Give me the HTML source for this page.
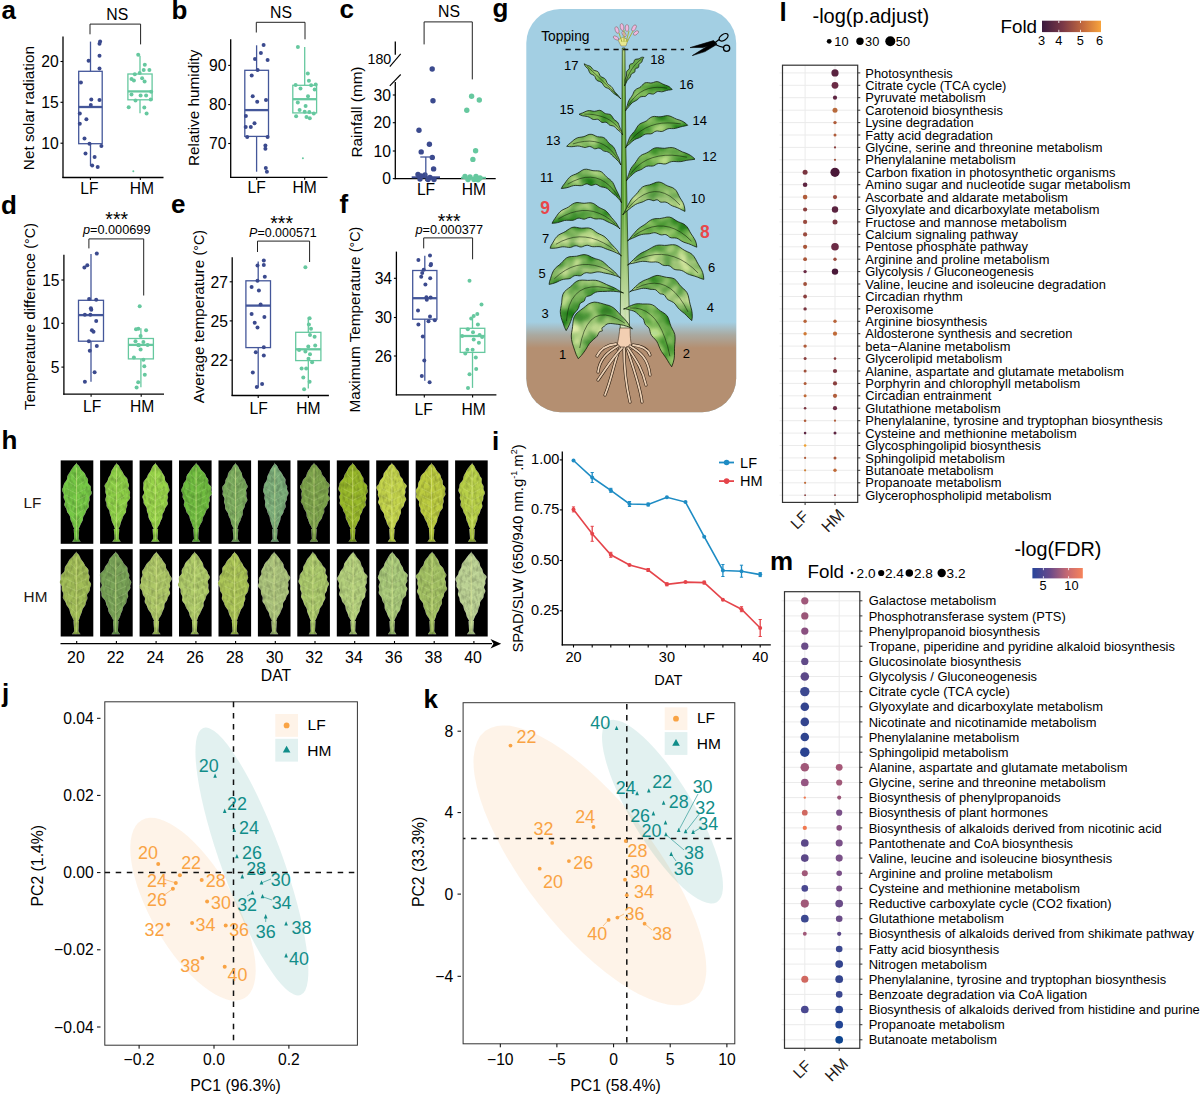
<!DOCTYPE html><html><head><meta charset="utf-8"><title>Figure</title><style>html,body{margin:0;padding:0;background:#fff;}body{width:1200px;height:1095px;overflow:hidden;}svg{display:block;font-family:"Liberation Sans", sans-serif;}</style></head><body><svg width="1200" height="1095" viewBox="0 0 1200 1095" font-family='"Liberation Sans", sans-serif'>
<rect width="1200" height="1095" fill="#fff"/>
<text x="1.5" y="18.5" font-size="26" text-anchor="start" font-weight="bold" fill="#000" >a</text>
<line x1="63.0" y1="36.5" x2="63.0" y2="178.1" stroke="#000" stroke-width="1.3" />
<line x1="62.4" y1="177.5" x2="163.5" y2="177.5" stroke="#000" stroke-width="1.3" />
<line x1="60.5" y1="61.5" x2="63.0" y2="61.5" stroke="#000" stroke-width="1.1" />
<text x="58.7" y="67.2" font-size="15.7" text-anchor="end" fill="#000" >20</text>
<line x1="60.5" y1="102.3" x2="63.0" y2="102.3" stroke="#000" stroke-width="1.1" />
<text x="58.7" y="108.0" font-size="15.7" text-anchor="end" fill="#000" >15</text>
<line x1="60.5" y1="143.2" x2="63.0" y2="143.2" stroke="#000" stroke-width="1.1" />
<text x="58.7" y="148.9" font-size="15.7" text-anchor="end" fill="#000" >10</text>
<line x1="90.4" y1="177.5" x2="90.4" y2="180.0" stroke="#000" stroke-width="1.1" />
<text x="89.4" y="193.8" font-size="15.6" text-anchor="middle" fill="#000" >LF</text>
<line x1="140.3" y1="177.5" x2="140.3" y2="180.0" stroke="#000" stroke-width="1.1" />
<text x="141.8" y="193.8" font-size="15.6" text-anchor="middle" fill="#000" >HM</text>
<text transform="translate(34.2,108.1) rotate(-90)" font-size="15.3" text-anchor="middle" fill="#000">Net solar radiation</text>
<line x1="90.5" y1="41.6" x2="90.5" y2="71.3" stroke="#44579a" stroke-width="1.3" />
<line x1="90.5" y1="143.7" x2="90.5" y2="166.0" stroke="#44579a" stroke-width="1.3" />
<rect x="78.7" y="71.3" width="23.5" height="72.4" fill="none" stroke="#44579a" stroke-width="1.3"/>
<line x1="78.7" y1="107.0" x2="102.2" y2="107.0" stroke="#44579a" stroke-width="2.3" />
<line x1="140.0" y1="55.7" x2="140.0" y2="74.0" stroke="#66c89f" stroke-width="1.3" />
<line x1="140.0" y1="99.8" x2="140.0" y2="113.2" stroke="#66c89f" stroke-width="1.3" />
<rect x="127.9" y="74.0" width="24.2" height="25.8" fill="none" stroke="#66c89f" stroke-width="1.3"/>
<line x1="127.9" y1="91.4" x2="152.1" y2="91.4" stroke="#66c89f" stroke-width="2.3" />
<circle cx="100.1" cy="41.6" r="2.00" fill="#3b4a8e" />
<circle cx="99.5" cy="43.8" r="2.00" fill="#3b4a8e" />
<circle cx="99.5" cy="55.7" r="2.00" fill="#3b4a8e" />
<circle cx="88.6" cy="60.8" r="2.00" fill="#3b4a8e" />
<circle cx="99.5" cy="68.5" r="2.00" fill="#3b4a8e" />
<circle cx="80.9" cy="82.5" r="2.00" fill="#3b4a8e" />
<circle cx="91.3" cy="99.5" r="2.00" fill="#3b4a8e" />
<circle cx="99.5" cy="100.1" r="2.00" fill="#3b4a8e" />
<circle cx="90.8" cy="105.0" r="2.00" fill="#3b4a8e" />
<circle cx="79.8" cy="113.6" r="2.00" fill="#3b4a8e" />
<circle cx="86.4" cy="119.2" r="2.00" fill="#3b4a8e" />
<circle cx="79.8" cy="123.8" r="2.00" fill="#3b4a8e" />
<circle cx="84.5" cy="138.4" r="2.00" fill="#3b4a8e" />
<circle cx="89.5" cy="143.7" r="2.00" fill="#3b4a8e" />
<circle cx="101.4" cy="146.1" r="2.00" fill="#3b4a8e" />
<circle cx="85.5" cy="153.4" r="2.00" fill="#3b4a8e" />
<circle cx="94.6" cy="157.0" r="2.00" fill="#3b4a8e" />
<circle cx="92.2" cy="165.6" r="2.00" fill="#3b4a8e" />
<circle cx="97.7" cy="167.1" r="2.00" fill="#3b4a8e" />
<circle cx="138.2" cy="54.8" r="2.00" fill="#66c89f" />
<circle cx="144.8" cy="64.8" r="2.00" fill="#66c89f" />
<circle cx="143.7" cy="69.9" r="2.00" fill="#66c89f" />
<circle cx="149.4" cy="69.9" r="2.00" fill="#66c89f" />
<circle cx="139.7" cy="73.0" r="2.00" fill="#66c89f" />
<circle cx="134.8" cy="74.3" r="2.00" fill="#66c89f" />
<circle cx="131.5" cy="78.9" r="2.00" fill="#66c89f" />
<circle cx="133.9" cy="80.4" r="2.00" fill="#66c89f" />
<circle cx="142.1" cy="78.2" r="2.00" fill="#66c89f" />
<circle cx="144.6" cy="81.6" r="2.00" fill="#66c89f" />
<circle cx="131.5" cy="94.4" r="2.00" fill="#66c89f" />
<circle cx="140.6" cy="95.5" r="2.00" fill="#66c89f" />
<circle cx="146.1" cy="95.5" r="2.00" fill="#66c89f" />
<circle cx="151.2" cy="91.7" r="2.00" fill="#66c89f" />
<circle cx="150.7" cy="99.5" r="2.00" fill="#66c89f" />
<circle cx="135.5" cy="100.4" r="2.00" fill="#66c89f" />
<circle cx="128.7" cy="107.2" r="2.00" fill="#66c89f" />
<circle cx="144.3" cy="107.4" r="2.00" fill="#66c89f" />
<circle cx="146.6" cy="113.6" r="2.00" fill="#66c89f" />
<circle cx="133.3" cy="171.3" r="1.00" fill="#66c89f" />
<path d="M90.0,34.3 V24.1 H140.6 V44.4" fill="none" stroke="#222" stroke-width="1.0"/>
<text x="117.3" y="19.6" font-size="15.8" text-anchor="middle" fill="#000" >NS</text>
<text x="171.5" y="18.5" font-size="26" text-anchor="start" font-weight="bold" fill="#000" >b</text>
<line x1="230.7" y1="39.3" x2="230.7" y2="177.9" stroke="#000" stroke-width="1.3" />
<line x1="230.1" y1="177.3" x2="327.5" y2="177.3" stroke="#000" stroke-width="1.3" />
<line x1="228.2" y1="65.4" x2="230.7" y2="65.4" stroke="#000" stroke-width="1.1" />
<text x="226.4" y="71.1" font-size="15.7" text-anchor="end" fill="#000" >90</text>
<line x1="228.2" y1="104.6" x2="230.7" y2="104.6" stroke="#000" stroke-width="1.1" />
<text x="226.4" y="110.3" font-size="15.7" text-anchor="end" fill="#000" >80</text>
<line x1="228.2" y1="143.5" x2="230.7" y2="143.5" stroke="#000" stroke-width="1.1" />
<text x="226.4" y="149.2" font-size="15.7" text-anchor="end" fill="#000" >70</text>
<line x1="256.7" y1="177.3" x2="256.7" y2="179.8" stroke="#000" stroke-width="1.1" />
<text x="256.7" y="193.4" font-size="15.6" text-anchor="middle" fill="#000" >LF</text>
<line x1="304.7" y1="177.3" x2="304.7" y2="179.8" stroke="#000" stroke-width="1.1" />
<text x="304.7" y="193.4" font-size="15.6" text-anchor="middle" fill="#000" >HM</text>
<text transform="translate(198.6,107.8) rotate(-90)" font-size="15.3" text-anchor="middle" fill="#000">Relative humidity</text>
<line x1="256.6" y1="45.3" x2="256.6" y2="70.3" stroke="#44579a" stroke-width="1.3" />
<line x1="256.6" y1="136.4" x2="256.6" y2="171.7" stroke="#44579a" stroke-width="1.3" />
<rect x="244.8" y="70.3" width="23.7" height="66.1" fill="none" stroke="#44579a" stroke-width="1.3"/>
<line x1="244.8" y1="110.1" x2="268.5" y2="110.1" stroke="#44579a" stroke-width="2.3" />
<line x1="304.7" y1="47.1" x2="304.7" y2="85.3" stroke="#66c89f" stroke-width="1.3" />
<rect x="292.8" y="85.3" width="23.8" height="27.6" fill="none" stroke="#66c89f" stroke-width="1.3"/>
<line x1="292.8" y1="99.2" x2="316.6" y2="99.2" stroke="#66c89f" stroke-width="2.3" />
<circle cx="263.6" cy="45.1" r="2.00" fill="#3b4a8e" />
<circle cx="260.9" cy="53.0" r="2.00" fill="#3b4a8e" />
<circle cx="255.0" cy="59.0" r="2.00" fill="#3b4a8e" />
<circle cx="267.6" cy="59.9" r="2.00" fill="#3b4a8e" />
<circle cx="257.6" cy="69.9" r="2.00" fill="#3b4a8e" />
<circle cx="251.7" cy="75.4" r="2.00" fill="#3b4a8e" />
<circle cx="252.7" cy="96.2" r="2.00" fill="#3b4a8e" />
<circle cx="257.2" cy="101.7" r="2.00" fill="#3b4a8e" />
<circle cx="266.0" cy="99.9" r="2.00" fill="#3b4a8e" />
<circle cx="245.9" cy="116.0" r="2.00" fill="#3b4a8e" />
<circle cx="254.5" cy="123.3" r="2.00" fill="#3b4a8e" />
<circle cx="245.7" cy="126.9" r="2.00" fill="#3b4a8e" />
<circle cx="250.8" cy="126.9" r="2.00" fill="#3b4a8e" />
<circle cx="247.2" cy="137.0" r="2.00" fill="#3b4a8e" />
<circle cx="267.6" cy="137.0" r="2.00" fill="#3b4a8e" />
<circle cx="265.4" cy="145.5" r="2.00" fill="#3b4a8e" />
<circle cx="265.4" cy="148.8" r="2.00" fill="#3b4a8e" />
<circle cx="265.8" cy="168.0" r="2.00" fill="#3b4a8e" />
<circle cx="266.9" cy="171.7" r="2.00" fill="#3b4a8e" />
<circle cx="297.9" cy="47.1" r="2.00" fill="#66c89f" />
<circle cx="307.8" cy="73.6" r="2.00" fill="#66c89f" />
<circle cx="308.9" cy="80.7" r="2.00" fill="#66c89f" />
<circle cx="295.6" cy="84.9" r="2.00" fill="#66c89f" />
<circle cx="300.5" cy="88.6" r="2.00" fill="#66c89f" />
<circle cx="311.1" cy="85.3" r="2.00" fill="#66c89f" />
<circle cx="315.7" cy="84.4" r="2.00" fill="#66c89f" />
<circle cx="314.7" cy="89.5" r="2.00" fill="#66c89f" />
<circle cx="308.0" cy="96.2" r="2.00" fill="#66c89f" />
<circle cx="297.8" cy="102.6" r="2.00" fill="#66c89f" />
<circle cx="305.6" cy="105.9" r="2.00" fill="#66c89f" />
<circle cx="299.6" cy="110.1" r="2.00" fill="#66c89f" />
<circle cx="304.7" cy="111.8" r="2.00" fill="#66c89f" />
<circle cx="309.3" cy="112.1" r="2.00" fill="#66c89f" />
<circle cx="313.8" cy="113.6" r="2.00" fill="#66c89f" />
<circle cx="296.1" cy="116.3" r="2.00" fill="#66c89f" />
<circle cx="306.5" cy="116.9" r="2.00" fill="#66c89f" />
<circle cx="309.8" cy="118.3" r="2.00" fill="#66c89f" />
<circle cx="302.9" cy="158.3" r="1.00" fill="#66c89f" />
<path d="M256.3,32.5 V22.3 H305.0 V39.3" fill="none" stroke="#222" stroke-width="1.0"/>
<text x="281.0" y="17.5" font-size="15.8" text-anchor="middle" fill="#000" >NS</text>
<text x="339.5" y="17.5" font-size="26" text-anchor="start" font-weight="bold" fill="#000" >c</text>
<line x1="395.3" y1="41.6" x2="395.3" y2="54.8" stroke="#000" stroke-width="1.3" />
<line x1="395.3" y1="82.0" x2="395.3" y2="179.2" stroke="#000" stroke-width="1.3" />
<line x1="389.8" y1="66.7" x2="400.7" y2="53.9" stroke="#000" stroke-width="1.1" />
<line x1="389.8" y1="85.8" x2="400.7" y2="74.5" stroke="#000" stroke-width="1.1" />
<line x1="394.7" y1="178.6" x2="495.7" y2="178.6" stroke="#000" stroke-width="1.3" />
<text x="391.2" y="64.2" font-size="14.2" text-anchor="end" fill="#000" >180</text>
<line x1="392.8" y1="95.0" x2="395.3" y2="95.0" stroke="#000" stroke-width="1.1" />
<text x="391.0" y="100.7" font-size="15.7" text-anchor="end" fill="#000" >30</text>
<line x1="392.8" y1="122.7" x2="395.3" y2="122.7" stroke="#000" stroke-width="1.1" />
<text x="391.0" y="128.4" font-size="15.7" text-anchor="end" fill="#000" >20</text>
<line x1="392.8" y1="151.0" x2="395.3" y2="151.0" stroke="#000" stroke-width="1.1" />
<text x="391.0" y="156.7" font-size="15.7" text-anchor="end" fill="#000" >10</text>
<line x1="392.8" y1="178.6" x2="395.3" y2="178.6" stroke="#000" stroke-width="1.1" />
<text x="391.0" y="184.3" font-size="15.7" text-anchor="end" fill="#000" >0</text>
<line x1="426.0" y1="178.6" x2="426.0" y2="181.1" stroke="#000" stroke-width="1.1" />
<text x="426.0" y="195.0" font-size="15.6" text-anchor="middle" fill="#000" >LF</text>
<line x1="473.8" y1="178.6" x2="473.8" y2="181.1" stroke="#000" stroke-width="1.1" />
<text x="473.8" y="195.0" font-size="15.6" text-anchor="middle" fill="#000" >HM</text>
<text transform="translate(361.5,112.0) rotate(-90)" font-size="15.3" text-anchor="middle" fill="#000">Rainfall (mm)</text>
<circle cx="432.2" cy="69.0" r="2.70" fill="#3b4a8e" />
<circle cx="433.0" cy="100.8" r="2.70" fill="#3b4a8e" />
<circle cx="419.0" cy="130.2" r="2.70" fill="#3b4a8e" />
<circle cx="429.4" cy="144.3" r="2.70" fill="#3b4a8e" />
<circle cx="421.2" cy="151.9" r="2.70" fill="#3b4a8e" />
<circle cx="432.3" cy="157.4" r="2.70" fill="#3b4a8e" />
<circle cx="433.6" cy="168.9" r="2.70" fill="#3b4a8e" />
<circle cx="418.0" cy="174.5" r="2.70" fill="#3b4a8e" />
<circle cx="421.0" cy="176.0" r="2.70" fill="#3b4a8e" />
<circle cx="425.0" cy="175.0" r="2.70" fill="#3b4a8e" />
<circle cx="430.0" cy="177.5" r="2.70" fill="#3b4a8e" />
<circle cx="420.0" cy="179.0" r="2.70" fill="#3b4a8e" />
<circle cx="428.0" cy="179.5" r="2.70" fill="#3b4a8e" />
<circle cx="434.0" cy="179.5" r="2.70" fill="#3b4a8e" />
<circle cx="471.6" cy="96.2" r="2.70" fill="#66c89f" />
<circle cx="479.3" cy="100.0" r="2.70" fill="#66c89f" />
<circle cx="466.8" cy="110.3" r="2.70" fill="#66c89f" />
<circle cx="475.6" cy="150.8" r="2.70" fill="#66c89f" />
<circle cx="472.9" cy="159.4" r="2.70" fill="#66c89f" />
<circle cx="465.0" cy="176.5" r="2.70" fill="#66c89f" />
<circle cx="470.0" cy="177.0" r="2.70" fill="#66c89f" />
<circle cx="476.0" cy="176.5" r="2.70" fill="#66c89f" />
<circle cx="480.0" cy="178.0" r="2.70" fill="#66c89f" />
<circle cx="468.0" cy="179.5" r="2.70" fill="#66c89f" />
<circle cx="474.0" cy="179.5" r="2.70" fill="#66c89f" />
<circle cx="478.0" cy="179.8" r="2.70" fill="#66c89f" />
<line x1="425.8" y1="157.0" x2="425.8" y2="178.0" stroke="#44579a" stroke-width="1.3" />
<line x1="420.3" y1="157.0" x2="431.2" y2="157.0" stroke="#44579a" stroke-width="1.3" />
<line x1="411.7" y1="177.3" x2="440.0" y2="177.3" stroke="#3b4a8e" stroke-width="2.0" />
<line x1="461.0" y1="177.8" x2="486.0" y2="177.8" stroke="#66c89f" stroke-width="2.0" />
<path d="M424.1,44.4 V21.9 H472.3 V79.4" fill="none" stroke="#222" stroke-width="1.0"/>
<text x="449.0" y="16.6" font-size="15.8" text-anchor="middle" fill="#000" >NS</text>
<text x="1.0" y="213.7" font-size="26" text-anchor="start" font-weight="bold" fill="#000" >d</text>
<line x1="63.9" y1="254.8" x2="63.9" y2="394.8" stroke="#000" stroke-width="1.3" />
<line x1="63.3" y1="394.2" x2="164.0" y2="394.2" stroke="#000" stroke-width="1.3" />
<line x1="61.4" y1="280.0" x2="63.9" y2="280.0" stroke="#000" stroke-width="1.1" />
<text x="59.6" y="285.7" font-size="15.7" text-anchor="end" fill="#000" >15</text>
<line x1="61.4" y1="323.3" x2="63.9" y2="323.3" stroke="#000" stroke-width="1.1" />
<text x="59.6" y="329.0" font-size="15.7" text-anchor="end" fill="#000" >10</text>
<line x1="61.4" y1="367.1" x2="63.9" y2="367.1" stroke="#000" stroke-width="1.1" />
<text x="59.6" y="372.8" font-size="15.7" text-anchor="end" fill="#000" >5</text>
<line x1="91.1" y1="394.2" x2="91.1" y2="396.7" stroke="#000" stroke-width="1.1" />
<text x="92.1" y="412.1" font-size="15.6" text-anchor="middle" fill="#000" >LF</text>
<line x1="141.2" y1="394.2" x2="141.2" y2="396.7" stroke="#000" stroke-width="1.1" />
<text x="142.2" y="412.1" font-size="15.6" text-anchor="middle" fill="#000" >HM</text>
<text transform="translate(35.2,316.5) rotate(-90)" font-size="15.3" text-anchor="middle">Temperature difference <tspan font-size="14.3">(°C)</tspan></text>
<line x1="91.0" y1="253.9" x2="91.0" y2="300.3" stroke="#44579a" stroke-width="1.3" />
<line x1="91.0" y1="341.2" x2="91.0" y2="381.7" stroke="#44579a" stroke-width="1.3" />
<rect x="78.5" y="300.3" width="25.0" height="40.9" fill="none" stroke="#44579a" stroke-width="1.3"/>
<line x1="78.5" y1="315.1" x2="103.5" y2="315.1" stroke="#44579a" stroke-width="2.3" />
<line x1="140.9" y1="328.2" x2="140.9" y2="338.5" stroke="#66c89f" stroke-width="1.3" />
<line x1="140.9" y1="358.9" x2="140.9" y2="387.2" stroke="#66c89f" stroke-width="1.3" />
<rect x="128.4" y="338.5" width="25.0" height="20.4" fill="none" stroke="#66c89f" stroke-width="1.3"/>
<line x1="128.4" y1="344.9" x2="153.4" y2="344.9" stroke="#66c89f" stroke-width="2.3" />
<circle cx="96.8" cy="253.6" r="2.00" fill="#3b4a8e" />
<circle cx="87.3" cy="265.2" r="2.00" fill="#3b4a8e" />
<circle cx="84.4" cy="267.4" r="2.00" fill="#3b4a8e" />
<circle cx="89.1" cy="299.0" r="2.00" fill="#3b4a8e" />
<circle cx="96.2" cy="299.8" r="2.00" fill="#3b4a8e" />
<circle cx="90.9" cy="308.3" r="2.00" fill="#3b4a8e" />
<circle cx="91.3" cy="309.8" r="2.00" fill="#3b4a8e" />
<circle cx="84.9" cy="314.7" r="2.00" fill="#3b4a8e" />
<circle cx="90.4" cy="314.7" r="2.00" fill="#3b4a8e" />
<circle cx="96.2" cy="321.1" r="2.00" fill="#3b4a8e" />
<circle cx="91.9" cy="330.2" r="2.00" fill="#3b4a8e" />
<circle cx="93.5" cy="331.7" r="2.00" fill="#3b4a8e" />
<circle cx="88.9" cy="341.2" r="2.00" fill="#3b4a8e" />
<circle cx="96.8" cy="346.1" r="2.00" fill="#3b4a8e" />
<circle cx="89.8" cy="350.7" r="2.00" fill="#3b4a8e" />
<circle cx="94.6" cy="372.2" r="2.00" fill="#3b4a8e" />
<circle cx="84.9" cy="381.7" r="2.00" fill="#3b4a8e" />
<circle cx="139.7" cy="306.3" r="2.00" fill="#66c89f" />
<circle cx="136.0" cy="329.2" r="2.00" fill="#66c89f" />
<circle cx="138.4" cy="328.8" r="2.00" fill="#66c89f" />
<circle cx="146.1" cy="330.2" r="2.00" fill="#66c89f" />
<circle cx="140.6" cy="336.1" r="2.00" fill="#66c89f" />
<circle cx="135.5" cy="341.2" r="2.00" fill="#66c89f" />
<circle cx="143.4" cy="342.1" r="2.00" fill="#66c89f" />
<circle cx="138.2" cy="344.9" r="2.00" fill="#66c89f" />
<circle cx="147.6" cy="344.9" r="2.00" fill="#66c89f" />
<circle cx="140.6" cy="349.4" r="2.00" fill="#66c89f" />
<circle cx="133.9" cy="357.6" r="2.00" fill="#66c89f" />
<circle cx="143.4" cy="359.8" r="2.00" fill="#66c89f" />
<circle cx="144.3" cy="366.2" r="2.00" fill="#66c89f" />
<circle cx="144.8" cy="374.8" r="2.00" fill="#66c89f" />
<circle cx="138.2" cy="382.3" r="2.00" fill="#66c89f" />
<circle cx="136.6" cy="387.6" r="2.00" fill="#66c89f" />
<circle cx="138.8" cy="345.2" r="2.00" fill="#66c89f" />
<path d="M88.9,248.4 V238.9 H143.7 V295.5" fill="none" stroke="#222" stroke-width="1.0"/>
<text x="116.7" y="225.6" font-size="19.5" text-anchor="middle" fill="#000" >***</text>
<text x="82.9" y="234.2" font-size="13.6" textLength="67.6" lengthAdjust="spacingAndGlyphs"><tspan font-style="italic">p</tspan>=0.000699</text>
<text x="171.0" y="213.1" font-size="26" text-anchor="start" font-weight="bold" fill="#000" >e</text>
<line x1="232.2" y1="257.2" x2="232.2" y2="396.1" stroke="#000" stroke-width="1.3" />
<line x1="231.6" y1="395.5" x2="328.9" y2="395.5" stroke="#000" stroke-width="1.3" />
<line x1="229.7" y1="281.8" x2="232.2" y2="281.8" stroke="#000" stroke-width="1.1" />
<text x="227.9" y="287.5" font-size="15.7" text-anchor="end" fill="#000" >27</text>
<line x1="229.7" y1="320.9" x2="232.2" y2="320.9" stroke="#000" stroke-width="1.1" />
<text x="227.9" y="326.6" font-size="15.7" text-anchor="end" fill="#000" >25</text>
<line x1="229.7" y1="360.2" x2="232.2" y2="360.2" stroke="#000" stroke-width="1.1" />
<text x="227.9" y="365.9" font-size="15.7" text-anchor="end" fill="#000" >22</text>
<line x1="258.2" y1="395.5" x2="258.2" y2="398.0" stroke="#000" stroke-width="1.1" />
<text x="258.7" y="413.6" font-size="15.6" text-anchor="middle" fill="#000" >LF</text>
<line x1="308.3" y1="395.5" x2="308.3" y2="398.0" stroke="#000" stroke-width="1.1" />
<text x="308.3" y="413.6" font-size="15.6" text-anchor="middle" fill="#000" >HM</text>
<text transform="translate(203.5,316.6) rotate(-90)" font-size="15.3" text-anchor="middle">Average temperature <tspan font-size="14.3">(°C)</tspan></text>
<line x1="258.2" y1="261.4" x2="258.2" y2="280.8" stroke="#44579a" stroke-width="1.3" />
<line x1="258.2" y1="347.6" x2="258.2" y2="387.5" stroke="#44579a" stroke-width="1.3" />
<rect x="245.9" y="280.8" width="24.6" height="66.8" fill="none" stroke="#44579a" stroke-width="1.3"/>
<line x1="245.9" y1="305.6" x2="270.5" y2="305.6" stroke="#44579a" stroke-width="2.3" />
<line x1="308.3" y1="317.1" x2="308.3" y2="332.3" stroke="#66c89f" stroke-width="1.3" />
<line x1="308.3" y1="360.6" x2="308.3" y2="388.6" stroke="#66c89f" stroke-width="1.3" />
<rect x="295.7" y="332.3" width="25.2" height="28.3" fill="none" stroke="#66c89f" stroke-width="1.3"/>
<line x1="295.7" y1="349.3" x2="320.9" y2="349.3" stroke="#66c89f" stroke-width="2.3" />
<circle cx="263.8" cy="260.4" r="2.00" fill="#3b4a8e" />
<circle cx="263.8" cy="265.0" r="2.00" fill="#3b4a8e" />
<circle cx="257.5" cy="265.6" r="2.00" fill="#3b4a8e" />
<circle cx="264.8" cy="276.8" r="2.00" fill="#3b4a8e" />
<circle cx="257.5" cy="280.8" r="2.00" fill="#3b4a8e" />
<circle cx="251.6" cy="287.1" r="2.00" fill="#3b4a8e" />
<circle cx="258.9" cy="290.4" r="2.00" fill="#3b4a8e" />
<circle cx="260.6" cy="304.5" r="2.00" fill="#3b4a8e" />
<circle cx="251.6" cy="314.0" r="2.00" fill="#3b4a8e" />
<circle cx="264.4" cy="317.1" r="2.00" fill="#3b4a8e" />
<circle cx="254.7" cy="322.8" r="2.00" fill="#3b4a8e" />
<circle cx="257.5" cy="327.6" r="2.00" fill="#3b4a8e" />
<circle cx="263.8" cy="347.2" r="2.00" fill="#3b4a8e" />
<circle cx="255.8" cy="352.2" r="2.00" fill="#3b4a8e" />
<circle cx="263.8" cy="355.4" r="2.00" fill="#3b4a8e" />
<circle cx="252.8" cy="372.4" r="2.00" fill="#3b4a8e" />
<circle cx="262.1" cy="383.9" r="2.00" fill="#3b4a8e" />
<circle cx="256.8" cy="387.1" r="2.00" fill="#3b4a8e" />
<circle cx="305.4" cy="267.3" r="2.00" fill="#66c89f" />
<circle cx="309.6" cy="318.2" r="2.00" fill="#66c89f" />
<circle cx="308.9" cy="324.5" r="2.00" fill="#66c89f" />
<circle cx="311.0" cy="328.7" r="2.00" fill="#66c89f" />
<circle cx="310.0" cy="335.0" r="2.00" fill="#66c89f" />
<circle cx="314.6" cy="336.7" r="2.00" fill="#66c89f" />
<circle cx="308.3" cy="346.5" r="2.00" fill="#66c89f" />
<circle cx="315.2" cy="345.5" r="2.00" fill="#66c89f" />
<circle cx="299.1" cy="350.1" r="2.00" fill="#66c89f" />
<circle cx="305.4" cy="351.4" r="2.00" fill="#66c89f" />
<circle cx="310.0" cy="354.3" r="2.00" fill="#66c89f" />
<circle cx="308.5" cy="358.7" r="2.00" fill="#66c89f" />
<circle cx="312.1" cy="362.3" r="2.00" fill="#66c89f" />
<circle cx="301.6" cy="368.6" r="2.00" fill="#66c89f" />
<circle cx="306.2" cy="368.6" r="2.00" fill="#66c89f" />
<circle cx="303.3" cy="377.6" r="2.00" fill="#66c89f" />
<circle cx="309.6" cy="381.8" r="2.00" fill="#66c89f" />
<circle cx="304.1" cy="389.2" r="2.00" fill="#66c89f" />
<path d="M257.5,252.0 V241.1 H309.6 V262.0" fill="none" stroke="#222" stroke-width="1.0"/>
<text x="281.6" y="229.9" font-size="19.5" text-anchor="middle" fill="#000" >***</text>
<text x="249.1" y="236.6" font-size="13.6" textLength="67.6" lengthAdjust="spacingAndGlyphs"><tspan font-style="italic">P</tspan>=0.000571</text>
<text x="339.5" y="213.1" font-size="26" text-anchor="start" font-weight="bold" fill="#000" >f</text>
<line x1="396.4" y1="251.6" x2="396.4" y2="395.5" stroke="#000" stroke-width="1.3" />
<line x1="395.8" y1="394.9" x2="496.4" y2="394.9" stroke="#000" stroke-width="1.3" />
<line x1="393.9" y1="278.3" x2="396.4" y2="278.3" stroke="#000" stroke-width="1.1" />
<text x="392.1" y="284.0" font-size="15.7" text-anchor="end" fill="#000" >34</text>
<line x1="393.9" y1="317.5" x2="396.4" y2="317.5" stroke="#000" stroke-width="1.1" />
<text x="392.1" y="323.2" font-size="15.7" text-anchor="end" fill="#000" >30</text>
<line x1="393.9" y1="356.0" x2="396.4" y2="356.0" stroke="#000" stroke-width="1.1" />
<text x="392.1" y="361.7" font-size="15.7" text-anchor="end" fill="#000" >26</text>
<line x1="424.3" y1="394.9" x2="424.3" y2="397.4" stroke="#000" stroke-width="1.1" />
<text x="423.6" y="414.7" font-size="15.6" text-anchor="middle" fill="#000" >LF</text>
<line x1="472.6" y1="394.9" x2="472.6" y2="397.4" stroke="#000" stroke-width="1.1" />
<text x="473.6" y="414.7" font-size="15.6" text-anchor="middle" fill="#000" >HM</text>
<text transform="translate(360.0,319.6) rotate(-90)" font-size="15.3" text-anchor="middle">Maximum Temperature <tspan font-size="14.3">(°C)</tspan></text>
<line x1="424.8" y1="255.8" x2="424.8" y2="270.5" stroke="#44579a" stroke-width="1.3" />
<line x1="424.8" y1="319.2" x2="424.8" y2="380.8" stroke="#44579a" stroke-width="1.3" />
<rect x="412.7" y="270.5" width="24.2" height="48.7" fill="none" stroke="#44579a" stroke-width="1.3"/>
<line x1="412.7" y1="298.2" x2="436.9" y2="298.2" stroke="#44579a" stroke-width="2.3" />
<line x1="472.5" y1="318.2" x2="472.5" y2="328.3" stroke="#66c89f" stroke-width="1.3" />
<line x1="472.5" y1="352.4" x2="472.5" y2="387.9" stroke="#66c89f" stroke-width="1.3" />
<rect x="460.2" y="328.3" width="24.6" height="24.1" fill="none" stroke="#66c89f" stroke-width="1.3"/>
<line x1="460.2" y1="336.0" x2="484.8" y2="336.0" stroke="#66c89f" stroke-width="2.3" />
<circle cx="430.0" cy="255.6" r="2.00" fill="#3b4a8e" />
<circle cx="418.4" cy="260.0" r="2.00" fill="#3b4a8e" />
<circle cx="431.0" cy="264.0" r="2.00" fill="#3b4a8e" />
<circle cx="430.6" cy="265.2" r="2.00" fill="#3b4a8e" />
<circle cx="423.7" cy="269.8" r="2.00" fill="#3b4a8e" />
<circle cx="422.2" cy="273.0" r="2.00" fill="#3b4a8e" />
<circle cx="421.2" cy="276.8" r="2.00" fill="#3b4a8e" />
<circle cx="430.2" cy="278.3" r="2.00" fill="#3b4a8e" />
<circle cx="425.4" cy="284.6" r="2.00" fill="#3b4a8e" />
<circle cx="426.4" cy="297.2" r="2.00" fill="#3b4a8e" />
<circle cx="430.6" cy="297.6" r="2.00" fill="#3b4a8e" />
<circle cx="426.8" cy="299.7" r="2.00" fill="#3b4a8e" />
<circle cx="418.0" cy="310.4" r="2.00" fill="#3b4a8e" />
<circle cx="430.0" cy="316.5" r="2.00" fill="#3b4a8e" />
<circle cx="428.5" cy="321.3" r="2.00" fill="#3b4a8e" />
<circle cx="434.8" cy="320.3" r="2.00" fill="#3b4a8e" />
<circle cx="418.4" cy="324.5" r="2.00" fill="#3b4a8e" />
<circle cx="422.8" cy="336.5" r="2.00" fill="#3b4a8e" />
<circle cx="424.3" cy="360.6" r="2.00" fill="#3b4a8e" />
<circle cx="421.8" cy="376.0" r="2.00" fill="#3b4a8e" />
<circle cx="429.6" cy="382.3" r="2.00" fill="#3b4a8e" />
<circle cx="469.5" cy="280.8" r="2.00" fill="#66c89f" />
<circle cx="481.5" cy="304.5" r="2.00" fill="#66c89f" />
<circle cx="477.3" cy="314.0" r="2.00" fill="#66c89f" />
<circle cx="473.7" cy="316.1" r="2.00" fill="#66c89f" />
<circle cx="471.2" cy="318.6" r="2.00" fill="#66c89f" />
<circle cx="477.9" cy="324.5" r="2.00" fill="#66c89f" />
<circle cx="467.8" cy="329.3" r="2.00" fill="#66c89f" />
<circle cx="473.0" cy="332.3" r="2.00" fill="#66c89f" />
<circle cx="479.6" cy="335.0" r="2.00" fill="#66c89f" />
<circle cx="462.1" cy="336.0" r="2.00" fill="#66c89f" />
<circle cx="482.1" cy="337.1" r="2.00" fill="#66c89f" />
<circle cx="473.7" cy="339.6" r="2.00" fill="#66c89f" />
<circle cx="478.9" cy="342.8" r="2.00" fill="#66c89f" />
<circle cx="467.4" cy="349.7" r="2.00" fill="#66c89f" />
<circle cx="472.6" cy="349.7" r="2.00" fill="#66c89f" />
<circle cx="465.3" cy="353.5" r="2.00" fill="#66c89f" />
<circle cx="475.8" cy="357.5" r="2.00" fill="#66c89f" />
<circle cx="476.2" cy="369.0" r="2.00" fill="#66c89f" />
<circle cx="469.5" cy="374.3" r="2.00" fill="#66c89f" />
<circle cx="468.0" cy="387.9" r="2.00" fill="#66c89f" />
<path d="M423.7,248.4 V237.9 H472.6 V259.3" fill="none" stroke="#222" stroke-width="1.0"/>
<text x="449.2" y="228.1" font-size="19.5" text-anchor="middle" fill="#000" >***</text>
<text x="415.4" y="234.1" font-size="13.6" textLength="67.6" lengthAdjust="spacingAndGlyphs"><tspan font-style="italic">p</tspan>=0.000377</text>
<text x="492.5" y="17.3" font-size="26" text-anchor="start" font-weight="bold" fill="#000" >g</text>
<defs><linearGradient id="soil" x1="0" y1="0" x2="0" y2="1"><stop offset="0" stop-color="#a3cfe3"/><stop offset="0.195" stop-color="#a3cfe3"/><stop offset="0.31" stop-color="#aaa9a0"/><stop offset="0.425" stop-color="#b48f71"/><stop offset="1" stop-color="#b48f71"/></linearGradient><linearGradient id="lg1" x1="0" y1="0" x2="1" y2="1"><stop offset="0" stop-color="#c8e39a"/><stop offset="0.45" stop-color="#2f8f24"/><stop offset="1" stop-color="#6cb64a"/></linearGradient><linearGradient id="lg2" x1="0" y1="1" x2="1" y2="0"><stop offset="0" stop-color="#22801c"/><stop offset="0.5" stop-color="#7cc254"/><stop offset="1" stop-color="#2c8a22"/></linearGradient><linearGradient id="lg3" x1="0" y1="0" x2="0" y2="1"><stop offset="0" stop-color="#4aa032"/><stop offset="0.5" stop-color="#c4de98"/><stop offset="1" stop-color="#3a9228"/></linearGradient><linearGradient id="stemg" x1="0" y1="0" x2="1" y2="0"><stop offset="0" stop-color="#4a8c28"/><stop offset="0.5" stop-color="#86bc52"/><stop offset="1" stop-color="#4a8c28"/></linearGradient><linearGradient id="stemlow" x1="0" y1="0" x2="0" y2="1"><stop offset="0" stop-color="#8cc060"/><stop offset="1" stop-color="#d8e8c0"/></linearGradient></defs>
<rect x="526.3" y="9.0" width="209.9" height="403.2" rx="34" ry="34" fill="#a3cfe3"/>
<clipPath id="gclip"><rect x="526.3" y="9.0" width="209.9" height="403.2" rx="34" ry="34"/></clipPath>
<g clip-path="url(#gclip)"><rect x="526" y="300" width="211" height="113" fill="url(#soil)"/></g>
<linearGradient id="stemv" x1="0" y1="0" x2="0" y2="1"><stop offset="0" stop-color="#b4d47c"/><stop offset="0.12" stop-color="#6aaa3a"/><stop offset="0.2" stop-color="#5aa032"/><stop offset="0.55" stop-color="#5ea436"/><stop offset="0.8" stop-color="#a8cc84"/><stop offset="1" stop-color="#dce8c6"/></linearGradient>
<path d="M622.3,48 L624.9,48 L625.9,150 L627.9,250 L629.6,330 L620.2,330 L620.9,250 L621.7,150 Z" fill="url(#stemv)" stroke="#1e3510" stroke-width="0.7"/>
<path d="M623.6,52 L623.9,150 L625.0,250 L625.2,325" fill="none" stroke="#b8dc90" stroke-width="0.9" opacity="0.6"/>
<filter id="pmot" x="-5%" y="-5%" width="110%" height="110%" color-interpolation-filters="sRGB"><feTurbulence type="fractalNoise" baseFrequency="0.065" numOctaves="2" seed="11" result="n"/><feColorMatrix in="n" type="matrix" values="1.77 0 0 0 -0.43  1.08 0 0 0 0.12  1.30 0 0 0 -0.32  0 0 0 0 1" result="c"/><feComposite in="c" in2="SourceGraphic" operator="arithmetic" k1="0" k2="0.5" k3="0.5" k4="0" result="mix"/><feComposite in="mix" in2="SourceGraphic" operator="in"/></filter>
<path d="M624.5,86.0 L624.9,84.9 L625.6,83.9 L626.1,83.0 L626.5,81.9 L627.0,80.9 L627.5,80.0 L628.2,79.2 L629.1,78.4 L629.9,77.7 L630.4,76.8 L630.7,75.8 L630.9,74.9 L631.4,74.0 L632.2,73.4 L633.3,72.9 L634.3,72.5 L634.8,71.8 L635.0,70.8 L635.0,69.8 L635.3,68.9 L636.1,68.3 L637.1,68.1 L638.1,67.8 L638.6,67.2 L638.8,66.2 L638.9,65.1 L639.1,64.1 L639.7,63.5 L640.5,63.1 L641.2,62.7 L641.8,62.1 L642.1,61.1 L642.4,60.1 L642.8,59.1 L643.3,58.3 L643.8,57.4 L643.8,57.4 L642.6,57.2 L641.6,57.3 L640.7,57.7 L639.9,58.2 L639.1,58.7 L638.1,59.0 L636.9,59.1 L635.7,59.3 L634.8,59.7 L634.3,60.6 L634.0,61.7 L633.5,62.6 L632.8,63.3 L631.7,63.7 L630.5,64.1 L629.7,64.8 L629.4,65.8 L629.4,67.1 L629.4,68.2 L628.9,69.2 L628.1,69.9 L627.3,70.6 L626.7,71.5 L626.5,72.6 L626.5,73.8 L626.6,75.0 L626.4,76.1 L626.0,77.1 L625.5,78.1 L625.2,79.1 L625.0,80.2 L625.0,81.4 L625.0,82.6 L624.9,83.7 L624.7,84.9 L624.5,86.0Z" fill="url(#lg2)" filter="url(#pmot)"/>
<path d="M624.5,86.0 L624.9,84.9 L625.6,83.9 L626.1,83.0 L626.5,81.9 L627.0,80.9 L627.5,80.0 L628.2,79.2 L629.1,78.4 L629.9,77.7 L630.4,76.8 L630.7,75.8 L630.9,74.9 L631.4,74.0 L632.2,73.4 L633.3,72.9 L634.3,72.5 L634.8,71.8 L635.0,70.8 L635.0,69.8 L635.3,68.9 L636.1,68.3 L637.1,68.1 L638.1,67.8 L638.6,67.2 L638.8,66.2 L638.9,65.1 L639.1,64.1 L639.7,63.5 L640.5,63.1 L641.2,62.7 L641.8,62.1 L642.1,61.1 L642.4,60.1 L642.8,59.1 L643.3,58.3 L643.8,57.4 L643.8,57.4 L642.6,57.2 L641.6,57.3 L640.7,57.7 L639.9,58.2 L639.1,58.7 L638.1,59.0 L636.9,59.1 L635.7,59.3 L634.8,59.7 L634.3,60.6 L634.0,61.7 L633.5,62.6 L632.8,63.3 L631.7,63.7 L630.5,64.1 L629.7,64.8 L629.4,65.8 L629.4,67.1 L629.4,68.2 L628.9,69.2 L628.1,69.9 L627.3,70.6 L626.7,71.5 L626.5,72.6 L626.5,73.8 L626.6,75.0 L626.4,76.1 L626.0,77.1 L625.5,78.1 L625.2,79.1 L625.0,80.2 L625.0,81.4 L625.0,82.6 L624.9,83.7 L624.7,84.9 L624.5,86.0Z" fill="none" stroke="#0f1c08" stroke-width="0.8" stroke-linejoin="round"/>
<path d="M625.5,82.7 L626.6,79.7 L627.8,76.7 L629.1,73.9 L630.5,71.3 L632.1,68.8 L633.7,66.5 L635.5,64.4 L637.4,62.4 L639.4,60.6 L641.6,58.9" fill="none" stroke="#0f1c08" stroke-width="0.55"/>
<path d="M621.0,99.0 L619.9,97.8 L618.9,96.4 L617.9,95.2 L616.8,94.0 L615.7,92.9 L614.7,91.7 L613.8,90.3 L613.0,88.9 L612.2,87.6 L611.1,86.4 L609.9,85.5 L608.6,84.7 L607.6,83.6 L606.8,82.3 L606.2,80.8 L605.5,79.4 L604.5,78.4 L603.2,77.7 L601.8,77.1 L600.6,76.4 L599.8,75.2 L599.2,73.8 L598.6,72.5 L597.7,71.5 L596.4,71.0 L594.9,70.6 L593.6,70.0 L592.6,69.2 L591.9,68.1 L591.1,67.1 L590.2,66.3 L588.9,65.8 L587.6,65.4 L586.4,64.9 L585.3,64.3 L584.2,63.8 L584.2,63.8 L584.7,65.1 L585.3,66.2 L586.1,67.1 L587.0,67.9 L587.9,68.8 L588.6,69.9 L589.0,71.2 L589.6,72.5 L590.3,73.6 L591.5,74.3 L592.8,74.8 L594.0,75.4 L594.9,76.5 L595.4,77.8 L596.0,79.2 L596.8,80.3 L598.1,81.0 L599.6,81.5 L601.0,82.1 L602.1,83.0 L602.9,84.2 L603.7,85.5 L604.6,86.7 L605.9,87.5 L607.4,88.1 L608.8,88.8 L610.1,89.7 L611.1,90.8 L612.2,92.0 L613.3,93.1 L614.5,94.0 L615.9,94.9 L617.3,95.8 L618.5,96.8 L619.8,97.9 L621.0,99.0Z" fill="url(#lg2)" filter="url(#pmot)"/>
<path d="M621.0,99.0 L619.9,97.8 L618.9,96.4 L617.9,95.2 L616.8,94.0 L615.7,92.9 L614.7,91.7 L613.8,90.3 L613.0,88.9 L612.2,87.6 L611.1,86.4 L609.9,85.5 L608.6,84.7 L607.6,83.6 L606.8,82.3 L606.2,80.8 L605.5,79.4 L604.5,78.4 L603.2,77.7 L601.8,77.1 L600.6,76.4 L599.8,75.2 L599.2,73.8 L598.6,72.5 L597.7,71.5 L596.4,71.0 L594.9,70.6 L593.6,70.0 L592.6,69.2 L591.9,68.1 L591.1,67.1 L590.2,66.3 L588.9,65.8 L587.6,65.4 L586.4,64.9 L585.3,64.3 L584.2,63.8 L584.2,63.8 L584.7,65.1 L585.3,66.2 L586.1,67.1 L587.0,67.9 L587.9,68.8 L588.6,69.9 L589.0,71.2 L589.6,72.5 L590.3,73.6 L591.5,74.3 L592.8,74.8 L594.0,75.4 L594.9,76.5 L595.4,77.8 L596.0,79.2 L596.8,80.3 L598.1,81.0 L599.6,81.5 L601.0,82.1 L602.1,83.0 L602.9,84.2 L603.7,85.5 L604.6,86.7 L605.9,87.5 L607.4,88.1 L608.8,88.8 L610.1,89.7 L611.1,90.8 L612.2,92.0 L613.3,93.1 L614.5,94.0 L615.9,94.9 L617.3,95.8 L618.5,96.8 L619.8,97.9 L621.0,99.0Z" fill="none" stroke="#0f1c08" stroke-width="0.8" stroke-linejoin="round"/>
<path d="M617.5,95.5 L614.1,92.2 L610.8,88.9 L607.6,85.8 L604.4,82.7 L601.3,79.7 L598.3,76.8 L595.3,74.0 L592.4,71.3 L589.6,68.7 L586.9,66.2" fill="none" stroke="#0f1c08" stroke-width="0.55"/>
<path d="M625.4,111.0 L626.4,109.4 L627.7,108.0 L628.9,106.6 L629.9,105.3 L631.0,104.0 L632.2,102.8 L633.6,101.9 L635.0,101.1 L636.4,100.4 L637.6,99.6 L638.5,98.6 L639.5,97.6 L640.6,96.9 L641.9,96.6 L643.4,96.5 L644.8,96.5 L645.9,96.1 L646.8,95.3 L647.6,94.3 L648.7,93.7 L649.9,93.6 L651.2,93.9 L652.5,94.1 L653.6,94.0 L654.8,93.3 L656.0,92.3 L657.3,91.6 L658.7,91.5 L660.1,91.6 L661.5,91.8 L663.1,91.6 L664.7,91.1 L666.5,90.5 L668.3,90.1 L670.2,89.9 L672.2,89.5 L672.2,89.5 L670.7,87.9 L669.1,86.6 L667.4,85.8 L665.7,85.2 L664.0,84.6 L662.3,83.8 L660.6,82.9 L658.9,82.0 L657.1,81.6 L655.3,81.8 L653.6,82.4 L652.0,82.9 L650.3,83.0 L648.5,82.7 L646.6,82.6 L644.9,82.9 L643.4,83.9 L642.2,85.3 L641.0,86.6 L639.6,87.6 L638.1,88.3 L636.5,89.0 L635.2,90.0 L634.1,91.4 L633.4,93.1 L632.7,94.7 L631.8,96.2 L630.8,97.6 L629.8,98.9 L628.9,100.4 L628.2,102.1 L627.7,103.9 L627.2,105.7 L626.6,107.4 L626.1,109.3 L625.4,111.0Z" fill="url(#lg2)" filter="url(#pmot)"/>
<path d="M625.4,111.0 L626.4,109.4 L627.7,108.0 L628.9,106.6 L629.9,105.3 L631.0,104.0 L632.2,102.8 L633.6,101.9 L635.0,101.1 L636.4,100.4 L637.6,99.6 L638.5,98.6 L639.5,97.6 L640.6,96.9 L641.9,96.6 L643.4,96.5 L644.8,96.5 L645.9,96.1 L646.8,95.3 L647.6,94.3 L648.7,93.7 L649.9,93.6 L651.2,93.9 L652.5,94.1 L653.6,94.0 L654.8,93.3 L656.0,92.3 L657.3,91.6 L658.7,91.5 L660.1,91.6 L661.5,91.8 L663.1,91.6 L664.7,91.1 L666.5,90.5 L668.3,90.1 L670.2,89.9 L672.2,89.5 L672.2,89.5 L670.7,87.9 L669.1,86.6 L667.4,85.8 L665.7,85.2 L664.0,84.6 L662.3,83.8 L660.6,82.9 L658.9,82.0 L657.1,81.6 L655.3,81.8 L653.6,82.4 L652.0,82.9 L650.3,83.0 L648.5,82.7 L646.6,82.6 L644.9,82.9 L643.4,83.9 L642.2,85.3 L641.0,86.6 L639.6,87.6 L638.1,88.3 L636.5,89.0 L635.2,90.0 L634.1,91.4 L633.4,93.1 L632.7,94.7 L631.8,96.2 L630.8,97.6 L629.8,98.9 L628.9,100.4 L628.2,102.1 L627.7,103.9 L627.2,105.7 L626.6,107.4 L626.1,109.3 L625.4,111.0Z" fill="none" stroke="#0f1c08" stroke-width="0.8" stroke-linejoin="round"/>
<path d="M628.0,106.1 L630.8,101.8 L633.8,98.0 L637.1,94.8 L640.6,92.2 L644.4,90.1 L648.4,88.6 L652.7,87.7 L657.2,87.3 L662.0,87.5 L667.0,88.2" fill="none" stroke="#0f1c08" stroke-width="0.55"/>
<path d="M622.7,135.0 L622.2,133.7 L621.9,132.2 L621.5,130.9 L620.9,129.6 L620.3,128.4 L619.7,127.2 L619.2,125.8 L618.7,124.4 L618.1,123.0 L617.2,121.8 L616.1,121.0 L614.9,120.2 L613.9,119.3 L613.0,118.0 L612.2,116.6 L611.2,115.3 L610.0,114.4 L608.4,114.1 L606.8,113.9 L605.3,113.6 L604.0,112.8 L602.7,111.7 L601.3,110.8 L599.8,110.3 L598.1,110.5 L596.3,111.0 L594.6,111.3 L593.0,111.2 L591.3,110.8 L589.6,110.6 L587.9,110.7 L586.1,111.3 L584.3,112.1 L582.6,112.9 L580.8,113.5 L579.0,114.3 L579.0,114.3 L580.9,115.2 L582.6,115.8 L584.4,116.1 L586.0,116.3 L587.6,116.6 L589.2,117.2 L590.7,118.1 L592.0,119.0 L593.4,119.5 L594.8,119.5 L596.2,119.3 L597.6,119.3 L598.9,119.9 L599.9,120.8 L600.9,121.8 L601.9,122.4 L603.2,122.5 L604.6,122.3 L605.9,122.2 L607.0,122.7 L607.9,123.5 L608.7,124.4 L609.6,125.1 L610.7,125.5 L612.0,125.7 L613.3,126.0 L614.4,126.6 L615.3,127.4 L616.1,128.3 L617.0,129.2 L618.0,130.0 L619.1,130.8 L620.1,131.7 L621.1,132.7 L622.0,133.8 L622.7,135.0Z" fill="url(#lg2)" filter="url(#pmot)"/>
<path d="M622.7,135.0 L622.2,133.7 L621.9,132.2 L621.5,130.9 L620.9,129.6 L620.3,128.4 L619.7,127.2 L619.2,125.8 L618.7,124.4 L618.1,123.0 L617.2,121.8 L616.1,121.0 L614.9,120.2 L613.9,119.3 L613.0,118.0 L612.2,116.6 L611.2,115.3 L610.0,114.4 L608.4,114.1 L606.8,113.9 L605.3,113.6 L604.0,112.8 L602.7,111.7 L601.3,110.8 L599.8,110.3 L598.1,110.5 L596.3,111.0 L594.6,111.3 L593.0,111.2 L591.3,110.8 L589.6,110.6 L587.9,110.7 L586.1,111.3 L584.3,112.1 L582.6,112.9 L580.8,113.5 L579.0,114.3 L579.0,114.3 L580.9,115.2 L582.6,115.8 L584.4,116.1 L586.0,116.3 L587.6,116.6 L589.2,117.2 L590.7,118.1 L592.0,119.0 L593.4,119.5 L594.8,119.5 L596.2,119.3 L597.6,119.3 L598.9,119.9 L599.9,120.8 L600.9,121.8 L601.9,122.4 L603.2,122.5 L604.6,122.3 L605.9,122.2 L607.0,122.7 L607.9,123.5 L608.7,124.4 L609.6,125.1 L610.7,125.5 L612.0,125.7 L613.3,126.0 L614.4,126.6 L615.3,127.4 L616.1,128.3 L617.0,129.2 L618.0,130.0 L619.1,130.8 L620.1,131.7 L621.1,132.7 L622.0,133.8 L622.7,135.0Z" fill="none" stroke="#0f1c08" stroke-width="0.8" stroke-linejoin="round"/>
<path d="M620.8,131.3 L618.5,128.0 L616.0,125.1 L613.1,122.5 L609.9,120.2 L606.4,118.3 L602.6,116.8 L598.5,115.6 L594.1,114.7 L589.4,114.2 L584.3,114.1" fill="none" stroke="#0f1c08" stroke-width="0.55"/>
<path d="M625.4,148.0 L626.7,146.3 L628.3,144.9 L629.9,143.6 L631.4,142.2 L632.8,141.0 L634.4,139.8 L636.1,138.9 L637.9,138.3 L639.6,137.6 L641.1,136.8 L642.5,135.8 L643.8,134.9 L645.3,134.2 L647.0,133.9 L648.8,133.9 L650.5,133.9 L652.0,133.5 L653.3,132.7 L654.6,131.7 L656.1,131.1 L657.7,131.0 L659.4,131.3 L661.1,131.5 L662.7,131.3 L664.4,130.5 L666.1,129.5 L667.9,128.8 L669.8,128.5 L671.7,128.6 L673.7,128.6 L675.7,128.3 L677.9,127.7 L680.2,127.0 L682.6,126.4 L685.1,125.9 L687.7,125.3 L687.7,125.3 L685.7,123.3 L683.5,121.8 L681.3,120.7 L679.0,119.9 L676.7,119.2 L674.5,118.2 L672.3,117.1 L670.0,116.1 L667.7,115.6 L665.4,115.8 L663.2,116.3 L661.0,116.7 L658.8,116.8 L656.6,116.6 L654.3,116.4 L652.1,116.8 L650.2,117.8 L648.4,119.2 L646.7,120.7 L644.9,121.7 L642.9,122.5 L641.0,123.3 L639.2,124.4 L637.8,126.0 L636.6,127.9 L635.5,129.8 L634.3,131.5 L632.9,133.0 L631.6,134.5 L630.4,136.2 L629.4,138.1 L628.6,140.1 L627.9,142.1 L627.1,144.1 L626.4,146.1 L625.4,148.0Z" fill="url(#lg2)" filter="url(#pmot)"/>
<path d="M625.4,148.0 L626.7,146.3 L628.3,144.9 L629.9,143.6 L631.4,142.2 L632.8,141.0 L634.4,139.8 L636.1,138.9 L637.9,138.3 L639.6,137.6 L641.1,136.8 L642.5,135.8 L643.8,134.9 L645.3,134.2 L647.0,133.9 L648.8,133.9 L650.5,133.9 L652.0,133.5 L653.3,132.7 L654.6,131.7 L656.1,131.1 L657.7,131.0 L659.4,131.3 L661.1,131.5 L662.7,131.3 L664.4,130.5 L666.1,129.5 L667.9,128.8 L669.8,128.5 L671.7,128.6 L673.7,128.6 L675.7,128.3 L677.9,127.7 L680.2,127.0 L682.6,126.4 L685.1,125.9 L687.7,125.3 L687.7,125.3 L685.7,123.3 L683.5,121.8 L681.3,120.7 L679.0,119.9 L676.7,119.2 L674.5,118.2 L672.3,117.1 L670.0,116.1 L667.7,115.6 L665.4,115.8 L663.2,116.3 L661.0,116.7 L658.8,116.8 L656.6,116.6 L654.3,116.4 L652.1,116.8 L650.2,117.8 L648.4,119.2 L646.7,120.7 L644.9,121.7 L642.9,122.5 L641.0,123.3 L639.2,124.4 L637.8,126.0 L636.6,127.9 L635.5,129.8 L634.3,131.5 L632.9,133.0 L631.6,134.5 L630.4,136.2 L629.4,138.1 L628.6,140.1 L627.9,142.1 L627.1,144.1 L626.4,146.1 L625.4,148.0Z" fill="none" stroke="#0f1c08" stroke-width="0.8" stroke-linejoin="round"/>
<path d="M628.8,142.8 L632.6,138.2 L636.6,134.2 L641.0,130.8 L645.7,128.0 L650.8,125.8 L656.1,124.2 L661.8,123.2 L667.8,122.9 L674.1,123.1 L680.7,123.9" fill="none" stroke="#0f1c08" stroke-width="0.55"/>
<path d="M620.8,165.0 L620.1,163.0 L619.6,160.9 L619.0,159.0 L618.2,157.1 L617.3,155.4 L616.5,153.6 L615.8,151.7 L615.1,149.8 L614.2,148.1 L613.1,146.5 L611.7,145.3 L610.2,144.2 L608.8,143.0 L607.6,141.5 L606.4,139.8 L605.0,138.4 L603.3,137.4 L601.4,137.0 L599.4,136.9 L597.5,136.7 L595.7,136.0 L593.9,135.1 L591.9,134.4 L589.9,134.3 L587.9,134.8 L585.9,135.8 L583.9,136.6 L581.9,137.0 L579.9,137.3 L577.8,137.7 L575.8,138.6 L573.9,139.9 L572.1,141.5 L570.3,143.0 L568.4,144.5 L566.7,146.3 L566.7,146.3 L569.3,146.6 L571.6,146.7 L573.8,146.5 L575.8,146.2 L577.7,146.0 L579.7,146.2 L581.6,146.7 L583.4,147.2 L585.1,147.5 L586.6,147.2 L588.1,146.7 L589.6,146.5 L591.0,146.8 L592.3,147.5 L593.5,148.3 L594.7,148.8 L596.0,148.7 L597.5,148.3 L598.9,148.1 L600.2,148.5 L601.3,149.2 L602.3,150.1 L603.4,150.8 L604.8,151.3 L606.4,151.5 L608.0,152.0 L609.4,152.8 L610.6,153.8 L611.7,155.0 L612.9,156.2 L614.3,157.4 L615.7,158.7 L617.1,160.0 L618.5,161.5 L619.8,163.2 L620.8,165.0Z" fill="url(#lg1)" filter="url(#pmot)"/>
<path d="M620.8,165.0 L620.1,163.0 L619.6,160.9 L619.0,159.0 L618.2,157.1 L617.3,155.4 L616.5,153.6 L615.8,151.7 L615.1,149.8 L614.2,148.1 L613.1,146.5 L611.7,145.3 L610.2,144.2 L608.8,143.0 L607.6,141.5 L606.4,139.8 L605.0,138.4 L603.3,137.4 L601.4,137.0 L599.4,136.9 L597.5,136.7 L595.7,136.0 L593.9,135.1 L591.9,134.4 L589.9,134.3 L587.9,134.8 L585.9,135.8 L583.9,136.6 L581.9,137.0 L579.9,137.3 L577.8,137.7 L575.8,138.6 L573.9,139.9 L572.1,141.5 L570.3,143.0 L568.4,144.5 L566.7,146.3 L566.7,146.3 L569.3,146.6 L571.6,146.7 L573.8,146.5 L575.8,146.2 L577.7,146.0 L579.7,146.2 L581.6,146.7 L583.4,147.2 L585.1,147.5 L586.6,147.2 L588.1,146.7 L589.6,146.5 L591.0,146.8 L592.3,147.5 L593.5,148.3 L594.7,148.8 L596.0,148.7 L597.5,148.3 L598.9,148.1 L600.2,148.5 L601.3,149.2 L602.3,150.1 L603.4,150.8 L604.8,151.3 L606.4,151.5 L608.0,152.0 L609.4,152.8 L610.6,153.8 L611.7,155.0 L612.9,156.2 L614.3,157.4 L615.7,158.7 L617.1,160.0 L618.5,161.5 L619.8,163.2 L620.8,165.0Z" fill="none" stroke="#0f1c08" stroke-width="0.8" stroke-linejoin="round"/>
<path d="M618.0,159.5 L614.9,154.8 L611.5,150.7 L607.8,147.4 L603.7,144.7 L599.4,142.8 L594.7,141.6 L589.7,141.1 L584.4,141.4 L578.8,142.3 L572.9,143.9" fill="none" stroke="#0f1c08" stroke-width="0.55"/>
<path d="M626.3,181.0 L627.5,179.1 L629.2,177.6 L630.8,176.1 L632.3,174.7 L633.8,173.3 L635.4,172.1 L637.1,171.1 L639.0,170.4 L640.8,169.7 L642.3,168.9 L643.7,167.9 L645.1,167.0 L646.7,166.3 L648.5,166.0 L650.4,166.1 L652.1,166.1 L653.7,165.8 L655.2,165.0 L656.7,164.1 L658.3,163.5 L660.1,163.4 L662.0,163.7 L663.8,164.0 L665.7,163.9 L667.6,163.2 L669.6,162.2 L671.7,161.6 L673.9,161.4 L676.1,161.6 L678.4,161.7 L680.9,161.6 L683.5,161.1 L686.2,160.4 L689.0,160.0 L691.9,159.7 L695.0,159.2 L695.0,159.2 L692.6,156.9 L690.2,155.2 L687.6,153.8 L685.0,152.8 L682.4,151.9 L679.9,150.7 L677.4,149.4 L674.8,148.2 L672.3,147.6 L669.7,147.6 L667.2,147.9 L664.7,148.3 L662.2,148.2 L659.7,147.9 L657.2,147.7 L654.8,148.0 L652.6,149.0 L650.6,150.4 L648.6,151.8 L646.6,152.9 L644.5,153.8 L642.4,154.6 L640.5,155.8 L638.9,157.5 L637.5,159.4 L636.3,161.4 L635.0,163.2 L633.6,164.9 L632.3,166.5 L631.0,168.4 L630.1,170.4 L629.3,172.5 L628.6,174.6 L627.8,176.8 L627.2,179.0 L626.3,181.0Z" fill="url(#lg2)" filter="url(#pmot)"/>
<path d="M626.3,181.0 L627.5,179.1 L629.2,177.6 L630.8,176.1 L632.3,174.7 L633.8,173.3 L635.4,172.1 L637.1,171.1 L639.0,170.4 L640.8,169.7 L642.3,168.9 L643.7,167.9 L645.1,167.0 L646.7,166.3 L648.5,166.0 L650.4,166.1 L652.1,166.1 L653.7,165.8 L655.2,165.0 L656.7,164.1 L658.3,163.5 L660.1,163.4 L662.0,163.7 L663.8,164.0 L665.7,163.9 L667.6,163.2 L669.6,162.2 L671.7,161.6 L673.9,161.4 L676.1,161.6 L678.4,161.7 L680.9,161.6 L683.5,161.1 L686.2,160.4 L689.0,160.0 L691.9,159.7 L695.0,159.2 L695.0,159.2 L692.6,156.9 L690.2,155.2 L687.6,153.8 L685.0,152.8 L682.4,151.9 L679.9,150.7 L677.4,149.4 L674.8,148.2 L672.3,147.6 L669.7,147.6 L667.2,147.9 L664.7,148.3 L662.2,148.2 L659.7,147.9 L657.2,147.7 L654.8,148.0 L652.6,149.0 L650.6,150.4 L648.6,151.8 L646.6,152.9 L644.5,153.8 L642.4,154.6 L640.5,155.8 L638.9,157.5 L637.5,159.4 L636.3,161.4 L635.0,163.2 L633.6,164.9 L632.3,166.5 L631.0,168.4 L630.1,170.4 L629.3,172.5 L628.6,174.6 L627.8,176.8 L627.2,179.0 L626.3,181.0Z" fill="none" stroke="#0f1c08" stroke-width="0.8" stroke-linejoin="round"/>
<path d="M629.6,175.3 L633.4,170.4 L637.6,166.1 L642.2,162.6 L647.3,159.7 L652.8,157.6 L658.8,156.1 L665.1,155.3 L672.0,155.2 L679.2,155.9 L686.9,157.2" fill="none" stroke="#0f1c08" stroke-width="0.55"/>
<path d="M621.7,203.0 L620.7,200.6 L620.0,198.0 L619.1,195.6 L618.1,193.4 L617.0,191.3 L615.9,189.2 L614.9,187.0 L614.0,184.8 L612.9,182.7 L611.5,181.0 L609.9,179.5 L608.2,178.3 L606.5,176.9 L605.0,175.3 L603.4,173.5 L601.7,172.0 L599.7,171.1 L597.5,170.8 L595.2,170.8 L593.0,170.7 L590.9,170.2 L588.7,169.6 L586.4,169.2 L584.1,169.4 L581.9,170.4 L579.9,171.8 L577.8,173.1 L575.8,174.1 L573.6,174.9 L571.4,175.9 L569.4,177.4 L567.6,179.4 L566.0,181.6 L564.4,183.8 L562.7,186.0 L561.3,188.5 L561.3,188.5 L564.3,188.2 L566.9,187.7 L569.3,187.0 L571.5,186.2 L573.6,185.6 L575.8,185.4 L577.9,185.5 L580.0,185.7 L581.7,185.6 L583.3,185.1 L584.7,184.4 L586.1,183.9 L587.6,184.0 L589.0,184.6 L590.3,185.2 L591.5,185.5 L592.7,185.2 L594.1,184.7 L595.5,184.3 L596.9,184.5 L598.1,185.2 L599.2,186.0 L600.5,186.6 L602.0,187.0 L603.8,187.3 L605.6,187.8 L607.3,188.6 L608.7,189.7 L610.2,191.1 L611.7,192.5 L613.4,193.9 L615.2,195.3 L616.9,197.0 L618.6,198.8 L620.3,200.7 L621.7,203.0Z" fill="url(#lg1)" filter="url(#pmot)"/>
<path d="M621.7,203.0 L620.7,200.6 L620.0,198.0 L619.1,195.6 L618.1,193.4 L617.0,191.3 L615.9,189.2 L614.9,187.0 L614.0,184.8 L612.9,182.7 L611.5,181.0 L609.9,179.5 L608.2,178.3 L606.5,176.9 L605.0,175.3 L603.4,173.5 L601.7,172.0 L599.7,171.1 L597.5,170.8 L595.2,170.8 L593.0,170.7 L590.9,170.2 L588.7,169.6 L586.4,169.2 L584.1,169.4 L581.9,170.4 L579.9,171.8 L577.8,173.1 L575.8,174.1 L573.6,174.9 L571.4,175.9 L569.4,177.4 L567.6,179.4 L566.0,181.6 L564.4,183.8 L562.7,186.0 L561.3,188.5 L561.3,188.5 L564.3,188.2 L566.9,187.7 L569.3,187.0 L571.5,186.2 L573.6,185.6 L575.8,185.4 L577.9,185.5 L580.0,185.7 L581.7,185.6 L583.3,185.1 L584.7,184.4 L586.1,183.9 L587.6,184.0 L589.0,184.6 L590.3,185.2 L591.5,185.5 L592.7,185.2 L594.1,184.7 L595.5,184.3 L596.9,184.5 L598.1,185.2 L599.2,186.0 L600.5,186.6 L602.0,187.0 L603.8,187.3 L605.6,187.8 L607.3,188.6 L608.7,189.7 L610.2,191.1 L611.7,192.5 L613.4,193.9 L615.2,195.3 L616.9,197.0 L618.6,198.8 L620.3,200.7 L621.7,203.0Z" fill="none" stroke="#0f1c08" stroke-width="0.8" stroke-linejoin="round"/>
<path d="M618.0,196.3 L614.0,190.7 L609.8,186.0 L605.3,182.3 L600.7,179.6 L595.8,177.9 L590.6,177.2 L585.2,177.4 L579.6,178.7 L573.7,181.0 L567.6,184.2" fill="none" stroke="#0f1c08" stroke-width="0.55"/>
<path d="M622.7,215.0 L624.7,212.7 L627.1,210.9 L629.3,209.1 L631.4,207.4 L633.4,205.9 L635.4,204.5 L637.6,203.5 L639.8,202.8 L641.9,202.2 L643.6,201.5 L645.2,200.6 L646.7,199.9 L648.2,199.5 L649.9,199.6 L651.4,200.1 L652.8,200.6 L653.9,200.7 L654.9,200.3 L656.0,199.9 L657.1,199.8 L658.2,200.2 L659.1,201.1 L660.0,201.9 L661.1,202.2 L662.5,202.2 L664.2,202.0 L665.9,202.2 L667.5,202.8 L669.0,203.8 L670.6,204.9 L672.4,205.9 L674.7,206.7 L677.2,207.6 L679.7,208.7 L682.2,210.1 L685.0,211.4 L685.0,211.4 L684.7,208.1 L684.0,205.2 L682.9,202.5 L681.5,200.2 L680.1,198.0 L678.8,195.6 L677.6,193.1 L676.3,190.8 L674.5,188.9 L672.4,187.6 L670.1,186.8 L667.8,186.0 L665.6,184.9 L663.5,183.6 L661.2,182.5 L658.8,182.0 L656.3,182.3 L653.9,183.2 L651.7,184.1 L649.4,184.9 L647.2,185.3 L644.9,185.9 L642.7,186.9 L640.8,188.5 L639.2,190.4 L637.7,192.5 L636.1,194.3 L634.4,196.1 L632.6,197.9 L631.0,199.9 L629.6,202.2 L628.3,204.6 L627.0,207.2 L625.6,209.7 L624.3,212.4 L622.7,215.0Z" fill="url(#lg3)" filter="url(#pmot)"/>
<path d="M622.7,215.0 L624.7,212.7 L627.1,210.9 L629.3,209.1 L631.4,207.4 L633.4,205.9 L635.4,204.5 L637.6,203.5 L639.8,202.8 L641.9,202.2 L643.6,201.5 L645.2,200.6 L646.7,199.9 L648.2,199.5 L649.9,199.6 L651.4,200.1 L652.8,200.6 L653.9,200.7 L654.9,200.3 L656.0,199.9 L657.1,199.8 L658.2,200.2 L659.1,201.1 L660.0,201.9 L661.1,202.2 L662.5,202.2 L664.2,202.0 L665.9,202.2 L667.5,202.8 L669.0,203.8 L670.6,204.9 L672.4,205.9 L674.7,206.7 L677.2,207.6 L679.7,208.7 L682.2,210.1 L685.0,211.4 L685.0,211.4 L684.7,208.1 L684.0,205.2 L682.9,202.5 L681.5,200.2 L680.1,198.0 L678.8,195.6 L677.6,193.1 L676.3,190.8 L674.5,188.9 L672.4,187.6 L670.1,186.8 L667.8,186.0 L665.6,184.9 L663.5,183.6 L661.2,182.5 L658.8,182.0 L656.3,182.3 L653.9,183.2 L651.7,184.1 L649.4,184.9 L647.2,185.3 L644.9,185.9 L642.7,186.9 L640.8,188.5 L639.2,190.4 L637.7,192.5 L636.1,194.3 L634.4,196.1 L632.6,197.9 L631.0,199.9 L629.6,202.2 L628.3,204.6 L627.0,207.2 L625.6,209.7 L624.3,212.4 L622.7,215.0Z" fill="none" stroke="#0f1c08" stroke-width="0.8" stroke-linejoin="round"/>
<path d="M628.1,208.1 L633.4,202.4 L638.7,197.9 L644.0,194.6 L649.2,192.5 L654.4,191.6 L659.6,191.9 L664.7,193.4 L669.9,196.1 L674.9,200.0 L680.0,205.1" fill="none" stroke="#0f1c08" stroke-width="0.55"/>
<path d="M620.0,229.0 L618.5,227.0 L617.3,224.8 L615.9,222.7 L614.4,220.9 L612.9,219.1 L611.3,217.3 L609.9,215.4 L608.5,213.5 L606.9,211.8 L605.1,210.3 L603.1,209.3 L601.1,208.4 L599.1,207.4 L597.2,206.1 L595.3,204.6 L593.2,203.4 L591.0,202.8 L588.7,202.8 L586.3,203.1 L584.1,203.3 L581.8,203.1 L579.4,202.7 L577.0,202.5 L574.7,203.0 L572.5,204.1 L570.4,205.6 L568.4,207.1 L566.3,208.2 L564.0,209.2 L561.9,210.3 L559.9,211.9 L558.1,213.9 L556.5,216.2 L554.9,218.5 L553.4,220.7 L552.0,223.3 L552.0,223.3 L555.0,223.1 L557.7,222.6 L560.1,221.9 L562.3,221.2 L564.5,220.5 L566.7,220.3 L569.0,220.3 L571.1,220.4 L573.1,220.3 L574.7,219.7 L576.3,218.9 L577.9,218.2 L579.6,218.2 L581.3,218.6 L582.9,219.1 L584.4,219.2 L585.8,218.7 L587.4,218.0 L589.0,217.5 L590.6,217.4 L592.1,217.9 L593.5,218.5 L595.1,218.9 L596.8,219.0 L598.7,218.8 L600.7,218.9 L602.6,219.3 L604.3,220.0 L606.1,221.0 L607.9,221.9 L609.9,222.8 L612.0,223.7 L614.1,224.7 L616.1,225.9 L618.2,227.3 L620.0,229.0Z" fill="url(#lg1)" filter="url(#pmot)"/>
<path d="M620.0,229.0 L618.5,227.0 L617.3,224.8 L615.9,222.7 L614.4,220.9 L612.9,219.1 L611.3,217.3 L609.9,215.4 L608.5,213.5 L606.9,211.8 L605.1,210.3 L603.1,209.3 L601.1,208.4 L599.1,207.4 L597.2,206.1 L595.3,204.6 L593.2,203.4 L591.0,202.8 L588.7,202.8 L586.3,203.1 L584.1,203.3 L581.8,203.1 L579.4,202.7 L577.0,202.5 L574.7,203.0 L572.5,204.1 L570.4,205.6 L568.4,207.1 L566.3,208.2 L564.0,209.2 L561.9,210.3 L559.9,211.9 L558.1,213.9 L556.5,216.2 L554.9,218.5 L553.4,220.7 L552.0,223.3 L552.0,223.3 L555.0,223.1 L557.7,222.6 L560.1,221.9 L562.3,221.2 L564.5,220.5 L566.7,220.3 L569.0,220.3 L571.1,220.4 L573.1,220.3 L574.7,219.7 L576.3,218.9 L577.9,218.2 L579.6,218.2 L581.3,218.6 L582.9,219.1 L584.4,219.2 L585.8,218.7 L587.4,218.0 L589.0,217.5 L590.6,217.4 L592.1,217.9 L593.5,218.5 L595.1,218.9 L596.8,219.0 L598.7,218.8 L600.7,218.9 L602.6,219.3 L604.3,220.0 L606.1,221.0 L607.9,221.9 L609.9,222.8 L612.0,223.7 L614.1,224.7 L616.1,225.9 L618.2,227.3 L620.0,229.0Z" fill="none" stroke="#0f1c08" stroke-width="0.8" stroke-linejoin="round"/>
<path d="M614.9,223.8 L609.8,219.4 L604.5,215.9 L599.1,213.3 L593.6,211.5 L588.0,210.6 L582.3,210.5 L576.4,211.4 L570.5,213.0 L564.4,215.6 L558.3,219.0" fill="none" stroke="#0f1c08" stroke-width="0.55"/>
<path d="M627.5,241.0 L629.7,239.4 L632.3,238.3 L634.7,237.3 L636.9,236.2 L639.1,235.3 L641.3,234.6 L643.6,234.2 L645.8,234.0 L647.9,233.9 L649.8,233.7 L651.6,233.2 L653.3,232.8 L655.0,232.7 L656.8,233.2 L658.4,233.9 L659.9,234.6 L661.4,234.9 L662.8,234.8 L664.3,234.5 L665.8,234.6 L667.1,235.2 L668.4,236.2 L669.6,237.2 L671.1,237.8 L672.8,237.9 L674.7,237.9 L676.7,238.2 L678.5,239.0 L680.1,240.1 L681.8,241.2 L683.8,242.2 L686.2,243.0 L688.8,243.8 L691.3,244.8 L693.9,246.0 L696.8,247.2 L696.8,247.2 L696.4,243.9 L695.5,241.0 L694.2,238.5 L692.7,236.2 L691.2,234.0 L689.8,231.6 L688.5,229.1 L687.0,226.8 L685.1,224.9 L682.9,223.6 L680.6,222.7 L678.3,221.8 L676.1,220.6 L674.0,219.2 L671.8,217.8 L669.4,217.1 L666.9,217.1 L664.3,217.7 L661.9,218.2 L659.5,218.6 L657.1,218.6 L654.8,218.7 L652.4,219.3 L650.2,220.4 L648.1,221.9 L646.2,223.5 L644.2,224.9 L642.1,226.2 L640.1,227.5 L638.1,229.0 L636.3,230.8 L634.6,232.8 L632.8,234.8 L631.1,236.9 L629.4,239.1 L627.5,241.0Z" fill="url(#lg2)" filter="url(#pmot)"/>
<path d="M627.5,241.0 L629.7,239.4 L632.3,238.3 L634.7,237.3 L636.9,236.2 L639.1,235.3 L641.3,234.6 L643.6,234.2 L645.8,234.0 L647.9,233.9 L649.8,233.7 L651.6,233.2 L653.3,232.8 L655.0,232.7 L656.8,233.2 L658.4,233.9 L659.9,234.6 L661.4,234.9 L662.8,234.8 L664.3,234.5 L665.8,234.6 L667.1,235.2 L668.4,236.2 L669.6,237.2 L671.1,237.8 L672.8,237.9 L674.7,237.9 L676.7,238.2 L678.5,239.0 L680.1,240.1 L681.8,241.2 L683.8,242.2 L686.2,243.0 L688.8,243.8 L691.3,244.8 L693.9,246.0 L696.8,247.2 L696.8,247.2 L696.4,243.9 L695.5,241.0 L694.2,238.5 L692.7,236.2 L691.2,234.0 L689.8,231.6 L688.5,229.1 L687.0,226.8 L685.1,224.9 L682.9,223.6 L680.6,222.7 L678.3,221.8 L676.1,220.6 L674.0,219.2 L671.8,217.8 L669.4,217.1 L666.9,217.1 L664.3,217.7 L661.9,218.2 L659.5,218.6 L657.1,218.6 L654.8,218.7 L652.4,219.3 L650.2,220.4 L648.1,221.9 L646.2,223.5 L644.2,224.9 L642.1,226.2 L640.1,227.5 L638.1,229.0 L636.3,230.8 L634.6,232.8 L632.8,234.8 L631.1,236.9 L629.4,239.1 L627.5,241.0Z" fill="none" stroke="#0f1c08" stroke-width="0.8" stroke-linejoin="round"/>
<path d="M633.7,236.0 L639.8,232.0 L645.9,229.0 L651.9,227.0 L657.8,226.0 L663.6,226.1 L669.3,227.1 L675.0,229.1 L680.5,232.1 L686.0,236.1 L691.5,241.2" fill="none" stroke="#0f1c08" stroke-width="0.55"/>
<path d="M621.5,256.0 L619.6,254.0 L618.1,251.6 L616.5,249.4 L614.7,247.5 L612.9,245.6 L611.1,243.7 L609.4,241.7 L607.7,239.7 L605.9,237.8 L604.0,236.3 L601.8,235.1 L599.6,234.1 L597.5,233.0 L595.4,231.6 L593.4,230.0 L591.2,228.7 L588.8,228.0 L586.4,227.9 L584.0,228.1 L581.6,228.2 L579.2,227.9 L576.7,227.4 L574.3,227.1 L571.8,227.5 L569.6,228.7 L567.4,230.1 L565.3,231.6 L563.2,232.7 L561.0,233.7 L558.9,234.8 L557.0,236.4 L555.3,238.5 L553.9,240.9 L552.5,243.2 L551.1,245.5 L550.1,248.2 L550.1,248.2 L553.1,248.3 L555.7,248.1 L558.0,247.7 L560.2,247.2 L562.2,246.8 L564.4,246.8 L566.5,247.1 L568.6,247.4 L570.4,247.4 L571.9,247.0 L573.5,246.3 L575.0,245.8 L576.6,245.8 L578.2,246.3 L579.8,246.9 L581.3,247.0 L582.8,246.6 L584.4,245.9 L586.1,245.4 L587.8,245.3 L589.5,245.8 L591.1,246.4 L592.8,246.7 L594.7,246.7 L596.8,246.6 L599.0,246.6 L601.2,246.9 L603.2,247.6 L605.2,248.5 L607.4,249.4 L609.7,250.2 L612.1,251.0 L614.5,252.0 L616.9,253.1 L619.3,254.3 L621.5,256.0Z" fill="url(#lg3)" filter="url(#pmot)"/>
<path d="M621.5,256.0 L619.6,254.0 L618.1,251.6 L616.5,249.4 L614.7,247.5 L612.9,245.6 L611.1,243.7 L609.4,241.7 L607.7,239.7 L605.9,237.8 L604.0,236.3 L601.8,235.1 L599.6,234.1 L597.5,233.0 L595.4,231.6 L593.4,230.0 L591.2,228.7 L588.8,228.0 L586.4,227.9 L584.0,228.1 L581.6,228.2 L579.2,227.9 L576.7,227.4 L574.3,227.1 L571.8,227.5 L569.6,228.7 L567.4,230.1 L565.3,231.6 L563.2,232.7 L561.0,233.7 L558.9,234.8 L557.0,236.4 L555.3,238.5 L553.9,240.9 L552.5,243.2 L551.1,245.5 L550.1,248.2 L550.1,248.2 L553.1,248.3 L555.7,248.1 L558.0,247.7 L560.2,247.2 L562.2,246.8 L564.4,246.8 L566.5,247.1 L568.6,247.4 L570.4,247.4 L571.9,247.0 L573.5,246.3 L575.0,245.8 L576.6,245.8 L578.2,246.3 L579.8,246.9 L581.3,247.0 L582.8,246.6 L584.4,245.9 L586.1,245.4 L587.8,245.3 L589.5,245.8 L591.1,246.4 L592.8,246.7 L594.7,246.7 L596.8,246.6 L599.0,246.6 L601.2,246.9 L603.2,247.6 L605.2,248.5 L607.4,249.4 L609.7,250.2 L612.1,251.0 L614.5,252.0 L616.9,253.1 L619.3,254.3 L621.5,256.0Z" fill="none" stroke="#0f1c08" stroke-width="0.8" stroke-linejoin="round"/>
<path d="M615.4,250.8 L609.4,246.3 L603.4,242.8 L597.3,240.0 L591.4,238.1 L585.4,237.1 L579.5,236.8 L573.5,237.4 L567.7,238.9 L561.8,241.1 L555.9,244.3" fill="none" stroke="#0f1c08" stroke-width="0.55"/>
<path d="M627.5,265.0 L630.0,263.8 L632.8,263.3 L635.4,262.7 L637.9,262.1 L640.3,261.6 L642.7,261.3 L645.1,261.4 L647.5,261.7 L649.7,262.0 L651.8,262.1 L653.8,262.0 L655.6,261.9 L657.5,262.2 L659.3,262.9 L661.0,264.0 L662.6,265.0 L664.2,265.5 L665.8,265.6 L667.5,265.5 L669.2,265.8 L670.7,266.6 L672.1,267.8 L673.5,268.9 L675.1,269.6 L677.0,269.9 L679.2,270.0 L681.3,270.4 L683.3,271.2 L685.2,272.4 L687.1,273.6 L689.4,274.6 L692.0,275.4 L694.8,276.2 L697.7,277.2 L700.5,278.4 L703.8,279.4 L703.8,279.4 L703.5,275.8 L702.7,272.6 L701.5,269.7 L700.0,267.1 L698.5,264.6 L697.0,262.0 L695.6,259.2 L694.0,256.6 L692.1,254.4 L689.8,252.8 L687.3,251.7 L684.8,250.5 L682.5,249.1 L680.2,247.4 L677.9,245.9 L675.3,244.9 L672.6,244.7 L669.7,244.9 L667.0,245.3 L664.4,245.4 L661.8,245.2 L659.1,245.1 L656.5,245.4 L654.0,246.4 L651.6,247.7 L649.2,249.1 L646.9,250.4 L644.5,251.5 L642.2,252.6 L639.9,254.0 L637.8,255.6 L635.7,257.5 L633.7,259.4 L631.7,261.3 L629.7,263.3 L627.5,265.0Z" fill="url(#lg3)" filter="url(#pmot)"/>
<path d="M627.5,265.0 L630.0,263.8 L632.8,263.3 L635.4,262.7 L637.9,262.1 L640.3,261.6 L642.7,261.3 L645.1,261.4 L647.5,261.7 L649.7,262.0 L651.8,262.1 L653.8,262.0 L655.6,261.9 L657.5,262.2 L659.3,262.9 L661.0,264.0 L662.6,265.0 L664.2,265.5 L665.8,265.6 L667.5,265.5 L669.2,265.8 L670.7,266.6 L672.1,267.8 L673.5,268.9 L675.1,269.6 L677.0,269.9 L679.2,270.0 L681.3,270.4 L683.3,271.2 L685.2,272.4 L687.1,273.6 L689.4,274.6 L692.0,275.4 L694.8,276.2 L697.7,277.2 L700.5,278.4 L703.8,279.4 L703.8,279.4 L703.5,275.8 L702.7,272.6 L701.5,269.7 L700.0,267.1 L698.5,264.6 L697.0,262.0 L695.6,259.2 L694.0,256.6 L692.1,254.4 L689.8,252.8 L687.3,251.7 L684.8,250.5 L682.5,249.1 L680.2,247.4 L677.9,245.9 L675.3,244.9 L672.6,244.7 L669.7,244.9 L667.0,245.3 L664.4,245.4 L661.8,245.2 L659.1,245.1 L656.5,245.4 L654.0,246.4 L651.6,247.7 L649.2,249.1 L646.9,250.4 L644.5,251.5 L642.2,252.6 L639.9,254.0 L637.8,255.6 L635.7,257.5 L633.7,259.4 L631.7,261.3 L629.7,263.3 L627.5,265.0Z" fill="none" stroke="#0f1c08" stroke-width="0.8" stroke-linejoin="round"/>
<path d="M634.5,261.0 L641.4,257.9 L648.2,255.8 L654.9,254.6 L661.4,254.4 L667.8,255.1 L674.1,256.8 L680.3,259.4 L686.4,263.0 L692.3,267.5 L698.1,273.0" fill="none" stroke="#0f1c08" stroke-width="0.55"/>
<path d="M620.5,278.0 L618.4,276.2 L616.6,274.0 L614.7,271.9 L612.7,270.2 L610.7,268.5 L608.7,266.9 L606.8,265.1 L604.8,263.3 L602.8,261.6 L600.6,260.4 L598.3,259.5 L595.9,258.9 L593.6,258.0 L591.3,257.0 L589.0,255.8 L586.5,254.9 L584.0,254.6 L581.5,254.9 L579.1,255.6 L576.7,256.2 L574.2,256.4 L571.6,256.5 L569.1,256.8 L566.7,257.8 L564.6,259.5 L562.8,261.5 L561.0,263.4 L559.1,265.1 L557.1,266.6 L555.2,268.4 L553.6,270.5 L552.4,273.0 L551.4,275.8 L550.5,278.6 L549.6,281.3 L549.1,284.4 L549.1,284.4 L552.3,283.7 L554.9,282.9 L557.3,281.9 L559.4,280.8 L561.5,279.9 L563.7,279.3 L566.0,279.0 L568.1,278.9 L570.0,278.5 L571.5,277.6 L572.8,276.6 L574.2,275.8 L575.8,275.5 L577.5,275.6 L579.1,275.8 L580.5,275.7 L581.9,275.0 L583.2,273.9 L584.7,273.1 L586.3,272.7 L587.9,272.8 L589.5,273.1 L591.2,273.1 L593.0,272.8 L595.0,272.3 L597.1,271.9 L599.2,271.9 L601.3,272.2 L603.4,272.8 L605.6,273.3 L608.0,273.7 L610.4,274.2 L613.0,274.9 L615.5,275.7 L618.1,276.6 L620.5,278.0Z" fill="url(#lg3)" filter="url(#pmot)"/>
<path d="M620.5,278.0 L618.4,276.2 L616.6,274.0 L614.7,271.9 L612.7,270.2 L610.7,268.5 L608.7,266.9 L606.8,265.1 L604.8,263.3 L602.8,261.6 L600.6,260.4 L598.3,259.5 L595.9,258.9 L593.6,258.0 L591.3,257.0 L589.0,255.8 L586.5,254.9 L584.0,254.6 L581.5,254.9 L579.1,255.6 L576.7,256.2 L574.2,256.4 L571.6,256.5 L569.1,256.8 L566.7,257.8 L564.6,259.5 L562.8,261.5 L561.0,263.4 L559.1,265.1 L557.1,266.6 L555.2,268.4 L553.6,270.5 L552.4,273.0 L551.4,275.8 L550.5,278.6 L549.6,281.3 L549.1,284.4 L549.1,284.4 L552.3,283.7 L554.9,282.9 L557.3,281.9 L559.4,280.8 L561.5,279.9 L563.7,279.3 L566.0,279.0 L568.1,278.9 L570.0,278.5 L571.5,277.6 L572.8,276.6 L574.2,275.8 L575.8,275.5 L577.5,275.6 L579.1,275.8 L580.5,275.7 L581.9,275.0 L583.2,273.9 L584.7,273.1 L586.3,272.7 L587.9,272.8 L589.5,273.1 L591.2,273.1 L593.0,272.8 L595.0,272.3 L597.1,271.9 L599.2,271.9 L601.3,272.2 L603.4,272.8 L605.6,273.3 L608.0,273.7 L610.4,274.2 L613.0,274.9 L615.5,275.7 L618.1,276.6 L620.5,278.0Z" fill="none" stroke="#0f1c08" stroke-width="0.8" stroke-linejoin="round"/>
<path d="M613.8,273.5 L607.3,269.8 L600.9,267.1 L594.6,265.4 L588.4,264.5 L582.4,264.6 L576.5,265.6 L570.8,267.5 L565.2,270.4 L559.7,274.1 L554.3,278.8" fill="none" stroke="#0f1c08" stroke-width="0.55"/>
<path d="M629.5,292.0 L631.9,290.8 L634.5,290.2 L636.9,289.6 L639.2,289.0 L641.4,288.5 L643.5,288.3 L645.7,288.4 L647.7,288.7 L649.6,289.2 L651.2,289.4 L652.8,289.4 L654.3,289.5 L655.8,289.9 L657.0,290.8 L658.2,292.0 L659.2,293.1 L660.2,293.8 L661.5,294.0 L662.9,294.2 L664.1,294.8 L665.2,295.9 L666.0,297.3 L666.9,298.7 L668.1,299.8 L669.8,300.6 L671.7,301.5 L673.6,302.6 L675.2,304.1 L676.6,306.0 L678.0,307.9 L679.9,309.8 L682.1,311.7 L684.5,313.6 L686.8,315.8 L689.1,318.2 L691.8,320.6 L691.8,320.6 L692.3,316.9 L692.2,313.4 L691.7,310.1 L690.9,307.1 L690.1,304.2 L689.4,301.2 L688.8,298.1 L688.1,295.2 L686.9,292.5 L685.2,290.3 L683.2,288.5 L681.2,286.7 L679.5,284.7 L677.9,282.5 L676.2,280.4 L674.2,278.8 L671.7,277.9 L669.0,277.6 L666.5,277.3 L664.1,276.8 L661.7,276.2 L659.4,275.6 L657.0,275.4 L654.5,276.0 L652.2,276.9 L649.9,278.1 L647.8,279.0 L645.6,279.8 L643.4,280.7 L641.3,281.9 L639.2,283.3 L637.3,285.0 L635.4,286.7 L633.5,288.5 L631.6,290.4 L629.5,292.0Z" fill="url(#lg3)" filter="url(#pmot)"/>
<path d="M629.5,292.0 L631.9,290.8 L634.5,290.2 L636.9,289.6 L639.2,289.0 L641.4,288.5 L643.5,288.3 L645.7,288.4 L647.7,288.7 L649.6,289.2 L651.2,289.4 L652.8,289.4 L654.3,289.5 L655.8,289.9 L657.0,290.8 L658.2,292.0 L659.2,293.1 L660.2,293.8 L661.5,294.0 L662.9,294.2 L664.1,294.8 L665.2,295.9 L666.0,297.3 L666.9,298.7 L668.1,299.8 L669.8,300.6 L671.7,301.5 L673.6,302.6 L675.2,304.1 L676.6,306.0 L678.0,307.9 L679.9,309.8 L682.1,311.7 L684.5,313.6 L686.8,315.8 L689.1,318.2 L691.8,320.6 L691.8,320.6 L692.3,316.9 L692.2,313.4 L691.7,310.1 L690.9,307.1 L690.1,304.2 L689.4,301.2 L688.8,298.1 L688.1,295.2 L686.9,292.5 L685.2,290.3 L683.2,288.5 L681.2,286.7 L679.5,284.7 L677.9,282.5 L676.2,280.4 L674.2,278.8 L671.7,277.9 L669.0,277.6 L666.5,277.3 L664.1,276.8 L661.7,276.2 L659.4,275.6 L657.0,275.4 L654.5,276.0 L652.2,276.9 L649.9,278.1 L647.8,279.0 L645.6,279.8 L643.4,280.7 L641.3,281.9 L639.2,283.3 L637.3,285.0 L635.4,286.7 L633.5,288.5 L631.6,290.4 L629.5,292.0Z" fill="none" stroke="#0f1c08" stroke-width="0.8" stroke-linejoin="round"/>
<path d="M636.1,288.1 L642.5,285.3 L648.6,283.7 L654.4,283.2 L660.0,283.8 L665.3,285.6 L670.4,288.6 L675.2,292.7 L679.7,298.0 L684.0,304.4 L688.0,311.9" fill="none" stroke="#0f1c08" stroke-width="0.55"/>
<path d="M623.5,293.0 L620.4,291.5 L617.5,289.7 L614.7,288.0 L611.8,286.7 L609.0,285.6 L606.3,284.4 L603.6,283.1 L600.9,281.9 L598.3,280.9 L595.6,280.3 L592.9,280.2 L590.3,280.3 L587.7,280.4 L585.0,280.2 L582.2,280.1 L579.4,280.3 L576.8,281.2 L574.6,282.8 L572.7,284.7 L570.7,286.6 L568.6,288.2 L566.4,289.9 L564.3,291.9 L562.9,294.3 L562.2,297.1 L561.9,300.0 L561.7,302.9 L561.2,305.7 L560.6,308.5 L560.3,311.4 L560.5,314.4 L561.2,317.6 L562.2,320.8 L563.4,324.0 L564.5,327.3 L566.2,330.6 L566.2,330.6 L568.1,327.3 L569.6,324.2 L570.7,321.4 L571.6,318.7 L572.6,316.2 L573.9,313.9 L575.5,312.0 L577.1,310.2 L578.2,308.6 L578.9,307.0 L579.3,305.4 L579.8,304.0 L580.8,302.9 L582.1,302.2 L583.3,301.7 L584.2,301.1 L584.7,300.1 L585.1,298.7 L585.7,297.5 L586.6,296.6 L587.9,296.2 L589.2,295.9 L590.6,295.4 L592.1,294.5 L593.7,293.3 L595.6,292.3 L597.7,291.7 L600.0,291.5 L602.4,291.5 L605.0,291.4 L607.7,291.3 L610.6,291.2 L613.7,291.3 L616.9,291.6 L620.2,292.0 L623.5,293.0Z" fill="url(#lg1)" filter="url(#pmot)"/>
<path d="M623.5,293.0 L620.4,291.5 L617.5,289.7 L614.7,288.0 L611.8,286.7 L609.0,285.6 L606.3,284.4 L603.6,283.1 L600.9,281.9 L598.3,280.9 L595.6,280.3 L592.9,280.2 L590.3,280.3 L587.7,280.4 L585.0,280.2 L582.2,280.1 L579.4,280.3 L576.8,281.2 L574.6,282.8 L572.7,284.7 L570.7,286.6 L568.6,288.2 L566.4,289.9 L564.3,291.9 L562.9,294.3 L562.2,297.1 L561.9,300.0 L561.7,302.9 L561.2,305.7 L560.6,308.5 L560.3,311.4 L560.5,314.4 L561.2,317.6 L562.2,320.8 L563.4,324.0 L564.5,327.3 L566.2,330.6 L566.2,330.6 L568.1,327.3 L569.6,324.2 L570.7,321.4 L571.6,318.7 L572.6,316.2 L573.9,313.9 L575.5,312.0 L577.1,310.2 L578.2,308.6 L578.9,307.0 L579.3,305.4 L579.8,304.0 L580.8,302.9 L582.1,302.2 L583.3,301.7 L584.2,301.1 L584.7,300.1 L585.1,298.7 L585.7,297.5 L586.6,296.6 L587.9,296.2 L589.2,295.9 L590.6,295.4 L592.1,294.5 L593.7,293.3 L595.6,292.3 L597.7,291.7 L600.0,291.5 L602.4,291.5 L605.0,291.4 L607.7,291.3 L610.6,291.2 L613.7,291.3 L616.9,291.6 L620.2,292.0 L623.5,293.0Z" fill="none" stroke="#0f1c08" stroke-width="0.8" stroke-linejoin="round"/>
<path d="M614.2,289.7 L605.7,287.7 L598.0,286.7 L591.1,287.0 L585.1,288.3 L579.9,290.9 L575.6,294.6 L572.0,299.5 L569.3,305.5 L567.5,312.7 L566.4,321.1" fill="none" stroke="#0f1c08" stroke-width="0.55"/>
<path d="M623.5,309.0 L625.7,308.8 L627.8,309.4 L629.9,310.0 L631.7,310.4 L633.5,311.0 L635.1,311.8 L636.6,312.8 L637.9,314.1 L639.0,315.3 L640.1,316.3 L641.2,317.1 L642.3,317.9 L643.3,318.9 L643.9,320.3 L644.3,322.0 L644.8,323.5 L645.5,324.8 L646.6,325.8 L647.9,326.8 L649.0,328.1 L649.7,329.8 L650.1,331.7 L650.6,333.7 L651.6,335.5 L653.1,337.3 L654.9,339.1 L656.6,341.1 L657.9,343.5 L658.9,346.0 L660.0,348.7 L661.4,351.4 L663.3,354.2 L665.4,357.1 L667.4,360.2 L669.3,363.4 L671.7,366.8 L671.7,366.8 L673.2,362.8 L674.1,359.0 L674.5,355.3 L674.5,351.7 L674.5,348.2 L674.7,344.8 L675.0,341.3 L675.1,337.9 L674.8,334.7 L673.8,331.8 L672.4,329.1 L671.1,326.5 L670.1,323.8 L669.3,321.0 L668.4,318.2 L667.1,315.8 L665.1,313.9 L662.7,312.3 L660.4,310.9 L658.4,309.4 L656.5,307.7 L654.6,306.1 L652.5,304.9 L650.0,304.2 L647.5,304.0 L645.0,304.0 L642.6,304.0 L640.4,303.8 L638.2,303.7 L636.0,303.9 L633.8,304.5 L631.7,305.3 L629.6,306.2 L627.6,307.2 L625.6,308.3 L623.5,309.0Z" fill="url(#lg2)" filter="url(#pmot)"/>
<path d="M623.5,309.0 L625.7,308.8 L627.8,309.4 L629.9,310.0 L631.7,310.4 L633.5,311.0 L635.1,311.8 L636.6,312.8 L637.9,314.1 L639.0,315.3 L640.1,316.3 L641.2,317.1 L642.3,317.9 L643.3,318.9 L643.9,320.3 L644.3,322.0 L644.8,323.5 L645.5,324.8 L646.6,325.8 L647.9,326.8 L649.0,328.1 L649.7,329.8 L650.1,331.7 L650.6,333.7 L651.6,335.5 L653.1,337.3 L654.9,339.1 L656.6,341.1 L657.9,343.5 L658.9,346.0 L660.0,348.7 L661.4,351.4 L663.3,354.2 L665.4,357.1 L667.4,360.2 L669.3,363.4 L671.7,366.8 L671.7,366.8 L673.2,362.8 L674.1,359.0 L674.5,355.3 L674.5,351.7 L674.5,348.2 L674.7,344.8 L675.0,341.3 L675.1,337.9 L674.8,334.7 L673.8,331.8 L672.4,329.1 L671.1,326.5 L670.1,323.8 L669.3,321.0 L668.4,318.2 L667.1,315.8 L665.1,313.9 L662.7,312.3 L660.4,310.9 L658.4,309.4 L656.5,307.7 L654.6,306.1 L652.5,304.9 L650.0,304.2 L647.5,304.0 L645.0,304.0 L642.6,304.0 L640.4,303.8 L638.2,303.7 L636.0,303.9 L633.8,304.5 L631.7,305.3 L629.6,306.2 L627.6,307.2 L625.6,308.3 L623.5,309.0Z" fill="none" stroke="#0f1c08" stroke-width="0.8" stroke-linejoin="round"/>
<path d="M629.7,308.0 L635.5,308.1 L641.0,309.2 L646.0,311.4 L650.6,314.7 L654.8,318.9 L658.6,324.3 L662.0,330.7 L665.0,338.1 L667.7,346.6 L669.9,356.2" fill="none" stroke="#0f1c08" stroke-width="0.55"/>
<path d="M632.5,329.0 L630.1,326.6 L628.3,323.7 L626.3,321.1 L624.3,318.8 L622.2,316.6 L620.1,314.5 L618.1,312.3 L616.1,310.1 L613.9,308.1 L611.5,306.6 L609.0,305.5 L606.3,304.8 L603.6,304.0 L600.7,303.2 L597.5,302.4 L594.3,302.1 L591.1,302.8 L588.2,304.2 L585.7,306.2 L583.3,308.1 L580.7,310.0 L578.2,311.9 L575.9,314.1 L574.2,316.8 L573.3,319.9 L572.9,323.2 L572.6,326.4 L572.2,329.6 L571.6,332.7 L571.3,336.0 L571.5,339.5 L572.3,343.2 L573.5,346.9 L574.8,350.8 L576.2,354.7 L578.3,358.7 L578.3,358.7 L581.5,355.3 L584.0,352.1 L586.0,349.1 L587.7,346.2 L589.4,343.6 L591.4,341.4 L593.5,339.4 L595.5,337.8 L597.0,336.3 L597.9,334.8 L598.5,333.3 L599.1,332.2 L600.0,331.4 L601.1,331.2 L602.0,331.1 L602.4,330.9 L602.3,330.3 L602.0,329.3 L601.9,328.4 L602.0,327.8 L602.4,327.5 L602.9,327.4 L603.5,326.9 L604.4,326.0 L605.6,325.0 L607.1,324.0 L608.9,323.6 L610.8,323.5 L612.9,323.7 L615.2,324.0 L617.8,324.3 L620.6,324.7 L623.5,325.3 L626.5,326.2 L629.7,327.2 L632.5,329.0Z" fill="url(#lg3)" filter="url(#pmot)"/>
<path d="M632.5,329.0 L630.1,326.6 L628.3,323.7 L626.3,321.1 L624.3,318.8 L622.2,316.6 L620.1,314.5 L618.1,312.3 L616.1,310.1 L613.9,308.1 L611.5,306.6 L609.0,305.5 L606.3,304.8 L603.6,304.0 L600.7,303.2 L597.5,302.4 L594.3,302.1 L591.1,302.8 L588.2,304.2 L585.7,306.2 L583.3,308.1 L580.7,310.0 L578.2,311.9 L575.9,314.1 L574.2,316.8 L573.3,319.9 L572.9,323.2 L572.6,326.4 L572.2,329.6 L571.6,332.7 L571.3,336.0 L571.5,339.5 L572.3,343.2 L573.5,346.9 L574.8,350.8 L576.2,354.7 L578.3,358.7 L578.3,358.7 L581.5,355.3 L584.0,352.1 L586.0,349.1 L587.7,346.2 L589.4,343.6 L591.4,341.4 L593.5,339.4 L595.5,337.8 L597.0,336.3 L597.9,334.8 L598.5,333.3 L599.1,332.2 L600.0,331.4 L601.1,331.2 L602.0,331.1 L602.4,330.9 L602.3,330.3 L602.0,329.3 L601.9,328.4 L602.0,327.8 L602.4,327.5 L602.9,327.4 L603.5,326.9 L604.4,326.0 L605.6,325.0 L607.1,324.0 L608.9,323.6 L610.8,323.5 L612.9,323.7 L615.2,324.0 L617.8,324.3 L620.6,324.7 L623.5,325.3 L626.5,326.2 L629.7,327.2 L632.5,329.0Z" fill="none" stroke="#0f1c08" stroke-width="0.8" stroke-linejoin="round"/>
<path d="M624.9,323.2 L617.8,319.0 L611.3,316.2 L605.4,315.0 L600.0,315.2 L595.2,316.9 L591.0,320.1 L587.3,324.9 L584.2,331.1 L581.7,338.8 L579.7,348.0" fill="none" stroke="#0f1c08" stroke-width="0.55"/>
<path d="M619.8,328 C619,338 617,346 616,349 L633,349 C631,345 630,339 630.2,328 Z" fill="#f2cfb2" stroke="#3a2a1a" stroke-width="0.6"/>
<path d="M618,346 C608,352 600,358 598,372" fill="none" stroke="#2a1c10" stroke-width="3.0" stroke-linecap="round"/>
<path d="M618,346 C608,352 600,358 598,372" fill="none" stroke="#ecd0b4" stroke-width="1.8" stroke-linecap="round"/>
<path d="M620,348 C614,362 612,378 605,395" fill="none" stroke="#2a1c10" stroke-width="3.0" stroke-linecap="round"/>
<path d="M620,348 C614,362 612,378 605,395" fill="none" stroke="#ecd0b4" stroke-width="1.8" stroke-linecap="round"/>
<path d="M624,348 C624,368 626,385 630,402" fill="none" stroke="#2a1c10" stroke-width="3.0" stroke-linecap="round"/>
<path d="M624,348 C624,368 626,385 630,402" fill="none" stroke="#ecd0b4" stroke-width="1.8" stroke-linecap="round"/>
<path d="M627,348 C632,365 640,385 642,402" fill="none" stroke="#2a1c10" stroke-width="3.0" stroke-linecap="round"/>
<path d="M627,348 C632,365 640,385 642,402" fill="none" stroke="#ecd0b4" stroke-width="1.8" stroke-linecap="round"/>
<path d="M630,346 C640,352 648,358 650,375" fill="none" stroke="#2a1c10" stroke-width="3.0" stroke-linecap="round"/>
<path d="M630,346 C640,352 648,358 650,375" fill="none" stroke="#ecd0b4" stroke-width="1.8" stroke-linecap="round"/>
<path d="M622,348 C612,358 604,372 598,380" fill="none" stroke="#2a1c10" stroke-width="3.0" stroke-linecap="round"/>
<path d="M622,348 C612,358 604,372 598,380" fill="none" stroke="#ecd0b4" stroke-width="1.8" stroke-linecap="round"/>
<path d="M628,348 C636,360 642,368 646,385" fill="none" stroke="#2a1c10" stroke-width="3.0" stroke-linecap="round"/>
<path d="M628,348 C636,360 642,368 646,385" fill="none" stroke="#ecd0b4" stroke-width="1.8" stroke-linecap="round"/>
<path d="M616,344 C606,345 600,350 597,356" fill="none" stroke="#2a1c10" stroke-width="3.0" stroke-linecap="round"/>
<path d="M616,344 C606,345 600,350 597,356" fill="none" stroke="#ecd0b4" stroke-width="1.8" stroke-linecap="round"/>
<path d="M633,345 C642,346 648,349 650,355" fill="none" stroke="#2a1c10" stroke-width="3.0" stroke-linecap="round"/>
<path d="M633,345 C642,346 648,349 650,355" fill="none" stroke="#ecd0b4" stroke-width="1.8" stroke-linecap="round"/>
<g stroke="#5a4a3a" stroke-width="0.4"><path d="M621,46 L618,40 L623,37 L628,40 L626,46 Z" fill="#e8e890"/><ellipse cx="617" cy="30" rx="1.8" ry="3.5" fill="#f0b8e0" transform="rotate(-20 617 30)"/><ellipse cx="622" cy="27" rx="1.8" ry="3.5" fill="#f0b8e0" transform="rotate(-10 622 27)"/><ellipse cx="627" cy="28" rx="1.8" ry="3.5" fill="#f0b8e0"/><ellipse cx="634" cy="28" rx="1.8" ry="3.5" fill="#f0b8e0" transform="rotate(30 634 28)"/><ellipse cx="636" cy="33" rx="1.6" ry="3" fill="#f0b8e0" transform="rotate(50 636 33)"/><ellipse cx="616" cy="38" rx="1.6" ry="3" fill="#f0b8e0" transform="rotate(-60 616 38)"/><ellipse cx="624" cy="34" rx="1.6" ry="3" fill="#f0b8e0" transform="rotate(-30 624 34)"/><path d="M619,33 L622,42 M624,30 L624,42 M629,31 L626,42 M633,31 L627,42" stroke="#a8b040" stroke-width="1"/></g>
<line x1="565.5" y1="49.6" x2="684" y2="49.6" stroke="#111" stroke-width="1.5" stroke-dasharray="5.2,4.4"/>
<g fill="#000" stroke="#000" stroke-linejoin="round"><path d="M690,47.6 L713.5,40.6 L716.8,43.4 L703,47.4 Z" stroke-width="0.6"/><path d="M692.3,55.6 L711.5,43.6 L716.8,44.4 L705,51.6 Z" stroke-width="0.6"/><ellipse cx="723.6" cy="37.3" rx="5.0" ry="2.9" transform="rotate(-35 723.6 37.3)" fill="none" stroke-width="1.3"/><circle cx="726.6" cy="48.3" r="3.1" fill="none" stroke-width="1.3"/><path d="M715,42.5 C716.5,41.5 717.5,41 719.2,39.6 M715.5,44.5 C718,46 720,46.8 723.5,47.3" fill="none" stroke-width="1.3"/></g>
<text x="541.2" y="41.0" font-size="13.8" text-anchor="start" fill="#000" >Topping</text>
<text x="657.6" y="64.0" font-size="13.0" text-anchor="middle" fill="#000" >18</text>
<text x="571.3" y="69.8" font-size="13.0" text-anchor="middle" fill="#000" >17</text>
<text x="686.4" y="89.0" font-size="13.0" text-anchor="middle" fill="#000" >16</text>
<text x="566.7" y="113.9" font-size="13.0" text-anchor="middle" fill="#000" >15</text>
<text x="699.8" y="125.4" font-size="13.0" text-anchor="middle" fill="#000" >14</text>
<text x="553.3" y="145.3" font-size="13.0" text-anchor="middle" fill="#000" >13</text>
<text x="709.4" y="161.0" font-size="13.0" text-anchor="middle" fill="#000" >12</text>
<text x="546.8" y="181.7" font-size="13.0" text-anchor="middle" fill="#000" >11</text>
<text x="697.9" y="202.8" font-size="13.0" text-anchor="middle" fill="#000" >10</text>
<text x="545.5" y="242.8" font-size="13.0" text-anchor="middle" fill="#000" >7</text>
<text x="711.6" y="271.9" font-size="13.0" text-anchor="middle" fill="#000" >6</text>
<text x="542.0" y="277.9" font-size="13.0" text-anchor="middle" fill="#000" >5</text>
<text x="710.4" y="311.9" font-size="13.0" text-anchor="middle" fill="#000" >4</text>
<text x="545.2" y="318.0" font-size="13.0" text-anchor="middle" fill="#000" >3</text>
<text x="686.4" y="358.1" font-size="13.0" text-anchor="middle" fill="#000" >2</text>
<text x="562.5" y="359.3" font-size="13.0" text-anchor="middle" fill="#000" >1</text>
<text x="545.2" y="214.0" font-size="17.5" text-anchor="middle" font-weight="bold" fill="#e8474a" >9</text>
<text x="704.8" y="238.1" font-size="17.5" text-anchor="middle" font-weight="bold" fill="#e8474a" >8</text>
<defs><filter id="ltex" x="-5%" y="-5%" width="110%" height="110%" color-interpolation-filters="sRGB"><feTurbulence type="fractalNoise" baseFrequency="0.35 0.18" numOctaves="2" seed="7" result="n"/><feColorMatrix in="n" type="matrix" values="0.45 0 0 0 0.72  0.45 0 0 0 0.72  0.45 0 0 0 0.72  0 0 0 0 1" result="g"/><feBlend in="SourceGraphic" in2="g" mode="multiply" result="m"/><feComposite in="m" in2="SourceGraphic" operator="in"/></filter></defs>
<text x="1.5" y="448.7" font-size="26" text-anchor="start" font-weight="bold" fill="#000" >h</text>
<text x="23.6" y="507.7" font-size="15.3" text-anchor="start" fill="#231815" >LF</text>
<text x="23.6" y="602.0" font-size="15.3" text-anchor="start" fill="#231815" >HM</text>
<rect x="60.7" y="460.4" width="32.6" height="83.4" fill="#000"/>
<radialGradient id="hl100" cx="0.5" cy="0.42" r="0.6"><stop offset="0" stop-color="#76c846"/><stop offset="0.7" stop-color="#76c846"/><stop offset="1" stop-color="#54a430"/></radialGradient>
<path d="M76.4,462.5 L76.9,463.9 L78.5,465.3 L79.4,466.6 L80.2,468.0 L81.1,469.4 L82.3,470.8 L83.8,472.2 L84.8,473.6 L85.5,475.0 L86.1,476.4 L87.1,477.7 L87.9,479.1 L88.1,480.5 L87.9,481.9 L88.1,483.3 L89.3,484.7 L90.6,486.1 L90.9,487.4 L90.7,488.8 L90.8,490.2 L91.5,491.6 L91.8,493.0 L91.2,494.4 L90.1,495.8 L89.5,497.1 L89.6,498.5 L89.7,499.9 L89.2,501.3 L88.6,502.7 L88.5,504.1 L88.9,505.5 L88.9,506.9 L88.1,508.2 L86.9,509.6 L86.1,511.0 L85.6,512.4 L85.1,513.8 L84.2,515.2 L83.4,516.6 L83.0,517.9 L82.9,519.3 L82.6,520.7 L81.9,522.1 L81.1,523.5 L80.4,524.9 L79.9,526.3 L79.2,527.7 L78.4,529.0 L79.2,529.0 L78.6,538.7 L80.7,541.7 L72.2,541.7 L74.3,538.7 L73.7,529.0 L74.5,529.0 L73.8,527.7 L73.1,526.3 L72.6,524.9 L72.2,523.5 L71.6,522.1 L70.9,520.7 L70.4,519.3 L70.2,517.9 L70.0,516.6 L69.4,515.2 L68.4,513.8 L67.4,512.4 L66.9,511.0 L66.6,509.6 L66.0,508.2 L65.2,506.9 L64.4,505.5 L64.3,504.1 L64.8,502.7 L65.0,501.3 L64.6,499.9 L63.8,498.5 L63.4,497.1 L63.7,495.8 L63.8,494.4 L63.3,493.0 L62.4,491.6 L61.9,490.2 L62.3,488.8 L63.0,487.4 L63.4,486.1 L63.7,484.7 L64.2,483.3 L65.2,481.9 L66.3,480.5 L67.1,479.1 L67.2,477.7 L67.3,476.4 L67.9,475.0 L68.9,473.6 L69.8,472.2 L70.6,470.8 L71.4,469.4 L72.4,468.0 L73.5,466.6 L74.6,465.3 L75.9,463.9 L76.4,462.5Z" fill="url(#hl100)" filter="url(#ltex)"/>
<path d="M76.4,479.5 L81.6,474.5 M76.4,479.5 L71.2,474.5 M76.4,486.5 L84.2,481.5 M76.4,486.5 L68.7,481.5 M76.4,493.5 L86.3,488.5 M76.4,493.5 L66.6,488.5 M76.4,500.5 L86.3,495.5 M76.4,500.5 L66.6,495.5 M76.4,507.5 L85.7,502.5 M76.4,507.5 L67.2,502.5 M76.4,514.5 L83.6,509.5 M76.4,514.5 L69.3,509.5 M76.4,521.5 L81.5,516.5 M76.4,521.5 L71.3,516.5" stroke="#f4ffd0" stroke-width="0.6" opacity="0.28" fill="none"/>
<line x1="76.4" y1="467.5" x2="76.4" y2="539.7" stroke="#eef6a0" stroke-width="0.8" opacity="0.6"/>
<rect x="60.7" y="549.2" width="32.6" height="87.3" fill="#000"/>
<radialGradient id="hl200" cx="0.5" cy="0.42" r="0.6"><stop offset="0" stop-color="#a2be58"/><stop offset="0.7" stop-color="#a2be58"/><stop offset="1" stop-color="#7e9c40"/></radialGradient>
<path d="M76.3,551.4 L76.8,552.8 L78.4,554.3 L79.4,555.7 L80.1,557.2 L80.7,558.6 L81.6,560.1 L82.8,561.5 L83.8,563.0 L84.6,564.4 L85.3,565.9 L86.6,567.3 L87.9,568.8 L88.6,570.3 L88.5,571.7 L88.3,573.2 L88.8,574.6 L89.6,576.1 L89.6,577.5 L89.1,579.0 L89.0,580.4 L89.9,581.9 L90.9,583.3 L91.1,584.8 L90.6,586.2 L90.0,587.7 L89.9,589.1 L89.7,590.6 L88.9,592.0 L87.7,593.5 L87.0,594.9 L87.2,596.4 L87.5,597.8 L87.3,599.3 L86.5,600.7 L86.0,602.2 L85.7,603.6 L85.4,605.1 L84.4,606.5 L83.3,608.0 L82.5,609.4 L82.1,610.9 L81.8,612.3 L81.2,613.8 L80.6,615.2 L80.0,616.7 L79.6,618.1 L79.1,619.6 L78.3,621.0 L79.0,621.0 L78.4,631.3 L80.5,634.3 L72.0,634.3 L74.2,631.3 L73.5,621.0 L73.9,621.0 L73.2,619.6 L72.6,618.1 L72.0,616.7 L71.2,615.2 L70.5,613.8 L70.0,612.3 L69.8,610.9 L69.4,609.4 L68.6,608.0 L67.5,606.5 L66.5,605.1 L66.0,603.6 L65.6,602.2 L64.7,600.7 L63.6,599.3 L62.8,597.8 L62.9,596.4 L63.3,594.9 L63.3,593.5 L62.7,592.0 L61.9,590.6 L61.7,589.1 L61.8,587.7 L61.8,586.2 L60.9,584.8 L59.9,583.3 L59.5,581.9 L60.1,580.4 L60.8,579.0 L60.9,577.5 L60.7,576.1 L61.4,574.6 L62.7,573.2 L64.1,571.7 L64.7,570.3 L64.7,568.8 L64.9,567.3 L65.6,565.9 L66.7,564.4 L67.6,563.0 L68.4,561.5 L69.2,560.1 L70.5,558.6 L71.9,557.2 L73.2,555.7 L74.2,554.3 L75.7,552.8 L76.3,551.4Z" fill="url(#hl200)" filter="url(#ltex)"/>
<path d="M76.3,569.0 L81.8,564.0 M76.3,569.0 L70.8,564.0 M76.3,576.4 L84.5,571.4 M76.3,576.4 L68.0,571.4 M76.3,583.7 L86.7,578.7 M76.3,583.7 L65.8,578.7 M76.3,591.0 L86.7,586.0 M76.3,591.0 L65.8,586.0 M76.3,598.4 L86.1,593.4 M76.3,598.4 L66.5,593.4 M76.3,605.7 L83.9,600.7 M76.3,605.7 L68.7,600.7 M76.3,613.0 L81.7,608.0 M76.3,613.0 L70.9,608.0" stroke="#f4ffd0" stroke-width="0.6" opacity="0.28" fill="none"/>
<line x1="76.3" y1="556.4" x2="76.3" y2="632.3" stroke="#eef6a0" stroke-width="0.8" opacity="0.6"/>
<line x1="76.7" y1="643.7" x2="76.7" y2="641.0" stroke="#000" stroke-width="1.1" />
<text x="75.9" y="662.5" font-size="15.9" text-anchor="middle" fill="#000" >20</text>
<rect x="100.1" y="460.4" width="32.6" height="83.4" fill="#000"/>
<radialGradient id="hl101" cx="0.5" cy="0.42" r="0.6"><stop offset="0" stop-color="#8ed048"/><stop offset="0.7" stop-color="#8ed048"/><stop offset="1" stop-color="#6cb032"/></radialGradient>
<path d="M116.6,462.5 L117.0,463.9 L118.6,465.3 L119.4,466.6 L120.1,468.0 L120.9,469.4 L121.9,470.8 L122.7,472.2 L123.3,473.6 L124.1,475.0 L125.4,476.4 L126.7,477.7 L127.5,479.1 L127.6,480.5 L127.8,481.9 L128.4,483.3 L129.0,484.7 L129.0,486.1 L128.4,487.4 L128.3,488.8 L129.1,490.2 L130.0,491.6 L130.1,493.0 L129.8,494.4 L129.8,495.8 L130.1,497.1 L130.0,498.5 L129.0,499.9 L127.8,501.3 L127.1,502.7 L127.2,504.1 L127.3,505.5 L126.9,506.9 L126.3,508.2 L126.1,509.6 L126.1,511.0 L125.9,512.4 L124.9,513.8 L123.9,515.2 L123.1,516.6 L122.7,517.9 L122.3,519.3 L121.6,520.7 L121.0,522.1 L120.6,523.5 L120.3,524.9 L119.8,526.3 L119.1,527.7 L118.4,529.0 L119.3,529.0 L118.7,538.7 L120.8,541.7 L112.3,541.7 L114.5,538.7 L113.8,529.0 L115.0,529.0 L114.5,527.7 L114.0,526.3 L113.5,524.9 L112.8,523.5 L112.1,522.1 L111.6,520.7 L111.4,519.3 L111.2,517.9 L110.8,516.6 L110.2,515.2 L109.8,513.8 L109.6,512.4 L109.4,511.0 L108.7,509.6 L107.7,508.2 L106.9,506.9 L106.5,505.5 L106.5,504.1 L106.2,502.7 L105.7,501.3 L105.3,499.9 L105.5,498.5 L106.0,497.1 L106.4,495.8 L106.1,494.4 L105.5,493.0 L105.2,491.6 L105.4,490.2 L105.4,488.8 L105.0,487.4 L104.5,486.1 L104.8,484.7 L105.8,483.3 L106.9,481.9 L107.7,480.5 L108.1,479.1 L108.5,477.7 L109.3,476.4 L110.2,475.0 L110.8,473.6 L111.1,472.2 L111.5,470.8 L112.2,469.4 L113.2,468.0 L114.1,466.6 L114.9,465.3 L116.1,463.9 L116.6,462.5Z" fill="url(#hl101)" filter="url(#ltex)"/>
<path d="M116.6,479.5 L121.1,474.5 M116.6,479.5 L112.0,474.5 M116.6,486.5 L123.4,481.5 M116.6,486.5 L109.7,481.5 M116.6,493.5 L125.3,488.5 M116.6,493.5 L107.9,488.5 M116.6,500.5 L125.3,495.5 M116.6,500.5 L107.9,495.5 M116.6,507.5 L124.7,502.5 M116.6,507.5 L108.4,502.5 M116.6,514.5 L122.9,509.5 M116.6,514.5 L110.3,509.5 M116.6,521.5 L121.0,516.5 M116.6,521.5 L112.1,516.5" stroke="#f4ffd0" stroke-width="0.6" opacity="0.28" fill="none"/>
<line x1="116.6" y1="467.5" x2="116.6" y2="539.7" stroke="#eef6a0" stroke-width="0.8" opacity="0.6"/>
<rect x="100.1" y="549.2" width="32.6" height="87.3" fill="#000"/>
<radialGradient id="hl201" cx="0.5" cy="0.42" r="0.6"><stop offset="0" stop-color="#7aa458"/><stop offset="0.7" stop-color="#7aa458"/><stop offset="1" stop-color="#5c8844"/></radialGradient>
<path d="M115.7,551.4 L116.3,552.8 L117.9,554.3 L118.7,555.7 L119.5,557.2 L120.6,558.6 L121.8,560.1 L122.7,561.5 L123.5,563.0 L124.6,564.4 L126.0,565.9 L127.2,567.3 L127.6,568.8 L127.5,570.3 L127.7,571.7 L128.5,573.2 L129.2,574.6 L129.3,576.1 L129.0,577.5 L129.4,579.0 L130.5,580.4 L131.3,581.9 L131.1,583.3 L130.4,584.8 L130.1,586.2 L130.4,587.7 L130.0,589.1 L128.9,590.6 L127.8,592.0 L127.6,593.5 L128.0,594.9 L128.2,596.4 L127.7,597.8 L126.9,599.3 L126.6,600.7 L126.4,602.2 L125.8,603.6 L124.6,605.1 L123.4,606.5 L122.8,608.0 L122.6,609.4 L122.2,610.9 L121.5,612.3 L120.9,613.8 L120.4,615.2 L120.0,616.7 L119.4,618.1 L118.5,619.6 L117.7,621.0 L118.5,621.0 L117.9,631.3 L120.0,634.3 L111.5,634.3 L113.6,631.3 L113.0,621.0 L113.7,621.0 L112.9,619.6 L112.2,618.1 L111.5,616.7 L110.7,615.2 L109.7,613.8 L108.8,612.3 L108.4,610.9 L108.2,609.4 L107.9,608.0 L107.2,606.5 L106.4,605.1 L106.0,603.6 L105.8,602.2 L105.3,600.7 L104.2,599.3 L102.8,597.8 L101.8,596.4 L101.6,594.9 L101.6,593.5 L101.2,592.0 L100.4,590.6 L100.1,589.1 L100.7,587.7 L101.7,586.2 L101.9,584.8 L101.2,583.3 L100.4,581.9 L100.2,580.4 L100.4,579.0 L100.4,577.5 L99.8,576.1 L99.7,574.6 L100.5,573.2 L102.1,571.7 L103.5,570.3 L104.4,568.8 L104.9,567.3 L105.6,565.9 L106.8,564.4 L107.9,563.0 L108.6,561.5 L109.1,560.1 L109.8,558.6 L111.0,557.2 L112.3,555.7 L113.5,554.3 L115.2,552.8 L115.7,551.4Z" fill="url(#hl201)" filter="url(#ltex)"/>
<path d="M115.7,569.0 L121.4,564.0 M115.7,569.0 L110.1,564.0 M115.7,576.4 L124.2,571.4 M115.7,576.4 L107.3,571.4 M115.7,583.7 L126.4,578.7 M115.7,583.7 L105.1,578.7 M115.7,591.0 L126.4,586.0 M115.7,591.0 L105.1,586.0 M115.7,598.4 L125.8,593.4 M115.7,598.4 L105.7,593.4 M115.7,605.7 L123.5,600.7 M115.7,605.7 L108.0,600.7 M115.7,613.0 L121.3,608.0 M115.7,613.0 L110.2,608.0" stroke="#f4ffd0" stroke-width="0.6" opacity="0.28" fill="none"/>
<line x1="115.7" y1="556.4" x2="115.7" y2="632.3" stroke="#eef6a0" stroke-width="0.8" opacity="0.6"/>
<line x1="116.4" y1="643.7" x2="116.4" y2="641.0" stroke="#000" stroke-width="1.1" />
<text x="115.6" y="662.5" font-size="15.9" text-anchor="middle" fill="#000" >22</text>
<rect x="139.6" y="460.4" width="32.6" height="83.4" fill="#000"/>
<radialGradient id="hl102" cx="0.5" cy="0.42" r="0.6"><stop offset="0" stop-color="#98d44a"/><stop offset="0.7" stop-color="#98d44a"/><stop offset="1" stop-color="#72b634"/></radialGradient>
<path d="M155.3,462.5 L155.8,463.9 L157.1,465.3 L157.9,466.6 L159.0,468.0 L160.3,469.4 L161.3,470.8 L162.0,472.2 L162.7,473.6 L163.7,475.0 L164.6,476.4 L164.9,477.7 L164.9,479.1 L165.2,480.5 L166.2,481.9 L167.5,483.3 L168.1,484.7 L168.4,486.1 L168.7,487.4 L169.3,488.8 L169.6,490.2 L169.1,491.6 L168.0,493.0 L167.5,494.4 L167.8,495.8 L168.2,497.1 L167.8,498.5 L167.3,499.9 L167.3,501.3 L167.8,502.7 L167.9,504.1 L167.1,505.5 L166.0,506.9 L165.2,508.2 L164.9,509.6 L164.4,511.0 L163.6,512.4 L162.7,513.8 L162.4,515.2 L162.4,516.6 L162.2,517.9 L161.6,519.3 L160.8,520.7 L160.3,522.1 L159.8,523.5 L159.1,524.9 L158.3,526.3 L157.6,527.7 L157.0,529.0 L158.1,529.0 L157.4,538.7 L159.6,541.7 L151.1,541.7 L153.2,538.7 L152.6,529.0 L153.8,529.0 L153.2,527.7 L152.5,526.3 L151.9,524.9 L151.5,523.5 L150.9,522.1 L150.1,520.7 L149.3,519.3 L148.7,517.9 L148.4,516.6 L148.3,515.2 L147.9,513.8 L147.3,512.4 L146.9,511.0 L146.8,509.6 L146.7,508.2 L146.2,506.9 L145.1,505.5 L144.0,504.1 L143.5,502.7 L143.5,501.3 L143.3,499.9 L142.8,498.5 L142.3,497.1 L142.6,495.8 L143.5,494.4 L144.1,493.0 L144.0,491.6 L143.4,490.2 L143.1,488.8 L143.2,487.4 L143.4,486.1 L143.5,484.7 L143.3,483.3 L143.5,481.9 L144.4,480.5 L145.7,479.1 L146.7,477.7 L147.3,476.4 L147.8,475.0 L148.7,473.6 L149.7,472.2 L150.5,470.8 L151.1,469.4 L151.7,468.0 L152.5,466.6 L153.4,465.3 L154.9,463.9 L155.3,462.5Z" fill="url(#hl102)" filter="url(#ltex)"/>
<path d="M155.3,479.5 L160.1,474.5 M155.3,479.5 L150.5,474.5 M155.3,486.5 L162.5,481.5 M155.3,486.5 L148.1,481.5 M155.3,493.5 L164.5,488.5 M155.3,493.5 L146.2,488.5 M155.3,500.5 L164.5,495.5 M155.3,500.5 L146.2,495.5 M155.3,507.5 L163.9,502.5 M155.3,507.5 L146.7,502.5 M155.3,514.5 L162.0,509.5 M155.3,514.5 L148.7,509.5 M155.3,521.5 L160.0,516.5 M155.3,521.5 L150.6,516.5" stroke="#f4ffd0" stroke-width="0.6" opacity="0.28" fill="none"/>
<line x1="155.3" y1="467.5" x2="155.3" y2="539.7" stroke="#eef6a0" stroke-width="0.8" opacity="0.6"/>
<rect x="139.6" y="549.2" width="32.6" height="87.3" fill="#000"/>
<radialGradient id="hl202" cx="0.5" cy="0.42" r="0.6"><stop offset="0" stop-color="#aec868"/><stop offset="0.7" stop-color="#aec868"/><stop offset="1" stop-color="#8aa84c"/></radialGradient>
<path d="M156.3,551.4 L156.8,552.8 L158.2,554.3 L159.3,555.7 L160.5,557.2 L161.6,558.6 L162.4,560.1 L163.4,561.5 L164.6,563.0 L165.6,564.4 L165.9,565.9 L165.9,567.3 L166.4,568.8 L167.4,570.3 L168.6,571.7 L169.1,573.2 L169.5,574.6 L170.4,576.1 L171.4,577.5 L171.8,579.0 L171.2,580.4 L170.2,581.9 L169.8,583.3 L170.0,584.8 L170.2,586.2 L169.7,587.7 L169.1,589.1 L169.3,590.6 L170.0,592.0 L170.1,593.5 L169.4,594.9 L168.4,596.4 L167.7,597.8 L167.4,599.3 L166.8,600.7 L165.6,602.2 L164.7,603.6 L164.4,605.1 L164.4,606.5 L164.2,608.0 L163.5,609.4 L162.8,610.9 L162.3,612.3 L161.9,613.8 L161.1,615.2 L160.2,616.7 L159.3,618.1 L158.7,619.6 L158.2,621.0 L159.1,621.0 L158.4,631.3 L160.5,634.3 L152.1,634.3 L154.2,631.3 L153.5,621.0 L154.2,621.0 L153.4,619.6 L152.7,618.1 L152.1,616.7 L151.6,615.2 L151.1,613.8 L150.3,612.3 L149.2,610.9 L148.2,609.4 L147.6,608.0 L147.1,606.5 L146.4,605.1 L145.4,603.6 L144.7,602.2 L144.7,600.7 L145.0,599.3 L144.9,597.8 L144.0,596.4 L143.0,594.9 L142.5,593.5 L142.3,592.0 L141.8,590.6 L140.7,589.1 L139.4,587.7 L139.3,586.2 L140.0,584.8 L140.9,583.3 L141.1,581.9 L140.8,580.4 L140.9,579.0 L141.5,577.5 L142.3,576.1 L142.6,574.6 L142.2,573.2 L142.0,571.7 L142.6,570.3 L143.8,568.8 L144.7,567.3 L145.4,565.9 L146.1,564.4 L147.3,563.0 L148.9,561.5 L150.3,560.1 L151.2,558.6 L152.0,557.2 L153.0,555.7 L154.1,554.3 L155.8,552.8 L156.3,551.4Z" fill="url(#hl202)" filter="url(#ltex)"/>
<path d="M156.3,569.0 L161.9,564.0 M156.3,569.0 L150.7,564.0 M156.3,576.4 L164.7,571.4 M156.3,576.4 L147.9,571.4 M156.3,583.7 L167.0,578.7 M156.3,583.7 L145.6,578.7 M156.3,591.0 L167.0,586.0 M156.3,591.0 L145.6,586.0 M156.3,598.4 L166.3,593.4 M156.3,598.4 L146.3,593.4 M156.3,605.7 L164.1,600.7 M156.3,605.7 L148.5,600.7 M156.3,613.0 L161.8,608.0 M156.3,613.0 L150.8,608.0" stroke="#f4ffd0" stroke-width="0.6" opacity="0.28" fill="none"/>
<line x1="156.3" y1="556.4" x2="156.3" y2="632.3" stroke="#eef6a0" stroke-width="0.8" opacity="0.6"/>
<line x1="156.1" y1="643.7" x2="156.1" y2="641.0" stroke="#000" stroke-width="1.1" />
<text x="155.3" y="662.5" font-size="15.9" text-anchor="middle" fill="#000" >24</text>
<rect x="179.0" y="460.4" width="32.6" height="83.4" fill="#000"/>
<radialGradient id="hl103" cx="0.5" cy="0.42" r="0.6"><stop offset="0" stop-color="#70bc40"/><stop offset="0.7" stop-color="#70bc40"/><stop offset="1" stop-color="#509c2e"/></radialGradient>
<path d="M196.1,462.5 L196.6,463.9 L198.2,465.3 L199.2,466.6 L200.0,468.0 L200.9,469.4 L202.2,470.8 L203.7,472.2 L204.9,473.6 L205.6,475.0 L206.1,476.4 L207.0,477.7 L208.0,479.1 L208.4,480.5 L208.2,481.9 L208.2,483.3 L209.3,484.7 L210.7,486.1 L211.3,487.4 L211.1,488.8 L211.0,490.2 L211.6,491.6 L212.0,493.0 L211.6,494.4 L210.4,495.8 L209.6,497.1 L209.6,498.5 L209.9,499.9 L209.6,501.3 L208.9,502.7 L208.6,504.1 L208.9,505.5 L209.1,506.9 L208.3,508.2 L207.0,509.6 L206.0,511.0 L205.5,512.4 L205.1,513.8 L204.3,515.2 L203.4,516.6 L202.9,517.9 L202.7,519.3 L202.5,520.7 L201.9,522.1 L201.0,523.5 L200.2,524.9 L199.6,526.3 L198.9,527.7 L198.1,529.0 L198.8,529.0 L198.2,538.7 L200.3,541.7 L191.8,541.7 L194.0,538.7 L193.3,529.0 L194.1,529.0 L193.3,527.7 L192.6,526.3 L192.2,524.9 L191.7,523.5 L191.2,522.1 L190.5,520.7 L190.0,519.3 L189.7,517.9 L189.4,516.6 L188.8,515.2 L187.7,513.8 L186.6,512.4 L186.1,511.0 L185.8,509.6 L185.4,508.2 L184.6,506.9 L183.9,505.5 L183.8,504.1 L184.3,502.7 L184.5,501.3 L184.0,499.9 L183.1,498.5 L182.5,497.1 L182.7,495.8 L182.8,494.4 L182.3,493.0 L181.4,491.6 L181.1,490.2 L181.6,488.8 L182.4,487.4 L183.0,486.1 L183.3,484.7 L183.6,483.3 L184.5,481.9 L185.7,480.5 L186.3,479.1 L186.4,477.7 L186.5,476.4 L187.1,475.0 L188.2,473.6 L189.3,472.2 L190.1,470.8 L190.9,469.4 L192.0,468.0 L193.2,466.6 L194.3,465.3 L195.6,463.9 L196.1,462.5Z" fill="url(#hl103)" filter="url(#ltex)"/>
<path d="M196.1,479.5 L201.5,474.5 M196.1,479.5 L190.7,474.5 M196.1,486.5 L204.1,481.5 M196.1,486.5 L188.0,481.5 M196.1,493.5 L206.3,488.5 M196.1,493.5 L185.9,488.5 M196.1,500.5 L206.3,495.5 M196.1,500.5 L185.9,495.5 M196.1,507.5 L205.7,502.5 M196.1,507.5 L186.5,502.5 M196.1,514.5 L203.5,509.5 M196.1,514.5 L188.7,509.5 M196.1,521.5 L201.4,516.5 M196.1,521.5 L190.8,516.5" stroke="#f4ffd0" stroke-width="0.6" opacity="0.28" fill="none"/>
<line x1="196.1" y1="467.5" x2="196.1" y2="539.7" stroke="#eef6a0" stroke-width="0.8" opacity="0.6"/>
<rect x="179.0" y="549.2" width="32.6" height="87.3" fill="#000"/>
<radialGradient id="hl203" cx="0.5" cy="0.42" r="0.6"><stop offset="0" stop-color="#b0cc6a"/><stop offset="0.7" stop-color="#b0cc6a"/><stop offset="1" stop-color="#8eac50"/></radialGradient>
<path d="M194.7,551.4 L195.2,552.8 L196.7,554.3 L198.0,555.7 L199.0,557.2 L199.9,558.6 L200.7,560.1 L201.8,561.5 L202.7,563.0 L203.2,564.4 L203.4,565.9 L204.0,567.3 L205.3,568.8 L206.7,570.3 L207.5,571.7 L207.8,573.2 L208.5,574.6 L209.6,576.1 L209.9,577.5 L209.1,579.0 L208.0,580.4 L207.7,581.9 L208.1,583.3 L208.6,584.8 L208.5,586.2 L208.3,587.7 L208.5,589.1 L209.1,590.6 L209.2,592.0 L208.2,593.5 L206.9,594.9 L206.1,596.4 L205.8,597.8 L205.4,599.3 L204.5,600.7 L203.7,602.2 L203.5,603.6 L203.7,605.1 L203.5,606.5 L202.7,608.0 L201.8,609.4 L201.2,610.9 L200.7,612.3 L200.0,613.8 L199.0,615.2 L198.2,616.7 L197.7,618.1 L197.3,619.6 L196.7,621.0 L197.4,621.0 L196.8,631.3 L198.9,634.3 L190.4,634.3 L192.5,631.3 L191.9,621.0 L192.4,621.0 L191.7,619.6 L191.0,618.1 L190.2,616.7 L189.6,615.2 L189.3,613.8 L188.9,612.3 L188.2,610.9 L187.2,609.4 L186.2,608.0 L185.6,606.5 L185.1,605.1 L184.3,603.6 L183.1,602.2 L182.2,600.7 L182.0,599.3 L182.3,597.8 L182.3,596.4 L181.7,594.9 L180.9,593.5 L180.6,592.0 L180.7,590.6 L180.5,589.1 L179.4,587.7 L178.3,586.2 L177.8,584.8 L178.2,583.3 L178.8,581.9 L178.9,580.4 L178.6,579.0 L178.7,577.5 L179.6,576.1 L181.1,574.6 L181.8,573.2 L181.7,571.7 L181.7,570.3 L182.3,568.8 L183.3,567.3 L184.2,565.9 L184.7,564.4 L185.3,563.0 L186.5,561.5 L188.0,560.1 L189.4,558.6 L190.5,557.2 L191.4,555.7 L192.5,554.3 L194.1,552.8 L194.7,551.4Z" fill="url(#hl203)" filter="url(#ltex)"/>
<path d="M194.7,569.0 L200.3,564.0 M194.7,569.0 L189.0,564.0 M194.7,576.4 L203.1,571.4 M194.7,576.4 L186.2,571.4 M194.7,583.7 L205.3,578.7 M194.7,583.7 L184.0,578.7 M194.7,591.0 L205.3,586.0 M194.7,591.0 L184.0,586.0 M194.7,598.4 L204.7,593.4 M194.7,598.4 L184.7,593.4 M194.7,605.7 L202.4,600.7 M194.7,605.7 L186.9,600.7 M194.7,613.0 L200.2,608.0 M194.7,613.0 L189.2,608.0" stroke="#f4ffd0" stroke-width="0.6" opacity="0.28" fill="none"/>
<line x1="194.7" y1="556.4" x2="194.7" y2="632.3" stroke="#eef6a0" stroke-width="0.8" opacity="0.6"/>
<line x1="195.9" y1="643.7" x2="195.9" y2="641.0" stroke="#000" stroke-width="1.1" />
<text x="195.1" y="662.5" font-size="15.9" text-anchor="middle" fill="#000" >26</text>
<rect x="218.5" y="460.4" width="32.6" height="83.4" fill="#000"/>
<radialGradient id="hl104" cx="0.5" cy="0.42" r="0.6"><stop offset="0" stop-color="#7eae60"/><stop offset="0.7" stop-color="#7eae60"/><stop offset="1" stop-color="#62944c"/></radialGradient>
<path d="M235.5,462.5 L235.9,463.9 L237.2,465.3 L238.2,466.6 L238.9,468.0 L239.6,469.4 L240.4,470.8 L241.3,472.2 L241.9,473.6 L242.1,475.0 L242.4,476.4 L243.2,477.7 L244.4,479.1 L245.2,480.5 L245.6,481.9 L246.1,483.3 L246.9,484.7 L247.7,486.1 L247.5,487.4 L246.6,488.8 L246.0,490.2 L246.2,491.6 L246.6,493.0 L246.6,494.4 L246.4,495.8 L246.5,497.1 L247.1,498.5 L247.4,499.9 L247.0,501.3 L246.0,502.7 L245.2,504.1 L244.9,505.5 L244.6,506.9 L243.9,508.2 L243.2,509.6 L242.8,511.0 L242.9,512.4 L243.0,513.8 L242.5,515.2 L241.8,516.6 L241.2,517.9 L240.9,519.3 L240.4,520.7 L239.6,522.1 L238.9,523.5 L238.4,524.9 L238.0,526.3 L237.6,527.7 L237.1,529.0 L238.3,529.0 L237.6,538.7 L239.7,541.7 L231.3,541.7 L233.4,538.7 L232.7,529.0 L233.7,529.0 L233.1,527.7 L232.5,526.3 L231.8,524.9 L231.2,523.5 L230.9,522.1 L230.7,520.7 L230.3,519.3 L229.6,517.9 L228.9,516.6 L228.5,515.2 L228.2,513.8 L227.6,512.4 L226.5,511.0 L225.6,509.6 L225.1,508.2 L225.2,506.9 L225.1,505.5 L224.7,504.1 L224.2,502.7 L224.0,501.3 L224.4,499.9 L224.5,498.5 L223.9,497.1 L223.1,495.8 L222.5,494.4 L222.6,493.0 L222.9,491.6 L222.7,490.2 L222.3,488.8 L222.1,487.4 L222.8,486.1 L224.1,484.7 L225.0,483.3 L225.3,481.9 L225.4,480.5 L226.0,479.1 L226.8,477.7 L227.5,476.4 L227.8,475.0 L228.1,473.6 L228.8,472.2 L229.9,470.8 L231.1,469.4 L232.0,468.0 L232.8,466.6 L233.7,465.3 L235.1,463.9 L235.5,462.5Z" fill="url(#hl104)" filter="url(#ltex)"/>
<path d="M235.5,479.5 L240.0,474.5 M235.5,479.5 L231.0,474.5 M235.5,486.5 L242.3,481.5 M235.5,486.5 L228.7,481.5 M235.5,493.5 L244.1,488.5 M235.5,493.5 L226.9,488.5 M235.5,500.5 L244.1,495.5 M235.5,500.5 L226.9,495.5 M235.5,507.5 L243.5,502.5 M235.5,507.5 L227.5,502.5 M235.5,514.5 L241.7,509.5 M235.5,514.5 L229.3,509.5 M235.5,521.5 L239.9,516.5 M235.5,521.5 L231.1,516.5" stroke="#f4ffd0" stroke-width="0.6" opacity="0.28" fill="none"/>
<line x1="235.5" y1="467.5" x2="235.5" y2="539.7" stroke="#eef6a0" stroke-width="0.8" opacity="0.6"/>
<rect x="218.5" y="549.2" width="32.6" height="87.3" fill="#000"/>
<radialGradient id="hl204" cx="0.5" cy="0.42" r="0.6"><stop offset="0" stop-color="#acc658"/><stop offset="0.7" stop-color="#acc658"/><stop offset="1" stop-color="#8aa642"/></radialGradient>
<path d="M234.6,551.4 L235.1,552.8 L236.7,554.3 L237.8,555.7 L238.7,557.2 L239.3,558.6 L240.0,560.1 L240.9,561.5 L242.0,563.0 L242.8,564.4 L243.4,565.9 L244.3,567.3 L245.7,568.8 L247.0,570.3 L247.5,571.7 L247.3,573.2 L247.4,574.6 L247.9,576.1 L248.2,577.5 L247.7,579.0 L247.1,580.4 L247.3,581.9 L248.3,583.3 L249.1,584.8 L249.1,586.2 L248.6,587.7 L248.3,589.1 L248.2,590.6 L247.8,592.0 L246.7,593.5 L245.5,594.9 L245.0,596.4 L245.2,597.8 L245.3,599.3 L244.8,600.7 L244.1,602.2 L243.8,603.6 L243.7,605.1 L243.2,606.5 L242.1,608.0 L241.0,609.4 L240.4,610.9 L240.0,612.3 L239.5,613.8 L238.8,615.2 L238.2,616.7 L237.7,618.1 L237.3,619.6 L236.7,621.0 L237.3,621.0 L236.7,631.3 L238.8,634.3 L230.4,634.3 L232.5,631.3 L231.8,621.0 L232.2,621.0 L231.6,619.6 L231.1,618.1 L230.4,616.7 L229.6,615.2 L229.0,613.8 L228.6,612.3 L228.3,610.9 L227.6,609.4 L226.4,608.0 L225.3,606.5 L224.6,605.1 L224.2,603.6 L223.7,602.2 L222.8,600.7 L221.9,599.3 L221.8,597.8 L222.1,596.4 L222.3,594.9 L221.8,593.5 L220.7,592.0 L220.0,590.6 L219.9,589.1 L219.8,587.7 L219.2,586.2 L218.2,584.8 L217.7,583.3 L218.2,581.9 L219.1,580.4 L219.6,579.0 L219.4,577.5 L219.4,576.1 L220.4,574.6 L221.6,573.2 L222.3,571.7 L222.3,570.3 L222.2,568.8 L222.7,567.3 L223.8,565.9 L225.0,564.4 L225.8,563.0 L226.6,561.5 L227.7,560.1 L229.1,558.6 L230.5,557.2 L231.6,555.7 L232.5,554.3 L234.1,552.8 L234.6,551.4Z" fill="url(#hl204)" filter="url(#ltex)"/>
<path d="M234.6,569.0 L240.1,564.0 M234.6,569.0 L229.1,564.0 M234.6,576.4 L242.8,571.4 M234.6,576.4 L226.3,571.4 M234.6,583.7 L245.0,578.7 M234.6,583.7 L224.2,578.7 M234.6,591.0 L245.0,586.0 M234.6,591.0 L224.2,586.0 M234.6,598.4 L244.4,593.4 M234.6,598.4 L224.8,593.4 M234.6,605.7 L242.2,600.7 M234.6,605.7 L227.0,600.7 M234.6,613.0 L240.0,608.0 M234.6,613.0 L229.2,608.0" stroke="#f4ffd0" stroke-width="0.6" opacity="0.28" fill="none"/>
<line x1="234.6" y1="556.4" x2="234.6" y2="632.3" stroke="#eef6a0" stroke-width="0.8" opacity="0.6"/>
<line x1="235.6" y1="643.7" x2="235.6" y2="641.0" stroke="#000" stroke-width="1.1" />
<text x="234.8" y="662.5" font-size="15.9" text-anchor="middle" fill="#000" >28</text>
<rect x="257.9" y="460.4" width="32.6" height="83.4" fill="#000"/>
<radialGradient id="hl105" cx="0.5" cy="0.42" r="0.6"><stop offset="0" stop-color="#7cae7a"/><stop offset="0.7" stop-color="#7cae7a"/><stop offset="1" stop-color="#5e9062"/></radialGradient>
<path d="M274.8,462.5 L275.2,463.9 L276.7,465.3 L277.5,466.6 L278.1,468.0 L278.9,469.4 L279.9,470.8 L281.1,472.2 L282.0,473.6 L282.7,475.0 L283.5,476.4 L284.5,477.7 L285.4,479.1 L285.6,480.5 L285.3,481.9 L285.4,483.3 L286.2,484.7 L287.1,486.1 L287.2,487.4 L287.0,488.8 L287.3,490.2 L288.1,491.6 L288.6,493.0 L288.2,494.4 L287.4,495.8 L287.0,497.1 L286.9,498.5 L286.7,499.9 L286.0,501.3 L285.2,502.7 L285.2,504.1 L285.6,505.5 L285.7,506.9 L285.1,508.2 L284.3,509.6 L283.7,511.0 L283.4,512.4 L282.8,513.8 L281.8,515.2 L280.9,516.6 L280.5,517.9 L280.4,519.3 L280.1,520.7 L279.5,522.1 L278.9,523.5 L278.4,524.9 L278.0,526.3 L277.3,527.7 L276.6,529.0 L277.6,529.0 L276.9,538.7 L279.0,541.7 L270.6,541.7 L272.7,538.7 L272.1,529.0 L273.2,529.0 L272.6,527.7 L272.1,526.3 L271.7,524.9 L271.2,523.5 L270.7,522.1 L270.2,520.7 L269.9,519.3 L269.8,517.9 L269.5,516.6 L268.9,515.2 L268.1,513.8 L267.5,512.4 L267.2,511.0 L266.8,509.6 L266.1,508.2 L265.3,506.9 L264.9,505.5 L265.0,504.1 L265.3,502.7 L265.2,501.3 L264.8,499.9 L264.3,498.5 L264.3,497.1 L264.7,495.8 L264.5,494.4 L263.8,493.0 L263.1,491.6 L263.0,490.2 L263.4,488.8 L263.8,487.4 L263.8,486.1 L264.1,484.7 L264.7,483.3 L265.7,481.9 L266.6,480.5 L267.0,479.1 L267.1,477.7 L267.3,476.4 L268.0,475.0 L268.7,473.6 L269.4,472.2 L269.9,470.8 L270.6,469.4 L271.5,468.0 L272.5,466.6 L273.3,465.3 L274.4,463.9 L274.8,462.5Z" fill="url(#hl105)" filter="url(#ltex)"/>
<path d="M274.8,479.5 L279.3,474.5 M274.8,479.5 L270.4,474.5 M274.8,486.5 L281.5,481.5 M274.8,486.5 L268.1,481.5 M274.8,493.5 L283.3,488.5 M274.8,493.5 L266.4,488.5 M274.8,500.5 L283.3,495.5 M274.8,500.5 L266.4,495.5 M274.8,507.5 L282.7,502.5 M274.8,507.5 L266.9,502.5 M274.8,514.5 L280.9,509.5 M274.8,514.5 L268.7,509.5 M274.8,521.5 L279.2,516.5 M274.8,521.5 L270.4,516.5" stroke="#f4ffd0" stroke-width="0.6" opacity="0.28" fill="none"/>
<line x1="274.8" y1="467.5" x2="274.8" y2="539.7" stroke="#eef6a0" stroke-width="0.8" opacity="0.6"/>
<rect x="257.9" y="549.2" width="32.6" height="87.3" fill="#000"/>
<radialGradient id="hl205" cx="0.5" cy="0.42" r="0.6"><stop offset="0" stop-color="#acc47c"/><stop offset="0.7" stop-color="#acc47c"/><stop offset="1" stop-color="#8aa462"/></radialGradient>
<path d="M274.1,551.4 L274.6,552.8 L276.1,554.3 L277.4,555.7 L278.6,557.2 L279.6,558.6 L280.5,560.1 L281.7,561.5 L282.8,563.0 L283.5,564.4 L283.6,565.9 L283.9,567.3 L284.9,568.8 L286.2,570.3 L287.1,571.7 L287.6,573.2 L288.2,574.6 L289.5,576.1 L290.3,577.5 L290.0,579.0 L288.9,580.4 L288.1,581.9 L288.3,583.3 L288.6,584.8 L288.4,586.2 L288.0,587.7 L287.9,589.1 L288.6,590.6 L289.1,592.0 L288.6,593.5 L287.4,594.9 L286.5,596.4 L286.1,597.8 L285.7,599.3 L284.6,600.7 L283.5,602.2 L283.0,603.6 L283.0,605.1 L283.0,606.5 L282.4,608.0 L281.6,609.4 L281.0,610.9 L280.5,612.3 L279.9,613.8 L278.9,615.2 L277.9,616.7 L277.2,618.1 L276.7,619.6 L276.2,621.0 L276.8,621.0 L276.2,631.3 L278.3,634.3 L269.9,634.3 L272.0,631.3 L271.3,621.0 L272.0,621.0 L271.3,619.6 L270.5,618.1 L269.9,616.7 L269.4,615.2 L269.1,613.8 L268.6,612.3 L267.7,610.9 L266.7,609.4 L266.0,608.0 L265.5,606.5 L264.9,605.1 L263.8,603.6 L262.8,602.2 L262.4,600.7 L262.6,599.3 L262.7,597.8 L262.3,596.4 L261.5,594.9 L261.0,593.5 L260.9,592.0 L260.9,590.6 L260.1,589.1 L258.8,587.7 L258.0,586.2 L258.1,584.8 L258.8,583.3 L259.1,581.9 L258.9,580.4 L258.8,579.0 L259.3,577.5 L260.4,576.1 L261.3,574.6 L261.4,573.2 L261.2,571.7 L261.5,570.3 L262.3,568.8 L263.2,567.3 L263.8,565.9 L264.3,564.4 L265.2,563.0 L266.5,561.5 L268.0,560.1 L269.1,558.6 L270.0,557.2 L270.9,555.7 L272.0,554.3 L273.6,552.8 L274.1,551.4Z" fill="url(#hl205)" filter="url(#ltex)"/>
<path d="M274.1,569.0 L279.7,564.0 M274.1,569.0 L268.5,564.0 M274.1,576.4 L282.5,571.4 M274.1,576.4 L265.7,571.4 M274.1,583.7 L284.8,578.7 M274.1,583.7 L263.4,578.7 M274.1,591.0 L284.8,586.0 M274.1,591.0 L263.4,586.0 M274.1,598.4 L284.1,593.4 M274.1,598.4 L264.1,593.4 M274.1,605.7 L281.9,600.7 M274.1,605.7 L266.3,600.7 M274.1,613.0 L279.6,608.0 M274.1,613.0 L268.6,608.0" stroke="#f4ffd0" stroke-width="0.6" opacity="0.28" fill="none"/>
<line x1="274.1" y1="556.4" x2="274.1" y2="632.3" stroke="#eef6a0" stroke-width="0.8" opacity="0.6"/>
<line x1="275.3" y1="643.7" x2="275.3" y2="641.0" stroke="#000" stroke-width="1.1" />
<text x="274.5" y="662.5" font-size="15.9" text-anchor="middle" fill="#000" >30</text>
<rect x="297.3" y="460.4" width="32.6" height="83.4" fill="#000"/>
<radialGradient id="hl106" cx="0.5" cy="0.42" r="0.6"><stop offset="0" stop-color="#7ea44c"/><stop offset="0.7" stop-color="#7ea44c"/><stop offset="1" stop-color="#5e8236"/></radialGradient>
<path d="M314.0,462.5 L314.5,463.9 L316.3,465.3 L317.3,466.6 L318.4,468.0 L319.6,469.4 L320.8,470.8 L321.4,472.2 L321.8,473.6 L322.4,475.0 L323.6,476.4 L324.8,477.7 L325.6,479.1 L326.1,480.5 L327.2,481.9 L328.7,483.3 L329.7,484.7 L329.7,486.1 L328.8,487.4 L328.3,488.8 L328.6,490.2 L328.7,491.6 L328.3,493.0 L327.9,494.4 L328.4,495.8 L329.6,497.1 L330.0,498.5 L329.3,499.9 L328.2,501.3 L327.6,502.7 L327.4,504.1 L326.7,505.5 L325.5,506.9 L324.4,508.2 L324.1,509.6 L324.3,511.0 L324.2,512.4 L323.5,513.8 L322.8,515.2 L322.3,516.6 L322.0,517.9 L321.2,519.3 L320.1,520.7 L319.1,522.1 L318.4,523.5 L318.0,524.9 L317.4,526.3 L316.7,527.7 L316.0,529.0 L316.7,529.0 L316.1,538.7 L318.2,541.7 L309.7,541.7 L311.9,538.7 L311.2,529.0 L312.3,529.0 L311.7,527.7 L311.0,526.3 L310.2,524.9 L309.4,523.5 L308.9,522.1 L308.5,520.7 L308.0,519.3 L307.3,517.9 L306.7,516.6 L306.5,515.2 L306.5,513.8 L306.3,512.4 L305.5,511.0 L304.5,509.6 L303.8,508.2 L303.5,506.9 L303.0,505.5 L302.2,504.1 L301.2,502.7 L300.8,501.3 L301.1,499.9 L301.7,498.5 L301.7,497.1 L301.4,495.8 L301.2,494.4 L301.5,493.0 L301.9,491.6 L301.6,490.2 L300.8,488.8 L300.0,487.4 L300.0,486.1 L301.0,484.7 L301.9,483.3 L302.4,481.9 L302.8,480.5 L303.7,479.1 L305.0,477.7 L306.1,476.4 L306.6,475.0 L306.9,473.6 L307.5,472.2 L308.3,470.8 L309.3,469.4 L310.2,468.0 L311.0,466.6 L311.9,465.3 L313.5,463.9 L314.0,462.5Z" fill="url(#hl106)" filter="url(#ltex)"/>
<path d="M314.0,479.5 L319.3,474.5 M314.0,479.5 L308.7,474.5 M314.0,486.5 L321.9,481.5 M314.0,486.5 L306.0,481.5 M314.0,493.5 L324.1,488.5 M314.0,493.5 L303.9,488.5 M314.0,500.5 L324.1,495.5 M314.0,500.5 L303.9,495.5 M314.0,507.5 L323.4,502.5 M314.0,507.5 L304.5,502.5 M314.0,514.5 L321.3,509.5 M314.0,514.5 L306.6,509.5 M314.0,521.5 L319.2,516.5 M314.0,521.5 L308.8,516.5" stroke="#f4ffd0" stroke-width="0.6" opacity="0.28" fill="none"/>
<line x1="314.0" y1="467.5" x2="314.0" y2="539.7" stroke="#eef6a0" stroke-width="0.8" opacity="0.6"/>
<rect x="297.3" y="549.2" width="32.6" height="87.3" fill="#000"/>
<radialGradient id="hl206" cx="0.5" cy="0.42" r="0.6"><stop offset="0" stop-color="#acca6c"/><stop offset="0.7" stop-color="#acca6c"/><stop offset="1" stop-color="#8aaa52"/></radialGradient>
<path d="M312.9,551.4 L313.4,552.8 L315.1,554.3 L316.1,555.7 L316.8,557.2 L317.6,558.6 L318.7,560.1 L320.1,561.5 L321.3,563.0 L322.1,564.4 L322.9,565.9 L324.2,567.3 L325.4,568.8 L325.8,570.3 L325.5,571.7 L325.4,573.2 L326.1,574.6 L327.2,576.1 L327.4,577.5 L327.0,579.0 L327.2,580.4 L328.2,581.9 L329.0,583.3 L328.9,584.8 L328.0,586.2 L327.3,587.7 L327.1,589.1 L326.9,590.6 L326.1,592.0 L325.1,593.5 L324.8,594.9 L325.2,596.4 L325.5,597.8 L325.0,599.3 L324.1,600.7 L323.3,602.2 L322.9,603.6 L322.4,605.1 L321.3,606.5 L320.2,608.0 L319.5,609.4 L319.3,610.9 L319.0,612.3 L318.4,613.8 L317.6,615.2 L317.0,616.7 L316.5,618.1 L315.8,619.6 L315.0,621.0 L315.6,621.0 L315.0,631.3 L317.1,634.3 L308.6,634.3 L310.7,631.3 L310.1,621.0 L310.9,621.0 L310.2,619.6 L309.6,618.1 L309.1,616.7 L308.6,615.2 L307.9,613.8 L307.3,612.3 L307.0,610.9 L306.9,609.4 L306.4,608.0 L305.5,606.5 L304.5,605.1 L303.9,603.6 L303.5,602.2 L303.0,600.7 L302.2,599.3 L301.3,597.8 L301.0,596.4 L301.3,594.9 L301.6,593.5 L301.3,592.0 L300.6,590.6 L300.1,589.1 L300.1,587.7 L300.4,586.2 L300.0,584.8 L299.1,583.3 L298.4,581.9 L298.5,580.4 L299.2,579.0 L299.6,577.5 L299.6,576.1 L299.9,574.6 L300.8,573.2 L302.0,571.7 L302.9,570.3 L303.2,568.8 L303.2,567.3 L303.6,565.9 L304.5,564.4 L305.4,563.0 L306.2,561.5 L306.8,560.1 L307.7,558.6 L308.9,557.2 L310.1,555.7 L311.1,554.3 L312.3,552.8 L312.9,551.4Z" fill="url(#hl206)" filter="url(#ltex)"/>
<path d="M312.9,569.0 L318.2,564.0 M312.9,569.0 L307.5,564.0 M312.9,576.4 L320.8,571.4 M312.9,576.4 L304.9,571.4 M312.9,583.7 L322.9,578.7 M312.9,583.7 L302.8,578.7 M312.9,591.0 L322.9,586.0 M312.9,591.0 L302.8,586.0 M312.9,598.4 L322.3,593.4 M312.9,598.4 L303.4,593.4 M312.9,605.7 L320.2,600.7 M312.9,605.7 L305.5,600.7 M312.9,613.0 L318.1,608.0 M312.9,613.0 L307.6,608.0" stroke="#f4ffd0" stroke-width="0.6" opacity="0.28" fill="none"/>
<line x1="312.9" y1="556.4" x2="312.9" y2="632.3" stroke="#eef6a0" stroke-width="0.8" opacity="0.6"/>
<line x1="315.0" y1="643.7" x2="315.0" y2="641.0" stroke="#000" stroke-width="1.1" />
<text x="314.2" y="662.5" font-size="15.9" text-anchor="middle" fill="#000" >32</text>
<rect x="336.8" y="460.4" width="32.6" height="83.4" fill="#000"/>
<radialGradient id="hl107" cx="0.5" cy="0.42" r="0.6"><stop offset="0" stop-color="#98b82a"/><stop offset="0.7" stop-color="#98b82a"/><stop offset="1" stop-color="#6e9018"/></radialGradient>
<path d="M352.7,462.5 L353.2,463.9 L354.7,465.3 L355.5,466.6 L356.5,468.0 L357.7,469.4 L359.1,470.8 L360.2,472.2 L360.8,473.6 L361.5,475.0 L362.4,476.4 L363.3,477.7 L363.6,479.1 L363.5,480.5 L363.9,481.9 L365.2,483.3 L366.6,484.7 L367.3,486.1 L367.1,487.4 L367.2,488.8 L367.7,490.2 L368.0,491.6 L367.3,493.0 L366.1,494.4 L365.7,495.8 L366.1,497.1 L366.4,498.5 L366.1,499.9 L365.5,501.3 L365.4,502.7 L365.8,504.1 L365.8,505.5 L364.8,506.9 L363.5,508.2 L362.7,509.6 L362.3,511.0 L361.9,512.4 L361.0,513.8 L360.2,515.2 L359.9,516.6 L359.9,517.9 L359.6,519.3 L358.9,520.7 L358.0,522.1 L357.3,523.5 L356.7,524.9 L356.0,526.3 L355.2,527.7 L354.5,529.0 L355.4,529.0 L354.8,538.7 L356.9,541.7 L348.4,541.7 L350.6,538.7 L349.9,529.0 L350.9,529.0 L350.2,527.7 L349.4,526.3 L348.7,524.9 L348.2,523.5 L347.6,522.1 L346.9,520.7 L346.1,519.3 L345.7,517.9 L345.7,516.6 L345.5,515.2 L345.0,513.8 L344.1,512.4 L343.4,511.0 L343.0,509.6 L342.6,508.2 L341.8,506.9 L340.6,505.5 L339.7,504.1 L339.6,502.7 L340.0,501.3 L340.1,499.9 L339.6,498.5 L339.2,497.1 L339.6,495.8 L340.2,494.4 L340.4,493.0 L339.7,491.6 L338.7,490.2 L338.3,488.8 L338.6,487.4 L339.0,486.1 L339.4,484.7 L339.5,483.3 L340.2,481.9 L341.5,480.5 L342.9,479.1 L343.7,477.7 L344.1,476.4 L344.5,475.0 L345.3,473.6 L346.2,472.2 L347.0,470.8 L347.7,469.4 L348.4,468.0 L349.5,466.6 L350.7,465.3 L352.2,463.9 L352.7,462.5Z" fill="url(#hl107)" filter="url(#ltex)"/>
<path d="M352.7,479.5 L357.9,474.5 M352.7,479.5 L347.4,474.5 M352.7,486.5 L360.5,481.5 M352.7,486.5 L344.8,481.5 M352.7,493.5 L362.6,488.5 M352.7,493.5 L342.7,488.5 M352.7,500.5 L362.6,495.5 M352.7,500.5 L342.7,495.5 M352.7,507.5 L362.0,502.5 M352.7,507.5 L343.3,502.5 M352.7,514.5 L359.9,509.5 M352.7,514.5 L345.4,509.5 M352.7,521.5 L357.8,516.5 M352.7,521.5 L347.5,516.5" stroke="#f4ffd0" stroke-width="0.6" opacity="0.28" fill="none"/>
<line x1="352.7" y1="467.5" x2="352.7" y2="539.7" stroke="#eef6a0" stroke-width="0.8" opacity="0.6"/>
<rect x="336.8" y="549.2" width="32.6" height="87.3" fill="#000"/>
<radialGradient id="hl207" cx="0.5" cy="0.42" r="0.6"><stop offset="0" stop-color="#b4d07c"/><stop offset="0.7" stop-color="#b4d07c"/><stop offset="1" stop-color="#92b062"/></radialGradient>
<path d="M353.1,551.4 L353.6,552.8 L355.0,554.3 L355.9,555.7 L356.8,557.2 L357.9,558.6 L359.2,560.1 L360.3,561.5 L360.9,563.0 L361.2,564.4 L361.7,565.9 L362.6,567.3 L363.4,568.8 L363.6,570.3 L363.9,571.7 L364.9,573.2 L366.4,574.6 L367.5,576.1 L367.3,577.5 L366.7,579.0 L366.7,580.4 L366.9,581.9 L366.7,583.3 L365.8,584.8 L365.2,586.2 L365.5,587.7 L366.2,589.1 L366.4,590.6 L365.9,592.0 L365.3,593.5 L365.2,594.9 L365.2,596.4 L364.5,597.8 L363.3,599.3 L362.2,600.7 L361.7,602.2 L361.6,603.6 L361.3,605.1 L360.6,606.5 L360.1,608.0 L359.9,609.4 L359.7,610.9 L359.1,612.3 L358.1,613.8 L357.3,615.2 L356.7,616.7 L356.2,618.1 L355.5,619.6 L354.8,621.0 L355.8,621.0 L355.2,631.3 L357.3,634.3 L348.9,634.3 L351.0,631.3 L350.3,621.0 L351.1,621.0 L350.3,619.6 L349.4,618.1 L348.6,616.7 L348.1,615.2 L347.7,613.8 L347.1,612.3 L346.4,610.9 L345.8,609.4 L345.6,608.0 L345.4,606.5 L344.8,605.1 L343.7,603.6 L342.6,602.2 L341.9,600.7 L341.6,599.3 L341.1,597.8 L340.2,596.4 L339.3,594.9 L339.1,593.5 L339.6,592.0 L340.1,590.6 L339.7,589.1 L339.0,587.7 L338.7,586.2 L338.9,584.8 L339.1,583.3 L338.6,581.9 L337.7,580.4 L337.0,579.0 L337.3,577.5 L338.3,576.1 L339.2,574.6 L339.7,573.2 L340.2,571.7 L341.2,570.3 L342.5,568.8 L343.4,567.3 L343.8,565.9 L344.0,564.4 L344.6,563.0 L345.6,561.5 L346.8,560.1 L347.7,558.6 L348.6,557.2 L349.7,555.7 L350.9,554.3 L352.6,552.8 L353.1,551.4Z" fill="url(#hl207)" filter="url(#ltex)"/>
<path d="M353.1,569.0 L358.4,564.0 M353.1,569.0 L347.8,564.0 M353.1,576.4 L361.1,571.4 M353.1,576.4 L345.1,571.4 M353.1,583.7 L363.2,578.7 M353.1,583.7 L343.0,578.7 M353.1,591.0 L363.2,586.0 M353.1,591.0 L343.0,586.0 M353.1,598.4 L362.5,593.4 M353.1,598.4 L343.6,593.4 M353.1,605.7 L360.4,600.7 M353.1,605.7 L345.8,600.7 M353.1,613.0 L358.3,608.0 M353.1,613.0 L347.9,608.0" stroke="#f4ffd0" stroke-width="0.6" opacity="0.28" fill="none"/>
<line x1="353.1" y1="556.4" x2="353.1" y2="632.3" stroke="#eef6a0" stroke-width="0.8" opacity="0.6"/>
<line x1="354.7" y1="643.7" x2="354.7" y2="641.0" stroke="#000" stroke-width="1.1" />
<text x="353.9" y="662.5" font-size="15.9" text-anchor="middle" fill="#000" >34</text>
<rect x="376.2" y="460.4" width="32.6" height="83.4" fill="#000"/>
<radialGradient id="hl108" cx="0.5" cy="0.42" r="0.6"><stop offset="0" stop-color="#c4d44c"/><stop offset="0.7" stop-color="#c4d44c"/><stop offset="1" stop-color="#a0b836"/></radialGradient>
<path d="M391.9,462.5 L392.4,463.9 L394.0,465.3 L395.0,466.6 L395.9,468.0 L397.0,469.4 L398.2,470.8 L399.1,472.2 L399.5,473.6 L399.8,475.0 L400.5,476.4 L401.6,477.7 L402.6,479.1 L403.1,480.5 L403.6,481.9 L404.8,483.3 L406.2,484.7 L406.9,486.1 L406.2,487.4 L405.4,488.8 L405.2,490.2 L405.5,491.6 L405.4,493.0 L404.8,494.4 L404.6,495.8 L405.3,497.1 L406.1,498.5 L406.2,499.9 L405.4,501.3 L404.5,502.7 L404.2,504.1 L403.9,505.5 L403.1,506.9 L401.8,508.2 L401.0,509.6 L400.9,511.0 L401.0,512.4 L400.7,513.8 L400.0,515.2 L399.4,516.6 L399.1,517.9 L398.7,519.3 L397.9,520.7 L396.8,522.1 L396.0,523.5 L395.5,524.9 L395.1,526.3 L394.4,527.7 L393.8,529.0 L394.7,529.0 L394.0,538.7 L396.2,541.7 L387.7,541.7 L389.8,538.7 L389.2,529.0 L390.0,529.0 L389.3,527.7 L388.5,526.3 L387.6,524.9 L386.9,523.5 L386.5,522.1 L386.1,520.7 L385.5,519.3 L384.8,517.9 L384.3,516.6 L384.2,515.2 L383.9,513.8 L383.2,512.4 L382.0,511.0 L380.9,509.6 L380.4,508.2 L380.2,506.9 L379.7,505.5 L378.8,504.1 L378.1,502.7 L378.2,501.3 L378.8,499.9 L379.1,498.5 L378.6,497.1 L378.0,495.8 L377.8,494.4 L378.1,493.0 L378.1,491.6 L377.5,490.2 L376.6,488.8 L376.2,487.4 L376.9,486.1 L378.3,484.7 L379.1,483.3 L379.5,481.9 L380.1,480.5 L381.2,479.1 L382.4,477.7 L383.1,476.4 L383.4,475.0 L383.7,473.6 L384.5,472.2 L385.6,470.8 L386.7,469.4 L387.7,468.0 L388.6,466.6 L389.8,465.3 L391.4,463.9 L391.9,462.5Z" fill="url(#hl108)" filter="url(#ltex)"/>
<path d="M391.9,479.5 L397.2,474.5 M391.9,479.5 L386.6,474.5 M391.9,486.5 L399.9,481.5 M391.9,486.5 L384.0,481.5 M391.9,493.5 L402.0,488.5 M391.9,493.5 L381.8,488.5 M391.9,500.5 L402.0,495.5 M391.9,500.5 L381.8,495.5 M391.9,507.5 L401.4,502.5 M391.9,507.5 L382.5,502.5 M391.9,514.5 L399.3,509.5 M391.9,514.5 L384.6,509.5 M391.9,521.5 L397.1,516.5 M391.9,521.5 L386.7,516.5" stroke="#f4ffd0" stroke-width="0.6" opacity="0.28" fill="none"/>
<line x1="391.9" y1="467.5" x2="391.9" y2="539.7" stroke="#eef6a0" stroke-width="0.8" opacity="0.6"/>
<rect x="376.2" y="549.2" width="32.6" height="87.3" fill="#000"/>
<radialGradient id="hl208" cx="0.5" cy="0.42" r="0.6"><stop offset="0" stop-color="#aaca7a"/><stop offset="0.7" stop-color="#aaca7a"/><stop offset="1" stop-color="#88aa60"/></radialGradient>
<path d="M392.2,551.4 L392.7,552.8 L394.3,554.3 L395.3,555.7 L396.5,557.2 L397.9,558.6 L399.1,560.1 L399.8,561.5 L400.2,563.0 L400.9,564.4 L401.9,565.9 L402.8,567.3 L403.2,568.8 L403.6,570.3 L404.8,571.7 L406.5,573.2 L407.6,574.6 L407.8,576.1 L407.2,577.5 L407.1,579.0 L407.4,580.4 L407.1,581.9 L406.2,583.3 L405.6,584.8 L406.0,586.2 L407.1,587.7 L407.4,589.1 L406.9,590.6 L406.2,592.0 L406.1,593.5 L406.1,594.9 L405.3,596.4 L403.9,597.8 L402.7,599.3 L402.2,600.7 L402.2,602.2 L401.9,603.6 L401.2,605.1 L400.6,606.5 L400.4,608.0 L400.2,609.4 L399.5,610.9 L398.4,612.3 L397.4,613.8 L396.8,615.2 L396.2,616.7 L395.5,618.1 L394.7,619.6 L394.1,621.0 L394.9,621.0 L394.3,631.3 L396.4,634.3 L387.9,634.3 L390.0,631.3 L389.4,621.0 L390.4,621.0 L389.9,619.6 L389.1,618.1 L388.3,616.7 L387.6,615.2 L387.1,613.8 L386.5,612.3 L385.8,610.9 L385.0,609.4 L384.6,608.0 L384.6,606.5 L384.5,605.1 L384.0,603.6 L383.1,602.2 L382.4,600.7 L382.0,599.3 L381.7,597.8 L380.9,596.4 L379.7,594.9 L378.8,593.5 L378.7,592.0 L379.1,590.6 L379.2,589.1 L378.9,587.7 L378.7,586.2 L379.0,584.8 L379.7,583.3 L379.9,581.9 L379.3,580.4 L378.3,579.0 L377.8,577.5 L378.2,576.1 L379.0,574.6 L379.4,573.2 L379.6,571.7 L380.3,570.3 L381.6,568.8 L383.0,567.3 L383.9,565.9 L384.3,564.4 L384.8,563.0 L385.6,561.5 L386.6,560.1 L387.4,558.6 L388.1,557.2 L389.0,555.7 L390.0,554.3 L391.7,552.8 L392.2,551.4Z" fill="url(#hl208)" filter="url(#ltex)"/>
<path d="M392.2,569.0 L397.5,564.0 M392.2,569.0 L386.8,564.0 M392.2,576.4 L400.2,571.4 M392.2,576.4 L384.1,571.4 M392.2,583.7 L402.4,578.7 M392.2,583.7 L382.0,578.7 M392.2,591.0 L402.4,586.0 M392.2,591.0 L382.0,586.0 M392.2,598.4 L401.7,593.4 M392.2,598.4 L382.6,593.4 M392.2,605.7 L399.6,600.7 M392.2,605.7 L384.8,600.7 M392.2,613.0 L397.4,608.0 M392.2,613.0 L386.9,608.0" stroke="#f4ffd0" stroke-width="0.6" opacity="0.28" fill="none"/>
<line x1="392.2" y1="556.4" x2="392.2" y2="632.3" stroke="#eef6a0" stroke-width="0.8" opacity="0.6"/>
<line x1="394.5" y1="643.7" x2="394.5" y2="641.0" stroke="#000" stroke-width="1.1" />
<text x="393.7" y="662.5" font-size="15.9" text-anchor="middle" fill="#000" >36</text>
<rect x="415.7" y="460.4" width="32.6" height="83.4" fill="#000"/>
<radialGradient id="hl109" cx="0.5" cy="0.42" r="0.6"><stop offset="0" stop-color="#bccc40"/><stop offset="0.7" stop-color="#bccc40"/><stop offset="1" stop-color="#9cb22e"/></radialGradient>
<path d="M431.6,462.5 L432.1,463.9 L433.4,465.3 L434.4,466.6 L435.3,468.0 L436.0,469.4 L436.9,470.8 L438.1,472.2 L439.5,473.6 L440.4,475.0 L440.8,476.4 L441.1,477.7 L441.8,479.1 L442.6,480.5 L442.8,481.9 L442.7,483.3 L443.0,484.7 L444.2,486.1 L445.3,487.4 L445.5,488.8 L445.2,490.2 L445.0,491.6 L445.3,493.0 L445.5,494.4 L444.9,495.8 L443.9,497.1 L443.3,498.5 L443.5,499.9 L443.8,501.3 L443.5,502.7 L442.9,504.1 L442.7,505.5 L442.8,506.9 L442.7,508.2 L441.8,509.6 L440.6,511.0 L439.7,512.4 L439.4,513.8 L439.0,515.2 L438.4,516.6 L437.7,517.9 L437.3,519.3 L437.2,520.7 L436.9,522.1 L436.1,523.5 L435.3,524.9 L434.6,526.3 L434.1,527.7 L433.5,529.0 L434.4,529.0 L433.7,538.7 L435.8,541.7 L427.4,541.7 L429.5,538.7 L428.9,529.0 L429.4,529.0 L428.6,527.7 L428.0,526.3 L427.5,524.9 L427.2,523.5 L426.5,522.1 L425.7,520.7 L424.9,519.3 L424.4,517.9 L423.9,516.6 L423.1,515.2 L421.9,513.8 L420.9,512.4 L420.4,511.0 L420.5,509.6 L420.3,508.2 L419.7,506.9 L419.0,505.5 L418.9,504.1 L419.2,502.7 L419.0,501.3 L418.1,499.9 L416.7,498.5 L415.9,497.1 L416.1,495.8 L416.4,494.4 L416.2,493.0 L415.7,491.6 L415.7,490.2 L416.5,488.8 L417.6,487.4 L418.1,486.1 L418.1,484.7 L418.2,483.3 L418.7,481.9 L419.7,480.5 L420.3,479.1 L420.4,477.7 L420.7,476.4 L421.6,475.0 L423.0,473.6 L424.4,472.2 L425.4,470.8 L426.3,469.4 L427.4,468.0 L428.5,466.6 L429.6,465.3 L431.1,463.9 L431.6,462.5Z" fill="url(#hl109)" filter="url(#ltex)"/>
<path d="M431.6,479.5 L436.9,474.5 M431.6,479.5 L426.3,474.5 M431.6,486.5 L439.6,481.5 M431.6,486.5 L423.6,481.5 M431.6,493.5 L441.7,488.5 M431.6,493.5 L421.5,488.5 M431.6,500.5 L441.7,495.5 M431.6,500.5 L421.5,495.5 M431.6,507.5 L441.1,502.5 M431.6,507.5 L422.2,502.5 M431.6,514.5 L438.9,509.5 M431.6,514.5 L424.3,509.5 M431.6,521.5 L436.8,516.5 M431.6,521.5 L426.4,516.5" stroke="#f4ffd0" stroke-width="0.6" opacity="0.28" fill="none"/>
<line x1="431.6" y1="467.5" x2="431.6" y2="539.7" stroke="#eef6a0" stroke-width="0.8" opacity="0.6"/>
<rect x="415.7" y="549.2" width="32.6" height="87.3" fill="#000"/>
<radialGradient id="hl209" cx="0.5" cy="0.42" r="0.6"><stop offset="0" stop-color="#a4c264"/><stop offset="0.7" stop-color="#a4c264"/><stop offset="1" stop-color="#82a24a"/></radialGradient>
<path d="M432.1,551.4 L432.6,552.8 L434.3,554.3 L435.2,555.7 L436.1,557.2 L437.1,558.6 L438.1,560.1 L438.8,561.5 L439.2,563.0 L439.8,564.4 L441.1,565.9 L442.5,567.3 L443.5,568.8 L444.0,570.3 L444.6,571.7 L445.6,573.2 L446.4,574.6 L446.3,576.1 L445.3,577.5 L444.8,579.0 L445.3,580.4 L445.9,581.9 L445.9,583.3 L445.7,584.8 L446.0,586.2 L446.9,587.7 L447.2,589.1 L446.4,590.6 L445.0,592.0 L444.1,593.5 L443.9,594.9 L443.6,596.4 L442.8,597.8 L442.0,599.3 L441.8,600.7 L442.0,602.2 L442.0,603.6 L441.3,605.1 L440.3,606.5 L439.6,608.0 L439.2,609.4 L438.5,610.9 L437.6,612.3 L436.7,613.8 L436.2,615.2 L435.9,616.7 L435.4,618.1 L434.8,619.6 L434.0,621.0 L434.8,621.0 L434.2,631.3 L436.3,634.3 L427.8,634.3 L429.9,631.3 L429.3,621.0 L430.0,621.0 L429.4,619.6 L428.7,618.1 L427.8,616.7 L426.8,615.2 L426.0,613.8 L425.6,612.3 L425.3,610.9 L424.7,609.4 L424.0,608.0 L423.4,606.5 L423.3,605.1 L423.1,603.6 L422.4,602.2 L421.2,600.7 L420.0,599.3 L419.4,597.8 L419.1,596.4 L418.7,594.9 L417.8,593.5 L417.1,592.0 L417.1,590.6 L417.8,589.1 L418.3,587.7 L418.1,586.2 L417.5,584.8 L417.2,583.3 L417.4,581.9 L417.6,580.4 L417.0,579.0 L416.0,577.5 L415.7,576.1 L416.7,574.6 L418.2,573.2 L419.2,571.7 L419.7,570.3 L420.4,568.8 L421.5,567.3 L422.8,565.9 L423.6,564.4 L424.0,563.0 L424.5,561.5 L425.3,560.1 L426.5,558.6 L427.7,557.2 L428.7,555.7 L429.7,554.3 L431.5,552.8 L432.1,551.4Z" fill="url(#hl209)" filter="url(#ltex)"/>
<path d="M432.1,569.0 L437.5,564.0 M432.1,569.0 L426.6,564.0 M432.1,576.4 L440.3,571.4 M432.1,576.4 L423.8,571.4 M432.1,583.7 L442.5,578.7 M432.1,583.7 L421.6,578.7 M432.1,591.0 L442.5,586.0 M432.1,591.0 L421.6,586.0 M432.1,598.4 L441.8,593.4 M432.1,598.4 L422.3,593.4 M432.1,605.7 L439.6,600.7 M432.1,605.7 L424.5,600.7 M432.1,613.0 L437.4,608.0 M432.1,613.0 L426.7,608.0" stroke="#f4ffd0" stroke-width="0.6" opacity="0.28" fill="none"/>
<line x1="432.1" y1="556.4" x2="432.1" y2="632.3" stroke="#eef6a0" stroke-width="0.8" opacity="0.6"/>
<line x1="434.2" y1="643.7" x2="434.2" y2="641.0" stroke="#000" stroke-width="1.1" />
<text x="433.4" y="662.5" font-size="15.9" text-anchor="middle" fill="#000" >38</text>
<rect x="455.1" y="460.4" width="32.6" height="83.4" fill="#000"/>
<radialGradient id="hl110" cx="0.5" cy="0.42" r="0.6"><stop offset="0" stop-color="#b8d048"/><stop offset="0.7" stop-color="#b8d048"/><stop offset="1" stop-color="#96b432"/></radialGradient>
<path d="M472.1,462.5 L472.5,463.9 L473.8,465.3 L474.6,466.6 L475.2,468.0 L475.9,469.4 L476.9,470.8 L478.1,472.2 L478.9,473.6 L479.5,475.0 L480.2,476.4 L481.2,477.7 L481.9,479.1 L481.9,480.5 L481.7,481.9 L481.9,483.3 L482.8,484.7 L483.6,486.1 L483.7,487.4 L483.5,488.8 L483.9,490.2 L484.7,491.6 L485.0,493.0 L484.4,494.4 L483.6,495.8 L483.3,497.1 L483.3,498.5 L483.1,499.9 L482.4,501.3 L481.9,502.7 L482.0,504.1 L482.4,505.5 L482.3,506.9 L481.7,508.2 L480.8,509.6 L480.3,511.0 L480.0,512.4 L479.4,513.8 L478.5,515.2 L477.8,516.6 L477.5,517.9 L477.4,519.3 L477.1,520.7 L476.5,522.1 L475.9,523.5 L475.5,524.9 L475.0,526.3 L474.4,527.7 L473.7,529.0 L474.8,529.0 L474.2,538.7 L476.3,541.7 L467.9,541.7 L470.0,538.7 L469.3,529.0 L470.3,529.0 L469.6,527.7 L468.9,526.3 L468.4,524.9 L467.9,523.5 L467.3,522.1 L466.6,520.7 L466.3,519.3 L466.1,517.9 L465.9,516.6 L465.3,515.2 L464.4,513.8 L463.6,512.4 L463.2,511.0 L462.8,509.6 L462.1,508.2 L461.1,506.9 L460.4,505.5 L460.4,504.1 L460.8,502.7 L460.9,501.3 L460.4,499.9 L459.8,498.5 L459.8,497.1 L460.2,495.8 L460.2,494.4 L459.5,493.0 L458.6,491.6 L458.3,490.2 L458.7,488.8 L459.2,487.4 L459.3,486.1 L459.5,484.7 L460.1,483.3 L461.3,481.9 L462.5,480.5 L463.1,479.1 L463.2,477.7 L463.5,476.4 L464.1,475.0 L465.0,473.6 L465.8,472.2 L466.4,470.8 L467.1,469.4 L468.2,468.0 L469.3,466.6 L470.3,465.3 L471.7,463.9 L472.1,462.5Z" fill="url(#hl110)" filter="url(#ltex)"/>
<path d="M472.1,479.5 L476.7,474.5 M472.1,479.5 L467.5,474.5 M472.1,486.5 L479.0,481.5 M472.1,486.5 L465.1,481.5 M472.1,493.5 L480.9,488.5 M472.1,493.5 L463.3,488.5 M472.1,500.5 L480.9,495.5 M472.1,500.5 L463.3,495.5 M472.1,507.5 L480.3,502.5 M472.1,507.5 L463.8,502.5 M472.1,514.5 L478.5,509.5 M472.1,514.5 L465.7,509.5 M472.1,521.5 L476.6,516.5 M472.1,521.5 L467.6,516.5" stroke="#f4ffd0" stroke-width="0.6" opacity="0.28" fill="none"/>
<line x1="472.1" y1="467.5" x2="472.1" y2="539.7" stroke="#eef6a0" stroke-width="0.8" opacity="0.6"/>
<rect x="455.1" y="549.2" width="32.6" height="87.3" fill="#000"/>
<radialGradient id="hl210" cx="0.5" cy="0.42" r="0.6"><stop offset="0" stop-color="#bcd294"/><stop offset="0.7" stop-color="#bcd294"/><stop offset="1" stop-color="#9ab478"/></radialGradient>
<path d="M471.2,551.4 L471.7,552.8 L473.2,554.3 L474.3,555.7 L475.3,557.2 L476.2,558.6 L477.5,560.1 L478.8,561.5 L479.6,563.0 L479.9,564.4 L480.2,565.9 L480.9,567.3 L482.0,568.8 L482.6,570.3 L482.9,571.7 L483.5,573.2 L484.9,574.6 L486.4,576.1 L486.6,577.5 L485.9,579.0 L485.3,580.4 L485.3,581.9 L485.5,583.3 L485.0,584.8 L484.2,586.2 L484.1,587.7 L484.6,589.1 L485.3,590.6 L485.2,592.0 L484.4,593.5 L483.8,594.9 L483.6,596.4 L483.3,597.8 L482.2,599.3 L480.9,600.7 L480.1,602.2 L480.0,603.6 L479.9,605.1 L479.4,606.5 L478.7,608.0 L478.3,609.4 L478.0,610.9 L477.6,612.3 L476.7,613.8 L475.7,615.2 L474.9,616.7 L474.4,618.1 L473.8,619.6 L473.1,621.0 L474.0,621.0 L473.3,631.3 L475.5,634.3 L467.0,634.3 L469.1,631.3 L468.5,621.0 L469.2,621.0 L468.4,619.6 L467.5,618.1 L466.8,616.7 L466.4,615.2 L466.1,613.8 L465.6,612.3 L464.8,610.9 L464.1,609.4 L463.7,608.0 L463.4,606.5 L462.7,605.1 L461.5,603.6 L460.3,602.2 L459.7,600.7 L459.6,599.3 L459.4,597.8 L458.7,596.4 L458.0,594.9 L457.9,593.5 L458.4,592.0 L458.6,590.6 L458.1,589.1 L457.0,587.7 L456.4,586.2 L456.4,584.8 L456.7,583.3 L456.4,581.9 L455.6,580.4 L455.3,579.0 L455.9,577.5 L457.0,576.1 L458.1,574.6 L458.5,573.2 L458.7,571.7 L459.5,570.3 L460.5,568.8 L461.3,567.3 L461.5,565.9 L461.7,564.4 L462.4,563.0 L463.6,561.5 L464.9,560.1 L466.0,558.6 L466.9,557.2 L468.0,555.7 L469.2,554.3 L470.7,552.8 L471.2,551.4Z" fill="url(#hl210)" filter="url(#ltex)"/>
<path d="M471.2,569.0 L476.7,564.0 M471.2,569.0 L465.8,564.0 M471.2,576.4 L479.4,571.4 M471.2,576.4 L463.1,571.4 M471.2,583.7 L481.5,578.7 M471.2,583.7 L460.9,578.7 M471.2,591.0 L481.5,586.0 M471.2,591.0 L460.9,586.0 M471.2,598.4 L480.9,593.4 M471.2,598.4 L461.5,593.4 M471.2,605.7 L478.7,600.7 M471.2,605.7 L463.7,600.7 M471.2,613.0 L476.5,608.0 M471.2,613.0 L465.9,608.0" stroke="#f4ffd0" stroke-width="0.6" opacity="0.28" fill="none"/>
<line x1="471.2" y1="556.4" x2="471.2" y2="632.3" stroke="#eef6a0" stroke-width="0.8" opacity="0.6"/>
<line x1="473.9" y1="643.7" x2="473.9" y2="641.0" stroke="#000" stroke-width="1.1" />
<text x="473.1" y="662.5" font-size="15.9" text-anchor="middle" fill="#000" >40</text>
<line x1="60.5" y1="643.7" x2="492.0" y2="643.7" stroke="#000" stroke-width="1.3" />
<path d="M490.5,639.0 L501.2,643.7 L490.5,648.4 L493.5,643.7 Z" fill="#000"/>
<text x="276.0" y="681.0" font-size="15.8" text-anchor="middle" fill="#000" >DAT</text>
<text x="492.0" y="449.5" font-size="26" text-anchor="start" font-weight="bold" fill="#000" >i</text>
<line x1="562.3" y1="451.6" x2="562.3" y2="645.5" stroke="#000" stroke-width="1.3" />
<line x1="561.7" y1="644.9" x2="770.8" y2="644.9" stroke="#000" stroke-width="1.3" />
<line x1="559.8" y1="459.9" x2="562.3" y2="459.9" stroke="#000" stroke-width="1.1" />
<text x="559.3" y="464.3" font-size="14.5" text-anchor="end" fill="#000" >1.00</text>
<line x1="559.8" y1="509.9" x2="562.3" y2="509.9" stroke="#000" stroke-width="1.1" />
<text x="559.3" y="514.3" font-size="14.5" text-anchor="end" fill="#000" >0.75</text>
<line x1="559.8" y1="560.5" x2="562.3" y2="560.5" stroke="#000" stroke-width="1.1" />
<text x="559.3" y="564.9" font-size="14.5" text-anchor="end" fill="#000" >0.50</text>
<line x1="559.8" y1="610.8" x2="562.3" y2="610.8" stroke="#000" stroke-width="1.1" />
<text x="559.3" y="615.2" font-size="14.5" text-anchor="end" fill="#000" >0.25</text>
<line x1="573.5" y1="644.9" x2="573.5" y2="647.5" stroke="#000" stroke-width="1.1" />
<line x1="592.2" y1="644.9" x2="592.2" y2="647.5" stroke="#000" stroke-width="1.1" />
<line x1="610.8" y1="644.9" x2="610.8" y2="647.5" stroke="#000" stroke-width="1.1" />
<line x1="629.5" y1="644.9" x2="629.5" y2="647.5" stroke="#000" stroke-width="1.1" />
<line x1="648.2" y1="644.9" x2="648.2" y2="647.5" stroke="#000" stroke-width="1.1" />
<line x1="666.9" y1="644.9" x2="666.9" y2="647.5" stroke="#000" stroke-width="1.1" />
<line x1="685.5" y1="644.9" x2="685.5" y2="647.5" stroke="#000" stroke-width="1.1" />
<line x1="704.2" y1="644.9" x2="704.2" y2="647.5" stroke="#000" stroke-width="1.1" />
<line x1="722.9" y1="644.9" x2="722.9" y2="647.5" stroke="#000" stroke-width="1.1" />
<line x1="741.5" y1="644.9" x2="741.5" y2="647.5" stroke="#000" stroke-width="1.1" />
<line x1="760.2" y1="644.9" x2="760.2" y2="647.5" stroke="#000" stroke-width="1.1" />
<text x="573.5" y="662.2" font-size="14.5" text-anchor="middle" fill="#000" >20</text>
<text x="666.9" y="662.2" font-size="14.5" text-anchor="middle" fill="#000" >30</text>
<text x="760.2" y="662.2" font-size="14.5" text-anchor="middle" fill="#000" >40</text>
<text x="668.3" y="684.6" font-size="14.6" text-anchor="middle" fill="#000" >DAT</text>
<text transform="translate(523.0,548.5) rotate(-90)" font-size="14.8" text-anchor="middle">SPAD/SLW (650/940 nm.g<tspan font-size="9" dy="-6">-1</tspan><tspan dy="6">.m</tspan><tspan font-size="9" dy="-6">2</tspan><tspan dy="6">)</tspan></text>
<polyline points="573.5,460.5 592.2,477.5 610.8,490.3 629.5,504.0 648.2,504.5 666.9,497.3 685.5,502.1 704.2,536.7 722.9,570.5 741.5,571.2 760.2,574.6" fill="none" stroke="#1e8cc4" stroke-width="1.6"/>
<circle cx="573.5" cy="460.5" r="2.00" fill="#1e8cc4" />
<line x1="592.2" y1="472.5" x2="592.2" y2="482.5" stroke="#1e8cc4" stroke-width="1.3" />
<line x1="590.6" y1="472.5" x2="593.8" y2="472.5" stroke="#1e8cc4" stroke-width="1.0" />
<line x1="590.6" y1="482.5" x2="593.8" y2="482.5" stroke="#1e8cc4" stroke-width="1.0" />
<circle cx="592.2" cy="477.5" r="2.00" fill="#1e8cc4" />
<line x1="610.8" y1="488.3" x2="610.8" y2="492.3" stroke="#1e8cc4" stroke-width="1.3" />
<line x1="609.2" y1="488.3" x2="612.4" y2="488.3" stroke="#1e8cc4" stroke-width="1.0" />
<line x1="609.2" y1="492.3" x2="612.4" y2="492.3" stroke="#1e8cc4" stroke-width="1.0" />
<circle cx="610.8" cy="490.3" r="2.00" fill="#1e8cc4" />
<line x1="629.5" y1="501.5" x2="629.5" y2="506.5" stroke="#1e8cc4" stroke-width="1.3" />
<line x1="627.9" y1="501.5" x2="631.1" y2="501.5" stroke="#1e8cc4" stroke-width="1.0" />
<line x1="627.9" y1="506.5" x2="631.1" y2="506.5" stroke="#1e8cc4" stroke-width="1.0" />
<circle cx="629.5" cy="504.0" r="2.00" fill="#1e8cc4" />
<line x1="648.2" y1="503.0" x2="648.2" y2="506.0" stroke="#1e8cc4" stroke-width="1.3" />
<line x1="646.6" y1="503.0" x2="649.8" y2="503.0" stroke="#1e8cc4" stroke-width="1.0" />
<line x1="646.6" y1="506.0" x2="649.8" y2="506.0" stroke="#1e8cc4" stroke-width="1.0" />
<circle cx="648.2" cy="504.5" r="2.00" fill="#1e8cc4" />
<circle cx="666.9" cy="497.3" r="2.00" fill="#1e8cc4" />
<circle cx="685.5" cy="502.1" r="2.00" fill="#1e8cc4" />
<circle cx="704.2" cy="536.7" r="2.00" fill="#1e8cc4" />
<line x1="722.9" y1="564.5" x2="722.9" y2="576.5" stroke="#1e8cc4" stroke-width="1.3" />
<line x1="721.3" y1="564.5" x2="724.5" y2="564.5" stroke="#1e8cc4" stroke-width="1.0" />
<line x1="721.3" y1="576.5" x2="724.5" y2="576.5" stroke="#1e8cc4" stroke-width="1.0" />
<circle cx="722.9" cy="570.5" r="2.00" fill="#1e8cc4" />
<line x1="741.5" y1="565.2" x2="741.5" y2="577.2" stroke="#1e8cc4" stroke-width="1.3" />
<line x1="739.9" y1="565.2" x2="743.1" y2="565.2" stroke="#1e8cc4" stroke-width="1.0" />
<line x1="739.9" y1="577.2" x2="743.1" y2="577.2" stroke="#1e8cc4" stroke-width="1.0" />
<circle cx="741.5" cy="571.2" r="2.00" fill="#1e8cc4" />
<line x1="760.2" y1="572.6" x2="760.2" y2="576.6" stroke="#1e8cc4" stroke-width="1.3" />
<line x1="758.6" y1="572.6" x2="761.8" y2="572.6" stroke="#1e8cc4" stroke-width="1.0" />
<line x1="758.6" y1="576.6" x2="761.8" y2="576.6" stroke="#1e8cc4" stroke-width="1.0" />
<circle cx="760.2" cy="574.6" r="2.00" fill="#1e8cc4" />
<polyline points="573.5,509.4 592.2,533.8 610.8,554.8 629.5,565.0 648.2,570.0 666.9,584.3 685.5,582.1 704.2,582.6 722.9,599.7 741.5,609.2 760.2,628.0" fill="none" stroke="#e5444a" stroke-width="1.6"/>
<line x1="573.5" y1="506.9" x2="573.5" y2="511.9" stroke="#e5444a" stroke-width="1.3" />
<line x1="571.9" y1="506.9" x2="575.1" y2="506.9" stroke="#e5444a" stroke-width="1.0" />
<line x1="571.9" y1="511.9" x2="575.1" y2="511.9" stroke="#e5444a" stroke-width="1.0" />
<circle cx="573.5" cy="509.4" r="2.00" fill="#e5444a" />
<line x1="592.2" y1="526.3" x2="592.2" y2="541.3" stroke="#e5444a" stroke-width="1.3" />
<line x1="590.6" y1="526.3" x2="593.8" y2="526.3" stroke="#e5444a" stroke-width="1.0" />
<line x1="590.6" y1="541.3" x2="593.8" y2="541.3" stroke="#e5444a" stroke-width="1.0" />
<circle cx="592.2" cy="533.8" r="2.00" fill="#e5444a" />
<line x1="610.8" y1="552.3" x2="610.8" y2="557.3" stroke="#e5444a" stroke-width="1.3" />
<line x1="609.2" y1="552.3" x2="612.4" y2="552.3" stroke="#e5444a" stroke-width="1.0" />
<line x1="609.2" y1="557.3" x2="612.4" y2="557.3" stroke="#e5444a" stroke-width="1.0" />
<circle cx="610.8" cy="554.8" r="2.00" fill="#e5444a" />
<circle cx="629.5" cy="565.0" r="2.00" fill="#e5444a" />
<line x1="648.2" y1="568.5" x2="648.2" y2="571.5" stroke="#e5444a" stroke-width="1.3" />
<line x1="646.6" y1="568.5" x2="649.8" y2="568.5" stroke="#e5444a" stroke-width="1.0" />
<line x1="646.6" y1="571.5" x2="649.8" y2="571.5" stroke="#e5444a" stroke-width="1.0" />
<circle cx="648.2" cy="570.0" r="2.00" fill="#e5444a" />
<line x1="666.9" y1="582.8" x2="666.9" y2="585.8" stroke="#e5444a" stroke-width="1.3" />
<line x1="665.2" y1="582.8" x2="668.5" y2="582.8" stroke="#e5444a" stroke-width="1.0" />
<line x1="665.2" y1="585.8" x2="668.5" y2="585.8" stroke="#e5444a" stroke-width="1.0" />
<circle cx="666.9" cy="584.3" r="2.00" fill="#e5444a" />
<circle cx="685.5" cy="582.1" r="2.00" fill="#e5444a" />
<line x1="704.2" y1="581.1" x2="704.2" y2="584.1" stroke="#e5444a" stroke-width="1.3" />
<line x1="702.6" y1="581.1" x2="705.8" y2="581.1" stroke="#e5444a" stroke-width="1.0" />
<line x1="702.6" y1="584.1" x2="705.8" y2="584.1" stroke="#e5444a" stroke-width="1.0" />
<circle cx="704.2" cy="582.6" r="2.00" fill="#e5444a" />
<circle cx="722.9" cy="599.7" r="2.00" fill="#e5444a" />
<line x1="741.5" y1="606.7" x2="741.5" y2="611.7" stroke="#e5444a" stroke-width="1.3" />
<line x1="739.9" y1="606.7" x2="743.1" y2="606.7" stroke="#e5444a" stroke-width="1.0" />
<line x1="739.9" y1="611.7" x2="743.1" y2="611.7" stroke="#e5444a" stroke-width="1.0" />
<circle cx="741.5" cy="609.2" r="2.00" fill="#e5444a" />
<line x1="760.2" y1="619.5" x2="760.2" y2="636.5" stroke="#e5444a" stroke-width="1.3" />
<line x1="758.6" y1="619.5" x2="761.8" y2="619.5" stroke="#e5444a" stroke-width="1.0" />
<line x1="758.6" y1="636.5" x2="761.8" y2="636.5" stroke="#e5444a" stroke-width="1.0" />
<circle cx="760.2" cy="628.0" r="2.00" fill="#e5444a" />
<line x1="719.0" y1="462.5" x2="734.0" y2="462.5" stroke="#1e8cc4" stroke-width="1.8" />
<circle cx="726.6" cy="462.5" r="2.80" fill="#1e8cc4" />
<line x1="719.0" y1="481.1" x2="734.0" y2="481.1" stroke="#e5444a" stroke-width="1.8" />
<circle cx="726.6" cy="481.1" r="2.80" fill="#e5444a" />
<text x="740.1" y="467.6" font-size="14.5" text-anchor="start" fill="#000" >LF</text>
<text x="740.1" y="486.2" font-size="14.5" text-anchor="start" fill="#000" >HM</text>
<text x="2.0" y="702.0" font-size="26" text-anchor="start" font-weight="bold" fill="#000" >j</text>
<ellipse cx="193.0" cy="909.2" rx="41.5" ry="102.8" transform="rotate(-30.0 193.0 909.2)" fill="#f58719" fill-opacity="0.1"/>
<ellipse cx="251.9" cy="861.5" rx="30.5" ry="142.2" transform="rotate(-20.0 251.9 861.5)" fill="#0d8a82" fill-opacity="0.12"/>
<rect x="104.8" y="701.8" width="252.6" height="343.4" fill="none" stroke="#333" stroke-width="1.0"/>
<line x1="233.5" y1="701.8" x2="233.5" y2="1045.2" stroke="#111" stroke-width="1.5" stroke-dasharray="5.5,5.6"/>
<line x1="104.8" y1="872.6" x2="357.4" y2="872.6" stroke="#111" stroke-width="1.5" stroke-dasharray="5.5,5.6" stroke-dashoffset="0.2"/>
<line x1="97.0" y1="718.3" x2="100.5" y2="718.3" stroke="#000" stroke-width="1.0" />
<text x="93.8" y="723.8" font-size="15.7" text-anchor="end" fill="#000" >0.04</text>
<line x1="97.0" y1="795.4" x2="100.5" y2="795.4" stroke="#000" stroke-width="1.0" />
<text x="93.8" y="800.9" font-size="15.7" text-anchor="end" fill="#000" >0.02</text>
<line x1="97.0" y1="872.6" x2="100.5" y2="872.6" stroke="#000" stroke-width="1.0" />
<text x="93.8" y="878.1" font-size="15.7" text-anchor="end" fill="#000" >0.00</text>
<line x1="97.0" y1="949.8" x2="100.5" y2="949.8" stroke="#000" stroke-width="1.0" />
<text x="93.8" y="955.3" font-size="15.7" text-anchor="end" fill="#000" >−0.02</text>
<line x1="97.0" y1="1027.0" x2="100.5" y2="1027.0" stroke="#000" stroke-width="1.0" />
<text x="93.8" y="1032.5" font-size="15.7" text-anchor="end" fill="#000" >−0.04</text>
<line x1="139.1" y1="1045.2" x2="139.1" y2="1048.7" stroke="#000" stroke-width="1.0" />
<text x="139.1" y="1065.0" font-size="15.7" text-anchor="middle" fill="#000" >−0.2</text>
<line x1="214.0" y1="1045.2" x2="214.0" y2="1048.7" stroke="#000" stroke-width="1.0" />
<text x="214.0" y="1065.0" font-size="15.7" text-anchor="middle" fill="#000" >0.0</text>
<line x1="288.9" y1="1045.2" x2="288.9" y2="1048.7" stroke="#000" stroke-width="1.0" />
<text x="288.9" y="1065.0" font-size="15.7" text-anchor="middle" fill="#000" >0.2</text>
<text x="235.5" y="1091.3" font-size="15.8" text-anchor="middle" fill="#000" >PC1 (96.3%)</text>
<text transform="translate(43.4,865.7) rotate(-90)" font-size="15.8" text-anchor="middle" fill="#000">PC2 (1.4%)</text>
<rect x="275.3" y="714.0" width="22.7" height="22.8" fill="#fef3e8"/>
<rect x="275.3" y="738.8" width="22.7" height="22.8" fill="#e2f1f0"/>
<circle cx="286.6" cy="725.4" r="2.90" fill="#f9a344" />
<path d="M286.6,745.8 L290.4,752.5 L282.8,752.5 Z" fill="#118d89"/>
<text x="307.6" y="730.1" font-size="15.5" text-anchor="start" fill="#000" >LF</text>
<text x="307.3" y="755.5" font-size="15.5" text-anchor="start" fill="#000" >HM</text>
<line x1="163.0" y1="879.0" x2="175.8" y2="882.9" stroke="#f9a344" stroke-width="0.6" />
<line x1="163.0" y1="896.0" x2="172.9" y2="888.7" stroke="#f9a344" stroke-width="0.6" />
<line x1="271.0" y1="879.0" x2="261.5" y2="882.9" stroke="#118d89" stroke-width="0.6" />
<line x1="272.0" y1="900.0" x2="262.5" y2="896.7" stroke="#118d89" stroke-width="0.6" />
<line x1="265.7" y1="922.0" x2="265.7" y2="916.8" stroke="#118d89" stroke-width="0.6" />
<line x1="247.0" y1="896.0" x2="252.5" y2="892.8" stroke="#118d89" stroke-width="0.6" />
<circle cx="158.2" cy="864.0" r="2.00" fill="#f9a344" />
<text x="148.0" y="859.1" font-size="17.9" text-anchor="middle" fill="#f9a344" >20</text>
<circle cx="179.9" cy="875.2" r="2.00" fill="#f9a344" />
<text x="191.1" y="869.2" font-size="17.9" text-anchor="middle" fill="#f9a344" >22</text>
<circle cx="175.8" cy="882.9" r="2.00" fill="#f9a344" />
<text x="156.9" y="886.9" font-size="17.9" text-anchor="middle" fill="#f9a344" >24</text>
<circle cx="172.9" cy="888.7" r="2.00" fill="#f9a344" />
<text x="156.9" y="906.1" font-size="17.9" text-anchor="middle" fill="#f9a344" >26</text>
<circle cx="201.7" cy="880.0" r="2.00" fill="#f9a344" />
<text x="215.8" y="886.9" font-size="17.9" text-anchor="middle" fill="#f9a344" >28</text>
<circle cx="207.1" cy="901.5" r="2.00" fill="#f9a344" />
<text x="220.9" y="908.6" font-size="17.9" text-anchor="middle" fill="#f9a344" >30</text>
<circle cx="168.1" cy="924.5" r="2.00" fill="#f9a344" />
<text x="154.4" y="935.8" font-size="17.9" text-anchor="middle" fill="#f9a344" >32</text>
<circle cx="192.1" cy="922.9" r="2.00" fill="#f9a344" />
<text x="205.5" y="931.0" font-size="17.9" text-anchor="middle" fill="#f9a344" >34</text>
<circle cx="225.7" cy="925.5" r="2.00" fill="#f9a344" />
<text x="239.1" y="935.8" font-size="17.9" text-anchor="middle" fill="#f9a344" >36</text>
<circle cx="202.3" cy="958.1" r="2.00" fill="#f9a344" />
<text x="190.2" y="971.6" font-size="17.9" text-anchor="middle" fill="#f9a344" >38</text>
<circle cx="224.7" cy="966.7" r="2.00" fill="#f9a344" />
<text x="237.5" y="980.6" font-size="17.9" text-anchor="middle" fill="#f9a344" >40</text>
<path d="M215.1,773.4 L216.9,777.7 L213.3,777.7 Z" fill="#118d89"/>
<text x="208.7" y="771.8" font-size="17.9" text-anchor="middle" fill="#118d89" >20</text>
<path d="M224.7,808.6 L226.5,812.9 L222.9,812.9 Z" fill="#118d89"/>
<text x="236.9" y="810.1" font-size="17.9" text-anchor="middle" fill="#118d89" >22</text>
<path d="M234.3,827.8 L236.1,832.1 L232.5,832.1 Z" fill="#118d89"/>
<text x="249.0" y="833.5" font-size="17.9" text-anchor="middle" fill="#118d89" >24</text>
<path d="M236.9,854.0 L238.7,858.3 L235.1,858.3 Z" fill="#118d89"/>
<text x="251.9" y="859.1" font-size="17.9" text-anchor="middle" fill="#118d89" >26</text>
<path d="M242.3,874.1 L244.1,878.4 L240.5,878.4 Z" fill="#118d89"/>
<text x="256.1" y="875.0" font-size="17.9" text-anchor="middle" fill="#118d89" >28</text>
<path d="M261.5,880.2 L263.3,884.5 L259.7,884.5 Z" fill="#118d89"/>
<text x="280.7" y="886.2" font-size="17.9" text-anchor="middle" fill="#118d89" >30</text>
<path d="M252.5,890.1 L254.3,894.4 L250.7,894.4 Z" fill="#118d89"/>
<text x="247.1" y="910.9" font-size="17.9" text-anchor="middle" fill="#118d89" >32</text>
<path d="M262.5,894.0 L264.3,898.3 L260.7,898.3 Z" fill="#118d89"/>
<text x="281.6" y="909.3" font-size="17.9" text-anchor="middle" fill="#118d89" >34</text>
<path d="M265.7,914.1 L267.5,918.4 L263.9,918.4 Z" fill="#118d89"/>
<text x="265.7" y="938.1" font-size="17.9" text-anchor="middle" fill="#118d89" >36</text>
<path d="M286.1,921.2 L287.9,925.5 L284.3,925.5 Z" fill="#118d89"/>
<text x="301.5" y="933.9" font-size="17.9" text-anchor="middle" fill="#118d89" >38</text>
<path d="M286.1,953.1 L287.9,957.4 L284.3,957.4 Z" fill="#118d89"/>
<text x="298.9" y="965.2" font-size="17.9" text-anchor="middle" fill="#118d89" >40</text>
<text x="423.5" y="708.4" font-size="26" text-anchor="start" font-weight="bold" fill="#000" >k</text>
<ellipse cx="589.9" cy="865.3" rx="64.2" ry="170.3" transform="rotate(-38.0 589.9 865.3)" fill="#f58719" fill-opacity="0.1"/>
<ellipse cx="662.5" cy="811.7" rx="31.0" ry="105.5" transform="rotate(-31.0 662.5 811.7)" fill="#0d8a82" fill-opacity="0.12"/>
<rect x="463.1" y="702.7" width="271.7" height="341.1" fill="none" stroke="#333" stroke-width="1.0"/>
<line x1="626.8" y1="702.7" x2="626.8" y2="1043.8" stroke="#111" stroke-width="1.5" stroke-dasharray="5.5,5.6" stroke-dashoffset="9.9"/>
<line x1="463.1" y1="838.4" x2="734.8" y2="838.4" stroke="#111" stroke-width="1.5" stroke-dasharray="5.5,5.6" stroke-dashoffset="3.15"/>
<line x1="457.5" y1="731.2" x2="461.0" y2="731.2" stroke="#000" stroke-width="1.0" />
<text x="453.2" y="736.7" font-size="15.7" text-anchor="end" fill="#000" >8</text>
<line x1="457.5" y1="812.6" x2="461.0" y2="812.6" stroke="#000" stroke-width="1.0" />
<text x="453.2" y="818.1" font-size="15.7" text-anchor="end" fill="#000" >4</text>
<line x1="457.5" y1="894.1" x2="461.0" y2="894.1" stroke="#000" stroke-width="1.0" />
<text x="453.2" y="899.6" font-size="15.7" text-anchor="end" fill="#000" >0</text>
<line x1="457.5" y1="976.3" x2="461.0" y2="976.3" stroke="#000" stroke-width="1.0" />
<text x="453.2" y="981.8" font-size="15.7" text-anchor="end" fill="#000" >−4</text>
<line x1="500.3" y1="1043.8" x2="500.3" y2="1047.3" stroke="#000" stroke-width="1.0" />
<text x="500.3" y="1064.5" font-size="15.7" text-anchor="middle" fill="#000" >−10</text>
<line x1="556.9" y1="1043.8" x2="556.9" y2="1047.3" stroke="#000" stroke-width="1.0" />
<text x="556.9" y="1064.5" font-size="15.7" text-anchor="middle" fill="#000" >−5</text>
<line x1="613.6" y1="1043.8" x2="613.6" y2="1047.3" stroke="#000" stroke-width="1.0" />
<text x="613.6" y="1064.5" font-size="15.7" text-anchor="middle" fill="#000" >0</text>
<line x1="670.2" y1="1043.8" x2="670.2" y2="1047.3" stroke="#000" stroke-width="1.0" />
<text x="670.2" y="1064.5" font-size="15.7" text-anchor="middle" fill="#000" >5</text>
<line x1="726.9" y1="1043.8" x2="726.9" y2="1047.3" stroke="#000" stroke-width="1.0" />
<text x="726.9" y="1064.5" font-size="15.7" text-anchor="middle" fill="#000" >10</text>
<text x="615.5" y="1091.1" font-size="15.8" text-anchor="middle" fill="#000" >PC1 (58.4%)</text>
<text transform="translate(424.0,861.9) rotate(-90)" font-size="15.8" text-anchor="middle" fill="#000">PC2 (33.3%)</text>
<rect x="664.7" y="707.3" width="22.7" height="22.8" fill="#fef3e8"/>
<rect x="664.7" y="732.1" width="22.7" height="22.8" fill="#e2f1f0"/>
<circle cx="676.0" cy="718.7" r="2.90" fill="#f9a344" />
<path d="M676.0,739.1 L679.8,745.8 L672.2,745.8 Z" fill="#118d89"/>
<text x="697.0" y="723.4" font-size="15.5" text-anchor="start" fill="#000" >LF</text>
<text x="696.7" y="748.8" font-size="15.5" text-anchor="start" fill="#000" >HM</text>
<line x1="608.6" y1="919.9" x2="603.0" y2="926.0" stroke="#f9a344" stroke-width="0.6" />
<line x1="617.4" y1="917.6" x2="624.0" y2="914.0" stroke="#f9a344" stroke-width="0.6" />
<line x1="644.6" y1="923.7" x2="652.0" y2="930.0" stroke="#f9a344" stroke-width="0.6" />
<line x1="678.7" y1="830.4" x2="698.0" y2="794.0" stroke="#118d89" stroke-width="0.6" />
<line x1="685.6" y1="831.6" x2="700.0" y2="813.0" stroke="#118d89" stroke-width="0.6" />
<line x1="693.1" y1="832.3" x2="702.0" y2="827.0" stroke="#118d89" stroke-width="0.6" />
<line x1="665.9" y1="834.6" x2="684.0" y2="850.0" stroke="#118d89" stroke-width="0.6" />
<line x1="671.2" y1="854.3" x2="676.0" y2="861.0" stroke="#118d89" stroke-width="0.6" />
<circle cx="510.5" cy="745.6" r="1.90" fill="#f9a344" />
<text x="526.4" y="743.0" font-size="17.9" text-anchor="middle" fill="#f9a344" >22</text>
<circle cx="593.5" cy="827.0" r="1.90" fill="#f9a344" />
<text x="585.1" y="823.4" font-size="17.9" text-anchor="middle" fill="#f9a344" >24</text>
<circle cx="552.2" cy="842.9" r="1.90" fill="#f9a344" />
<text x="543.5" y="835.1" font-size="17.9" text-anchor="middle" fill="#f9a344" >32</text>
<circle cx="568.9" cy="861.1" r="1.90" fill="#f9a344" />
<text x="583.3" y="869.2" font-size="17.9" text-anchor="middle" fill="#f9a344" >26</text>
<circle cx="539.7" cy="868.7" r="1.90" fill="#f9a344" />
<text x="552.9" y="888.2" font-size="17.9" text-anchor="middle" fill="#f9a344" >20</text>
<circle cx="625.7" cy="841.0" r="1.90" fill="#f9a344" />
<text x="637.4" y="856.7" font-size="17.9" text-anchor="middle" fill="#f9a344" >28</text>
<circle cx="625.0" cy="879.7" r="1.90" fill="#f9a344" />
<text x="640.1" y="878.3" font-size="17.9" text-anchor="middle" fill="#f9a344" >30</text>
<circle cx="626.8" cy="895.2" r="1.90" fill="#f9a344" />
<text x="643.9" y="897.6" font-size="17.9" text-anchor="middle" fill="#f9a344" >34</text>
<circle cx="617.4" cy="917.6" r="1.90" fill="#f9a344" />
<text x="634.4" y="920.0" font-size="17.9" text-anchor="middle" fill="#f9a344" >36</text>
<circle cx="608.6" cy="919.9" r="1.90" fill="#f9a344" />
<text x="597.3" y="940.1" font-size="17.9" text-anchor="middle" fill="#f9a344" >40</text>
<circle cx="644.6" cy="923.7" r="1.90" fill="#f9a344" />
<text x="662.1" y="940.1" font-size="17.9" text-anchor="middle" fill="#f9a344" >38</text>
<path d="M616.6,725.8 L618.4,730.1 L614.8,730.1 Z" fill="#118d89"/>
<text x="600.3" y="729.0" font-size="17.9" text-anchor="middle" fill="#118d89" >40</text>
<path d="M637.1,791.0 L638.9,795.3 L635.3,795.3 Z" fill="#118d89"/>
<text x="625.7" y="794.2" font-size="17.9" text-anchor="middle" fill="#118d89" >24</text>
<path d="M648.8,788.3 L650.6,792.6 L647.0,792.6 Z" fill="#118d89"/>
<text x="662.1" y="787.8" font-size="17.9" text-anchor="middle" fill="#118d89" >22</text>
<path d="M663.6,800.5 L665.4,804.8 L661.8,804.8 Z" fill="#118d89"/>
<text x="678.7" y="808.2" font-size="17.9" text-anchor="middle" fill="#118d89" >28</text>
<path d="M653.4,811.1 L655.2,815.4 L651.6,815.4 Z" fill="#118d89"/>
<text x="640.1" y="821.5" font-size="17.9" text-anchor="middle" fill="#118d89" >26</text>
<path d="M665.5,820.2 L667.3,824.5 L663.7,824.5 Z" fill="#118d89"/>
<text x="651.5" y="836.6" font-size="17.9" text-anchor="middle" fill="#118d89" >20</text>
<path d="M678.7,827.7 L680.5,832.0 L676.9,832.0 Z" fill="#118d89"/>
<text x="702.6" y="793.1" font-size="17.9" text-anchor="middle" fill="#118d89" >30</text>
<path d="M685.6,828.9 L687.4,833.2 L683.8,833.2 Z" fill="#118d89"/>
<text x="705.3" y="813.9" font-size="17.9" text-anchor="middle" fill="#118d89" >32</text>
<path d="M693.1,829.6 L694.9,833.9 L691.3,833.9 Z" fill="#118d89"/>
<text x="708.3" y="830.2" font-size="17.9" text-anchor="middle" fill="#118d89" >34</text>
<path d="M665.9,831.9 L667.7,836.2 L664.1,836.2 Z" fill="#118d89"/>
<text x="693.9" y="859.4" font-size="17.9" text-anchor="middle" fill="#118d89" >38</text>
<path d="M671.2,851.6 L673.0,855.9 L669.4,855.9 Z" fill="#118d89"/>
<text x="683.7" y="874.5" font-size="17.9" text-anchor="middle" fill="#118d89" >36</text>
<text x="779.5" y="20.8" font-size="26" text-anchor="start" font-weight="bold" fill="#000" >l</text>
<text x="812.5" y="22.5" font-size="20.0" text-anchor="start" fill="#000" >-log(p.adjust)</text>
<circle cx="829.2" cy="41.3" r="2.40" fill="#000" />
<text x="834.3" y="46.0" font-size="12.8" text-anchor="start" fill="#000" >10</text>
<circle cx="860.0" cy="41.3" r="3.70" fill="#000" />
<text x="865.1" y="46.0" font-size="12.8" text-anchor="start" fill="#000" >30</text>
<circle cx="890.3" cy="41.3" r="5.00" fill="#000" />
<text x="895.8" y="46.0" font-size="12.8" text-anchor="start" fill="#000" >50</text>
<text x="1000.5" y="33.0" font-size="18.8" text-anchor="start" fill="#000" >Fold</text>
<defs><linearGradient id="foldg" x1="0" y1="0" x2="1" y2="0"><stop offset="0" stop-color="#3a1a3e"/><stop offset="0.35" stop-color="#7a3846"/><stop offset="0.7" stop-color="#c46a3e"/><stop offset="1" stop-color="#f8a43c"/></linearGradient></defs>
<rect x="1042.0" y="20.7" width="59.0" height="11.4" fill="url(#foldg)"/>
<line x1="1058.8" y1="20.7" x2="1058.8" y2="23.0" stroke="#fff" stroke-width="0.8" />
<line x1="1058.8" y1="29.8" x2="1058.8" y2="32.1" stroke="#fff" stroke-width="0.8" />
<line x1="1080.5" y1="20.7" x2="1080.5" y2="23.0" stroke="#fff" stroke-width="0.8" />
<line x1="1080.5" y1="29.8" x2="1080.5" y2="32.1" stroke="#fff" stroke-width="0.8" />
<text x="1041.5" y="44.5" font-size="12.8" text-anchor="middle" fill="#000" >3</text>
<text x="1058.8" y="44.5" font-size="12.8" text-anchor="middle" fill="#000" >4</text>
<text x="1080.3" y="44.5" font-size="12.8" text-anchor="middle" fill="#000" >5</text>
<text x="1099.5" y="44.5" font-size="12.8" text-anchor="middle" fill="#000" >6</text>
<rect x="782.5" y="65.2" width="75.2" height="437.2" fill="#fff"/>
<line x1="779.5" y1="72.9" x2="857.7" y2="72.9" stroke="#ebebeb" stroke-width="1.0" />
<line x1="779.5" y1="85.3" x2="857.7" y2="85.3" stroke="#ebebeb" stroke-width="1.0" />
<line x1="779.5" y1="97.7" x2="857.7" y2="97.7" stroke="#ebebeb" stroke-width="1.0" />
<line x1="779.5" y1="110.2" x2="857.7" y2="110.2" stroke="#ebebeb" stroke-width="1.0" />
<line x1="779.5" y1="122.6" x2="857.7" y2="122.6" stroke="#ebebeb" stroke-width="1.0" />
<line x1="779.5" y1="135.0" x2="857.7" y2="135.0" stroke="#ebebeb" stroke-width="1.0" />
<line x1="779.5" y1="147.4" x2="857.7" y2="147.4" stroke="#ebebeb" stroke-width="1.0" />
<line x1="779.5" y1="159.8" x2="857.7" y2="159.8" stroke="#ebebeb" stroke-width="1.0" />
<line x1="779.5" y1="172.3" x2="857.7" y2="172.3" stroke="#ebebeb" stroke-width="1.0" />
<line x1="779.5" y1="184.7" x2="857.7" y2="184.7" stroke="#ebebeb" stroke-width="1.0" />
<line x1="779.5" y1="197.1" x2="857.7" y2="197.1" stroke="#ebebeb" stroke-width="1.0" />
<line x1="779.5" y1="209.5" x2="857.7" y2="209.5" stroke="#ebebeb" stroke-width="1.0" />
<line x1="779.5" y1="221.9" x2="857.7" y2="221.9" stroke="#ebebeb" stroke-width="1.0" />
<line x1="779.5" y1="234.4" x2="857.7" y2="234.4" stroke="#ebebeb" stroke-width="1.0" />
<line x1="779.5" y1="246.8" x2="857.7" y2="246.8" stroke="#ebebeb" stroke-width="1.0" />
<line x1="779.5" y1="259.2" x2="857.7" y2="259.2" stroke="#ebebeb" stroke-width="1.0" />
<line x1="779.5" y1="271.6" x2="857.7" y2="271.6" stroke="#ebebeb" stroke-width="1.0" />
<line x1="779.5" y1="284.0" x2="857.7" y2="284.0" stroke="#ebebeb" stroke-width="1.0" />
<line x1="779.5" y1="296.5" x2="857.7" y2="296.5" stroke="#ebebeb" stroke-width="1.0" />
<line x1="779.5" y1="308.9" x2="857.7" y2="308.9" stroke="#ebebeb" stroke-width="1.0" />
<line x1="779.5" y1="321.3" x2="857.7" y2="321.3" stroke="#ebebeb" stroke-width="1.0" />
<line x1="779.5" y1="333.7" x2="857.7" y2="333.7" stroke="#ebebeb" stroke-width="1.0" />
<line x1="779.5" y1="346.1" x2="857.7" y2="346.1" stroke="#ebebeb" stroke-width="1.0" />
<line x1="779.5" y1="358.6" x2="857.7" y2="358.6" stroke="#ebebeb" stroke-width="1.0" />
<line x1="779.5" y1="371.0" x2="857.7" y2="371.0" stroke="#ebebeb" stroke-width="1.0" />
<line x1="779.5" y1="383.4" x2="857.7" y2="383.4" stroke="#ebebeb" stroke-width="1.0" />
<line x1="779.5" y1="395.8" x2="857.7" y2="395.8" stroke="#ebebeb" stroke-width="1.0" />
<line x1="779.5" y1="408.2" x2="857.7" y2="408.2" stroke="#ebebeb" stroke-width="1.0" />
<line x1="779.5" y1="420.7" x2="857.7" y2="420.7" stroke="#ebebeb" stroke-width="1.0" />
<line x1="779.5" y1="433.1" x2="857.7" y2="433.1" stroke="#ebebeb" stroke-width="1.0" />
<line x1="779.5" y1="445.5" x2="857.7" y2="445.5" stroke="#ebebeb" stroke-width="1.0" />
<line x1="779.5" y1="457.9" x2="857.7" y2="457.9" stroke="#ebebeb" stroke-width="1.0" />
<line x1="779.5" y1="470.3" x2="857.7" y2="470.3" stroke="#ebebeb" stroke-width="1.0" />
<line x1="779.5" y1="482.8" x2="857.7" y2="482.8" stroke="#ebebeb" stroke-width="1.0" />
<line x1="779.5" y1="495.2" x2="857.7" y2="495.2" stroke="#ebebeb" stroke-width="1.0" />
<line x1="805.1" y1="65.2" x2="805.1" y2="505.4" stroke="#ebebeb" stroke-width="1.0" />
<line x1="835.0" y1="65.2" x2="835.0" y2="505.4" stroke="#ebebeb" stroke-width="1.0" />
<circle cx="835.0" cy="72.9" r="3.60" fill="#5a2340" />
<line x1="857.7" y1="72.9" x2="860.3" y2="72.9" stroke="#333" stroke-width="1.0" />
<text x="865.3" y="77.5" font-size="12.9" text-anchor="start" fill="#000" >Photosynthesis</text>
<circle cx="835.0" cy="85.3" r="3.40" fill="#6b2b45" />
<line x1="857.7" y1="85.3" x2="860.3" y2="85.3" stroke="#333" stroke-width="1.0" />
<text x="865.3" y="89.9" font-size="12.9" text-anchor="start" fill="#000" >Citrate cycle (TCA cycle)</text>
<circle cx="835.0" cy="97.7" r="2.10" fill="#5e2542" />
<line x1="857.7" y1="97.7" x2="860.3" y2="97.7" stroke="#333" stroke-width="1.0" />
<text x="865.3" y="102.3" font-size="12.9" text-anchor="start" fill="#000" >Pyruvate metabolism</text>
<circle cx="835.0" cy="110.2" r="2.50" fill="#b86a3c" />
<line x1="857.7" y1="110.2" x2="860.3" y2="110.2" stroke="#333" stroke-width="1.0" />
<text x="865.3" y="114.8" font-size="12.9" text-anchor="start" fill="#000" >Carotenoid biosynthesis</text>
<circle cx="835.0" cy="122.6" r="1.70" fill="#b05c3a" />
<line x1="857.7" y1="122.6" x2="860.3" y2="122.6" stroke="#333" stroke-width="1.0" />
<text x="865.3" y="127.2" font-size="12.9" text-anchor="start" fill="#000" >Lysine degradation</text>
<circle cx="835.0" cy="135.0" r="1.50" fill="#b05c3a" />
<line x1="857.7" y1="135.0" x2="860.3" y2="135.0" stroke="#333" stroke-width="1.0" />
<text x="865.3" y="139.6" font-size="12.9" text-anchor="start" fill="#000" >Fatty acid degradation</text>
<circle cx="835.0" cy="147.4" r="1.10" fill="#8a3f3e" />
<line x1="857.7" y1="147.4" x2="860.3" y2="147.4" stroke="#333" stroke-width="1.0" />
<text x="865.3" y="152.0" font-size="12.9" text-anchor="start" fill="#000" >Glycine, serine and threonine metabolism</text>
<circle cx="835.0" cy="159.8" r="1.10" fill="#a05038" />
<line x1="857.7" y1="159.8" x2="860.3" y2="159.8" stroke="#333" stroke-width="1.0" />
<text x="865.3" y="164.4" font-size="12.9" text-anchor="start" fill="#000" >Phenylalanine metabolism</text>
<circle cx="805.1" cy="172.3" r="2.50" fill="#7a3540" />
<circle cx="835.0" cy="172.3" r="4.60" fill="#4a1838" />
<line x1="857.7" y1="172.3" x2="860.3" y2="172.3" stroke="#333" stroke-width="1.0" />
<text x="865.3" y="176.9" font-size="12.9" text-anchor="start" fill="#000" >Carbon fixation in photosynthetic organisms</text>
<circle cx="805.1" cy="184.7" r="2.30" fill="#5e2440" />
<line x1="857.7" y1="184.7" x2="860.3" y2="184.7" stroke="#333" stroke-width="1.0" />
<text x="865.3" y="189.3" font-size="12.9" text-anchor="start" fill="#000" >Amino sugar and nucleotide sugar metabolism</text>
<circle cx="805.1" cy="197.1" r="2.30" fill="#b05c3a" />
<circle cx="835.0" cy="197.1" r="2.10" fill="#9a4a3e" />
<line x1="857.7" y1="197.1" x2="860.3" y2="197.1" stroke="#333" stroke-width="1.0" />
<text x="865.3" y="201.7" font-size="12.9" text-anchor="start" fill="#000" >Ascorbate and aldarate metabolism</text>
<circle cx="805.1" cy="209.5" r="2.10" fill="#8a3f3e" />
<circle cx="835.0" cy="209.5" r="3.20" fill="#5a2340" />
<line x1="857.7" y1="209.5" x2="860.3" y2="209.5" stroke="#333" stroke-width="1.0" />
<text x="865.3" y="214.1" font-size="12.9" text-anchor="start" fill="#000" >Glyoxylate and dicarboxylate metabolism</text>
<circle cx="805.1" cy="221.9" r="2.10" fill="#9a4a3e" />
<circle cx="835.0" cy="221.9" r="2.50" fill="#7a3540" />
<line x1="857.7" y1="221.9" x2="860.3" y2="221.9" stroke="#333" stroke-width="1.0" />
<text x="865.3" y="226.5" font-size="12.9" text-anchor="start" fill="#000" >Fructose and mannose metabolism</text>
<circle cx="805.1" cy="234.4" r="2.10" fill="#9a4a3e" />
<line x1="857.7" y1="234.4" x2="860.3" y2="234.4" stroke="#333" stroke-width="1.0" />
<text x="865.3" y="239.0" font-size="12.9" text-anchor="start" fill="#000" >Calcium signaling pathway</text>
<circle cx="805.1" cy="246.8" r="2.10" fill="#a85538" />
<circle cx="835.0" cy="246.8" r="3.80" fill="#6b2b45" />
<line x1="857.7" y1="246.8" x2="860.3" y2="246.8" stroke="#333" stroke-width="1.0" />
<text x="865.3" y="251.4" font-size="12.9" text-anchor="start" fill="#000" >Pentose phosphate pathway</text>
<circle cx="805.1" cy="259.2" r="1.90" fill="#a85538" />
<circle cx="835.0" cy="259.2" r="1.70" fill="#9a4a3e" />
<line x1="857.7" y1="259.2" x2="860.3" y2="259.2" stroke="#333" stroke-width="1.0" />
<text x="865.3" y="263.8" font-size="12.9" text-anchor="start" fill="#000" >Arginine and proline metabolism</text>
<circle cx="805.1" cy="271.6" r="1.70" fill="#6b2b45" />
<circle cx="835.0" cy="271.6" r="3.20" fill="#4a1838" />
<line x1="857.7" y1="271.6" x2="860.3" y2="271.6" stroke="#333" stroke-width="1.0" />
<text x="865.3" y="276.2" font-size="12.9" text-anchor="start" fill="#000" >Glycolysis / Gluconeogenesis</text>
<circle cx="805.1" cy="284.0" r="1.90" fill="#a0503a" />
<line x1="857.7" y1="284.0" x2="860.3" y2="284.0" stroke="#333" stroke-width="1.0" />
<text x="865.3" y="288.6" font-size="12.9" text-anchor="start" fill="#000" >Valine, leucine and isoleucine degradation</text>
<circle cx="805.1" cy="296.5" r="1.90" fill="#8a3f3e" />
<line x1="857.7" y1="296.5" x2="860.3" y2="296.5" stroke="#333" stroke-width="1.0" />
<text x="865.3" y="301.1" font-size="12.9" text-anchor="start" fill="#000" >Circadian rhythm</text>
<circle cx="805.1" cy="308.9" r="1.70" fill="#7a3540" />
<line x1="857.7" y1="308.9" x2="860.3" y2="308.9" stroke="#333" stroke-width="1.0" />
<text x="865.3" y="313.5" font-size="12.9" text-anchor="start" fill="#000" >Peroxisome</text>
<circle cx="805.1" cy="321.3" r="1.70" fill="#b8643a" />
<circle cx="835.0" cy="321.3" r="1.70" fill="#b8643a" />
<line x1="857.7" y1="321.3" x2="860.3" y2="321.3" stroke="#333" stroke-width="1.0" />
<text x="865.3" y="325.9" font-size="12.9" text-anchor="start" fill="#000" >Arginine biosynthesis</text>
<circle cx="805.1" cy="333.7" r="1.70" fill="#d07a35" />
<circle cx="835.0" cy="333.7" r="2.10" fill="#c06a38" />
<line x1="857.7" y1="333.7" x2="860.3" y2="333.7" stroke="#333" stroke-width="1.0" />
<text x="865.3" y="338.3" font-size="12.9" text-anchor="start" fill="#000" >Aldosterone synthesis and secretion</text>
<circle cx="805.1" cy="346.1" r="1.70" fill="#b05c3a" />
<line x1="857.7" y1="346.1" x2="860.3" y2="346.1" stroke="#333" stroke-width="1.0" />
<text x="865.3" y="350.7" font-size="12.9" text-anchor="start" fill="#000" >beta−Alanine metabolism</text>
<circle cx="805.1" cy="358.6" r="1.50" fill="#8a3f3e" />
<circle cx="835.0" cy="358.6" r="1.30" fill="#8a3f3e" />
<line x1="857.7" y1="358.6" x2="860.3" y2="358.6" stroke="#333" stroke-width="1.0" />
<text x="865.3" y="363.2" font-size="12.9" text-anchor="start" fill="#000" >Glycerolipid metabolism</text>
<circle cx="805.1" cy="371.0" r="1.50" fill="#a0503a" />
<circle cx="835.0" cy="371.0" r="2.10" fill="#7a3540" />
<line x1="857.7" y1="371.0" x2="860.3" y2="371.0" stroke="#333" stroke-width="1.0" />
<text x="865.3" y="375.6" font-size="12.9" text-anchor="start" fill="#000" >Alanine, aspartate and glutamate metabolism</text>
<circle cx="805.1" cy="383.4" r="1.50" fill="#b05c3a" />
<circle cx="835.0" cy="383.4" r="2.10" fill="#8a3f3e" />
<line x1="857.7" y1="383.4" x2="860.3" y2="383.4" stroke="#333" stroke-width="1.0" />
<text x="865.3" y="388.0" font-size="12.9" text-anchor="start" fill="#000" >Porphyrin and chlorophyll metabolism</text>
<circle cx="805.1" cy="395.8" r="1.50" fill="#c06a38" />
<circle cx="835.0" cy="395.8" r="2.10" fill="#b05c3a" />
<line x1="857.7" y1="395.8" x2="860.3" y2="395.8" stroke="#333" stroke-width="1.0" />
<text x="865.3" y="400.4" font-size="12.9" text-anchor="start" fill="#000" >Circadian entrainment</text>
<circle cx="805.1" cy="408.2" r="1.30" fill="#7a3540" />
<circle cx="835.0" cy="408.2" r="2.10" fill="#6b2b45" />
<line x1="857.7" y1="408.2" x2="860.3" y2="408.2" stroke="#333" stroke-width="1.0" />
<text x="865.3" y="412.8" font-size="12.9" text-anchor="start" fill="#000" >Glutathione metabolism</text>
<circle cx="805.1" cy="420.7" r="1.30" fill="#b05c3a" />
<circle cx="835.0" cy="420.7" r="1.10" fill="#b05c3a" />
<line x1="857.7" y1="420.7" x2="860.3" y2="420.7" stroke="#333" stroke-width="1.0" />
<text x="865.3" y="425.3" font-size="12.9" text-anchor="start" fill="#000" >Phenylalanine, tyrosine and tryptophan biosynthesis</text>
<circle cx="805.1" cy="433.1" r="1.30" fill="#5e2542" />
<circle cx="835.0" cy="433.1" r="1.50" fill="#5e2542" />
<line x1="857.7" y1="433.1" x2="860.3" y2="433.1" stroke="#333" stroke-width="1.0" />
<text x="865.3" y="437.7" font-size="12.9" text-anchor="start" fill="#000" >Cysteine and methionine metabolism</text>
<circle cx="805.1" cy="445.5" r="1.30" fill="#f0a030" />
<line x1="857.7" y1="445.5" x2="860.3" y2="445.5" stroke="#333" stroke-width="1.0" />
<text x="865.3" y="450.1" font-size="12.9" text-anchor="start" fill="#000" >Glycosphingolipid biosynthesis</text>
<circle cx="805.1" cy="457.9" r="1.10" fill="#b05c3a" />
<circle cx="835.0" cy="457.9" r="1.50" fill="#a85538" />
<line x1="857.7" y1="457.9" x2="860.3" y2="457.9" stroke="#333" stroke-width="1.0" />
<text x="865.3" y="462.5" font-size="12.9" text-anchor="start" fill="#000" >Sphingolipid metabolism</text>
<circle cx="805.1" cy="470.3" r="1.10" fill="#d08035" />
<circle cx="835.0" cy="470.3" r="1.70" fill="#c06a38" />
<line x1="857.7" y1="470.3" x2="860.3" y2="470.3" stroke="#333" stroke-width="1.0" />
<text x="865.3" y="474.9" font-size="12.9" text-anchor="start" fill="#000" >Butanoate metabolism</text>
<circle cx="805.1" cy="482.8" r="1.10" fill="#c06a38" />
<line x1="857.7" y1="482.8" x2="860.3" y2="482.8" stroke="#333" stroke-width="1.0" />
<text x="865.3" y="487.4" font-size="12.9" text-anchor="start" fill="#000" >Propanoate metabolism</text>
<circle cx="805.1" cy="495.2" r="0.90" fill="#8a3f3e" />
<circle cx="835.0" cy="495.2" r="0.90" fill="#8a3f3e" />
<line x1="857.7" y1="495.2" x2="860.3" y2="495.2" stroke="#333" stroke-width="1.0" />
<text x="865.3" y="499.8" font-size="12.9" text-anchor="start" fill="#000" >Glycerophospholipid metabolism</text>
<rect x="782.5" y="65.2" width="75.2" height="437.2" fill="none" stroke="#333" stroke-width="1.2"/>
<line x1="805.1" y1="502.4" x2="805.1" y2="505.0" stroke="#333" stroke-width="1.0" />
<text transform="translate(809.8,517.4) rotate(-45)" font-size="15.5" text-anchor="end" fill="#231815">LF</text>
<line x1="835.0" y1="502.4" x2="835.0" y2="505.0" stroke="#333" stroke-width="1.0" />
<text transform="translate(845.5,515.6) rotate(-45)" font-size="16.0" text-anchor="end" fill="#231815">HM</text>
<text x="770.0" y="570.0" font-size="26" text-anchor="start" font-weight="bold" fill="#000" >m</text>
<text x="807.5" y="577.5" font-size="18.8" text-anchor="start" fill="#000" >Fold</text>
<circle cx="852.0" cy="573.0" r="1.30" fill="#000" />
<text x="856.6" y="577.8" font-size="13.6" text-anchor="start" fill="#000" >2.0</text>
<circle cx="881.2" cy="573.0" r="3.10" fill="#000" />
<text x="885.0" y="577.8" font-size="13.6" text-anchor="start" fill="#000" >2.4</text>
<circle cx="909.3" cy="573.0" r="3.75" fill="#000" />
<text x="914.0" y="577.8" font-size="13.6" text-anchor="start" fill="#000" >2.8</text>
<circle cx="941.7" cy="573.0" r="4.20" fill="#000" />
<text x="946.6" y="577.8" font-size="13.6" text-anchor="start" fill="#000" >3.2</text>
<text x="1014.5" y="555.6" font-size="19.8" text-anchor="start" fill="#000" >-log(FDR)</text>
<defs><linearGradient id="fdrg" x1="0" y1="0" x2="1" y2="0"><stop offset="0" stop-color="#27449a"/><stop offset="0.35" stop-color="#6a4a8a"/><stop offset="0.7" stop-color="#c86a72"/><stop offset="1" stop-color="#f6835a"/></linearGradient></defs>
<rect x="1032.4" y="568.0" width="50.4" height="10.4" fill="url(#fdrg)"/>
<line x1="1043.4" y1="568.0" x2="1043.4" y2="570.2" stroke="#fff" stroke-width="0.8" />
<line x1="1043.4" y1="576.2" x2="1043.4" y2="578.4" stroke="#fff" stroke-width="0.8" />
<line x1="1068.6" y1="568.0" x2="1068.6" y2="570.2" stroke="#fff" stroke-width="0.8" />
<line x1="1068.6" y1="576.2" x2="1068.6" y2="578.4" stroke="#fff" stroke-width="0.8" />
<text x="1043.0" y="590.4" font-size="12.8" text-anchor="middle" fill="#000" >5</text>
<text x="1071.4" y="590.4" font-size="12.8" text-anchor="middle" fill="#000" >10</text>
<rect x="784.5" y="591.7" width="75.3" height="456.6" fill="#fff"/>
<line x1="781.5" y1="600.8" x2="859.8" y2="600.8" stroke="#ebebeb" stroke-width="1.0" />
<line x1="781.5" y1="615.9" x2="859.8" y2="615.9" stroke="#ebebeb" stroke-width="1.0" />
<line x1="781.5" y1="631.1" x2="859.8" y2="631.1" stroke="#ebebeb" stroke-width="1.0" />
<line x1="781.5" y1="646.2" x2="859.8" y2="646.2" stroke="#ebebeb" stroke-width="1.0" />
<line x1="781.5" y1="661.4" x2="859.8" y2="661.4" stroke="#ebebeb" stroke-width="1.0" />
<line x1="781.5" y1="676.5" x2="859.8" y2="676.5" stroke="#ebebeb" stroke-width="1.0" />
<line x1="781.5" y1="691.6" x2="859.8" y2="691.6" stroke="#ebebeb" stroke-width="1.0" />
<line x1="781.5" y1="706.8" x2="859.8" y2="706.8" stroke="#ebebeb" stroke-width="1.0" />
<line x1="781.5" y1="721.9" x2="859.8" y2="721.9" stroke="#ebebeb" stroke-width="1.0" />
<line x1="781.5" y1="737.0" x2="859.8" y2="737.0" stroke="#ebebeb" stroke-width="1.0" />
<line x1="781.5" y1="752.2" x2="859.8" y2="752.2" stroke="#ebebeb" stroke-width="1.0" />
<line x1="781.5" y1="767.3" x2="859.8" y2="767.3" stroke="#ebebeb" stroke-width="1.0" />
<line x1="781.5" y1="782.5" x2="859.8" y2="782.5" stroke="#ebebeb" stroke-width="1.0" />
<line x1="781.5" y1="797.6" x2="859.8" y2="797.6" stroke="#ebebeb" stroke-width="1.0" />
<line x1="781.5" y1="812.7" x2="859.8" y2="812.7" stroke="#ebebeb" stroke-width="1.0" />
<line x1="781.5" y1="827.9" x2="859.8" y2="827.9" stroke="#ebebeb" stroke-width="1.0" />
<line x1="781.5" y1="843.0" x2="859.8" y2="843.0" stroke="#ebebeb" stroke-width="1.0" />
<line x1="781.5" y1="858.1" x2="859.8" y2="858.1" stroke="#ebebeb" stroke-width="1.0" />
<line x1="781.5" y1="873.3" x2="859.8" y2="873.3" stroke="#ebebeb" stroke-width="1.0" />
<line x1="781.5" y1="888.4" x2="859.8" y2="888.4" stroke="#ebebeb" stroke-width="1.0" />
<line x1="781.5" y1="903.6" x2="859.8" y2="903.6" stroke="#ebebeb" stroke-width="1.0" />
<line x1="781.5" y1="918.7" x2="859.8" y2="918.7" stroke="#ebebeb" stroke-width="1.0" />
<line x1="781.5" y1="933.8" x2="859.8" y2="933.8" stroke="#ebebeb" stroke-width="1.0" />
<line x1="781.5" y1="949.0" x2="859.8" y2="949.0" stroke="#ebebeb" stroke-width="1.0" />
<line x1="781.5" y1="964.1" x2="859.8" y2="964.1" stroke="#ebebeb" stroke-width="1.0" />
<line x1="781.5" y1="979.2" x2="859.8" y2="979.2" stroke="#ebebeb" stroke-width="1.0" />
<line x1="781.5" y1="994.4" x2="859.8" y2="994.4" stroke="#ebebeb" stroke-width="1.0" />
<line x1="781.5" y1="1009.5" x2="859.8" y2="1009.5" stroke="#ebebeb" stroke-width="1.0" />
<line x1="781.5" y1="1024.7" x2="859.8" y2="1024.7" stroke="#ebebeb" stroke-width="1.0" />
<line x1="781.5" y1="1039.8" x2="859.8" y2="1039.8" stroke="#ebebeb" stroke-width="1.0" />
<line x1="804.8" y1="591.7" x2="804.8" y2="1051.3" stroke="#ebebeb" stroke-width="1.0" />
<line x1="839.2" y1="591.7" x2="839.2" y2="1051.3" stroke="#ebebeb" stroke-width="1.0" />
<circle cx="804.8" cy="600.8" r="3.64" fill="#a0587a" />
<line x1="859.8" y1="600.8" x2="862.4" y2="600.8" stroke="#333" stroke-width="1.0" />
<text x="868.7" y="605.4" font-size="12.9" text-anchor="start" fill="#000" >Galactose metabolism</text>
<circle cx="804.8" cy="615.9" r="3.64" fill="#9a5678" />
<line x1="859.8" y1="615.9" x2="862.4" y2="615.9" stroke="#333" stroke-width="1.0" />
<text x="868.7" y="620.5" font-size="12.9" text-anchor="start" fill="#000" >Phosphotransferase system (PTS)</text>
<circle cx="804.8" cy="631.1" r="3.64" fill="#8a5080" />
<line x1="859.8" y1="631.1" x2="862.4" y2="631.1" stroke="#333" stroke-width="1.0" />
<text x="868.7" y="635.7" font-size="12.9" text-anchor="start" fill="#000" >Phenylpropanoid biosynthesis</text>
<circle cx="804.8" cy="646.2" r="3.64" fill="#6a4c88" />
<line x1="859.8" y1="646.2" x2="862.4" y2="646.2" stroke="#333" stroke-width="1.0" />
<text x="868.7" y="650.8" font-size="12.9" text-anchor="start" fill="#000" >Tropane, piperidine and pyridine alkaloid biosynthesis</text>
<circle cx="804.8" cy="661.4" r="3.64" fill="#604a88" />
<line x1="859.8" y1="661.4" x2="862.4" y2="661.4" stroke="#333" stroke-width="1.0" />
<text x="868.7" y="666.0" font-size="12.9" text-anchor="start" fill="#000" >Glucosinolate biosynthesis</text>
<circle cx="804.8" cy="676.5" r="4.28" fill="#5c4888" />
<line x1="859.8" y1="676.5" x2="862.4" y2="676.5" stroke="#333" stroke-width="1.0" />
<text x="868.7" y="681.1" font-size="12.9" text-anchor="start" fill="#000" >Glycolysis / Gluconeogenesis</text>
<circle cx="804.8" cy="691.6" r="4.71" fill="#3c4890" />
<line x1="859.8" y1="691.6" x2="862.4" y2="691.6" stroke="#333" stroke-width="1.0" />
<text x="868.7" y="696.2" font-size="12.9" text-anchor="start" fill="#000" >Citrate cycle (TCA cycle)</text>
<circle cx="804.8" cy="706.8" r="4.28" fill="#33448e" />
<line x1="859.8" y1="706.8" x2="862.4" y2="706.8" stroke="#333" stroke-width="1.0" />
<text x="868.7" y="711.4" font-size="12.9" text-anchor="start" fill="#000" >Glyoxylate and dicarboxylate metabolism</text>
<circle cx="804.8" cy="721.9" r="4.28" fill="#33448e" />
<line x1="859.8" y1="721.9" x2="862.4" y2="721.9" stroke="#333" stroke-width="1.0" />
<text x="868.7" y="726.5" font-size="12.9" text-anchor="start" fill="#000" >Nicotinate and nicotinamide metabolism</text>
<circle cx="804.8" cy="737.0" r="4.28" fill="#2f448e" />
<line x1="859.8" y1="737.0" x2="862.4" y2="737.0" stroke="#333" stroke-width="1.0" />
<text x="868.7" y="741.6" font-size="12.9" text-anchor="start" fill="#000" >Phenylalanine metabolism</text>
<circle cx="804.8" cy="752.2" r="4.71" fill="#2a4290" />
<line x1="859.8" y1="752.2" x2="862.4" y2="752.2" stroke="#333" stroke-width="1.0" />
<text x="868.7" y="756.8" font-size="12.9" text-anchor="start" fill="#000" >Sphingolipid metabolism</text>
<circle cx="804.8" cy="767.3" r="4.28" fill="#a05878" />
<circle cx="839.2" cy="767.3" r="3.42" fill="#a65878" />
<line x1="859.8" y1="767.3" x2="862.4" y2="767.3" stroke="#333" stroke-width="1.0" />
<text x="868.7" y="771.9" font-size="12.9" text-anchor="start" fill="#000" >Alanine, aspartate and glutamate metabolism</text>
<circle cx="804.8" cy="782.5" r="3.85" fill="#955682" />
<circle cx="839.2" cy="782.5" r="3.10" fill="#a05878" />
<line x1="859.8" y1="782.5" x2="862.4" y2="782.5" stroke="#333" stroke-width="1.0" />
<text x="868.7" y="787.1" font-size="12.9" text-anchor="start" fill="#000" >Glycine, serine and threonine metabolism</text>
<circle cx="804.8" cy="797.6" r="1.18" fill="#f07850" />
<circle cx="839.2" cy="797.6" r="2.03" fill="#9a5678" />
<line x1="859.8" y1="797.6" x2="862.4" y2="797.6" stroke="#333" stroke-width="1.0" />
<text x="868.7" y="802.2" font-size="12.9" text-anchor="start" fill="#000" >Biosynthesis of phenylpropanoids</text>
<circle cx="804.8" cy="812.7" r="2.89" fill="#d06860" />
<circle cx="839.2" cy="812.7" r="3.10" fill="#7a5088" />
<line x1="859.8" y1="812.7" x2="862.4" y2="812.7" stroke="#333" stroke-width="1.0" />
<text x="868.7" y="817.3" font-size="12.9" text-anchor="start" fill="#000" >Biosynthesis of plant hormones</text>
<circle cx="804.8" cy="827.9" r="2.14" fill="#f07850" />
<circle cx="839.2" cy="827.9" r="2.78" fill="#8a5080" />
<line x1="859.8" y1="827.9" x2="862.4" y2="827.9" stroke="#333" stroke-width="1.0" />
<text x="868.7" y="832.5" font-size="12.9" text-anchor="start" fill="#000" >Biosynthesis of alkaloids derived from nicotinic acid</text>
<circle cx="804.8" cy="843.0" r="3.85" fill="#5c4888" />
<circle cx="839.2" cy="843.0" r="3.53" fill="#7a5088" />
<line x1="859.8" y1="843.0" x2="862.4" y2="843.0" stroke="#333" stroke-width="1.0" />
<text x="868.7" y="847.6" font-size="12.9" text-anchor="start" fill="#000" >Pantothenate and CoA biosynthesis</text>
<circle cx="804.8" cy="858.1" r="3.85" fill="#5c4888" />
<circle cx="839.2" cy="858.1" r="3.53" fill="#7a5088" />
<line x1="859.8" y1="858.1" x2="862.4" y2="858.1" stroke="#333" stroke-width="1.0" />
<text x="868.7" y="862.7" font-size="12.9" text-anchor="start" fill="#000" >Valine, leucine and isoleucine biosynthesis</text>
<circle cx="804.8" cy="873.3" r="3.00" fill="#a05878" />
<circle cx="839.2" cy="873.3" r="2.78" fill="#7a5088" />
<line x1="859.8" y1="873.3" x2="862.4" y2="873.3" stroke="#333" stroke-width="1.0" />
<text x="868.7" y="877.9" font-size="12.9" text-anchor="start" fill="#000" >Arginine and proline metabolism</text>
<circle cx="804.8" cy="888.4" r="3.32" fill="#4a4890" />
<circle cx="839.2" cy="888.4" r="3.00" fill="#7a5088" />
<line x1="859.8" y1="888.4" x2="862.4" y2="888.4" stroke="#333" stroke-width="1.0" />
<text x="868.7" y="893.0" font-size="12.9" text-anchor="start" fill="#000" >Cysteine and methionine metabolism</text>
<circle cx="804.8" cy="903.6" r="4.07" fill="#a05878" />
<circle cx="839.2" cy="903.6" r="3.85" fill="#6a4c88" />
<line x1="859.8" y1="903.6" x2="862.4" y2="903.6" stroke="#333" stroke-width="1.0" />
<text x="868.7" y="908.2" font-size="12.9" text-anchor="start" fill="#000" >Reductive carboxylate cycle (CO2 fixation)</text>
<circle cx="804.8" cy="918.7" r="3.85" fill="#3c4890" />
<circle cx="839.2" cy="918.7" r="3.32" fill="#6a4c88" />
<line x1="859.8" y1="918.7" x2="862.4" y2="918.7" stroke="#333" stroke-width="1.0" />
<text x="868.7" y="923.3" font-size="12.9" text-anchor="start" fill="#000" >Glutathione metabolism</text>
<circle cx="804.8" cy="933.8" r="1.93" fill="#a05878" />
<circle cx="839.2" cy="933.8" r="2.14" fill="#5c4888" />
<line x1="859.8" y1="933.8" x2="862.4" y2="933.8" stroke="#333" stroke-width="1.0" />
<text x="868.7" y="938.4" font-size="12.9" text-anchor="start" fill="#000" >Biosynthesis of alkaloids derived from shikimate pathway</text>
<circle cx="839.2" cy="949.0" r="3.32" fill="#3c4890" />
<line x1="859.8" y1="949.0" x2="862.4" y2="949.0" stroke="#333" stroke-width="1.0" />
<text x="868.7" y="953.6" font-size="12.9" text-anchor="start" fill="#000" >Fatty acid biosynthesis</text>
<circle cx="839.2" cy="964.1" r="3.85" fill="#33448e" />
<line x1="859.8" y1="964.1" x2="862.4" y2="964.1" stroke="#333" stroke-width="1.0" />
<text x="868.7" y="968.7" font-size="12.9" text-anchor="start" fill="#000" >Nitrogen metabolism</text>
<circle cx="804.8" cy="979.2" r="3.53" fill="#d06860" />
<circle cx="839.2" cy="979.2" r="3.85" fill="#33448e" />
<line x1="859.8" y1="979.2" x2="862.4" y2="979.2" stroke="#333" stroke-width="1.0" />
<text x="868.7" y="983.9" font-size="12.9" text-anchor="start" fill="#000" >Phenylalanine, tyrosine and tryptophan biosynthesis</text>
<circle cx="839.2" cy="994.4" r="3.32" fill="#3c4890" />
<line x1="859.8" y1="994.4" x2="862.4" y2="994.4" stroke="#333" stroke-width="1.0" />
<text x="868.7" y="999.0" font-size="12.9" text-anchor="start" fill="#000" >Benzoate degradation via CoA ligation</text>
<circle cx="804.8" cy="1009.5" r="3.85" fill="#4a4890" />
<circle cx="839.2" cy="1009.5" r="3.85" fill="#2a4290" />
<line x1="859.8" y1="1009.5" x2="862.4" y2="1009.5" stroke="#333" stroke-width="1.0" />
<text x="868.7" y="1014.1" font-size="12.9" text-anchor="start" fill="#000" >Biosynthesis of alkaloids derived from histidine and purine</text>
<circle cx="839.2" cy="1024.7" r="3.85" fill="#224494" />
<line x1="859.8" y1="1024.7" x2="862.4" y2="1024.7" stroke="#333" stroke-width="1.0" />
<text x="868.7" y="1029.3" font-size="12.9" text-anchor="start" fill="#000" >Propanoate metabolism</text>
<circle cx="839.2" cy="1039.8" r="3.85" fill="#0e4490" />
<line x1="859.8" y1="1039.8" x2="862.4" y2="1039.8" stroke="#333" stroke-width="1.0" />
<text x="868.7" y="1044.4" font-size="12.9" text-anchor="start" fill="#000" >Butanoate metabolism</text>
<rect x="784.5" y="591.7" width="75.3" height="456.6" fill="none" stroke="#333" stroke-width="1.2"/>
<line x1="804.8" y1="1048.3" x2="804.8" y2="1050.9" stroke="#333" stroke-width="1.0" />
<text transform="translate(812.3,1066.8) rotate(-45)" font-size="15.5" text-anchor="end" fill="#231815">LF</text>
<line x1="839.2" y1="1048.3" x2="839.2" y2="1050.9" stroke="#333" stroke-width="1.0" />
<text transform="translate(849.2,1064.8) rotate(-45)" font-size="16.0" text-anchor="end" fill="#231815">HM</text>
</svg></body></html>
